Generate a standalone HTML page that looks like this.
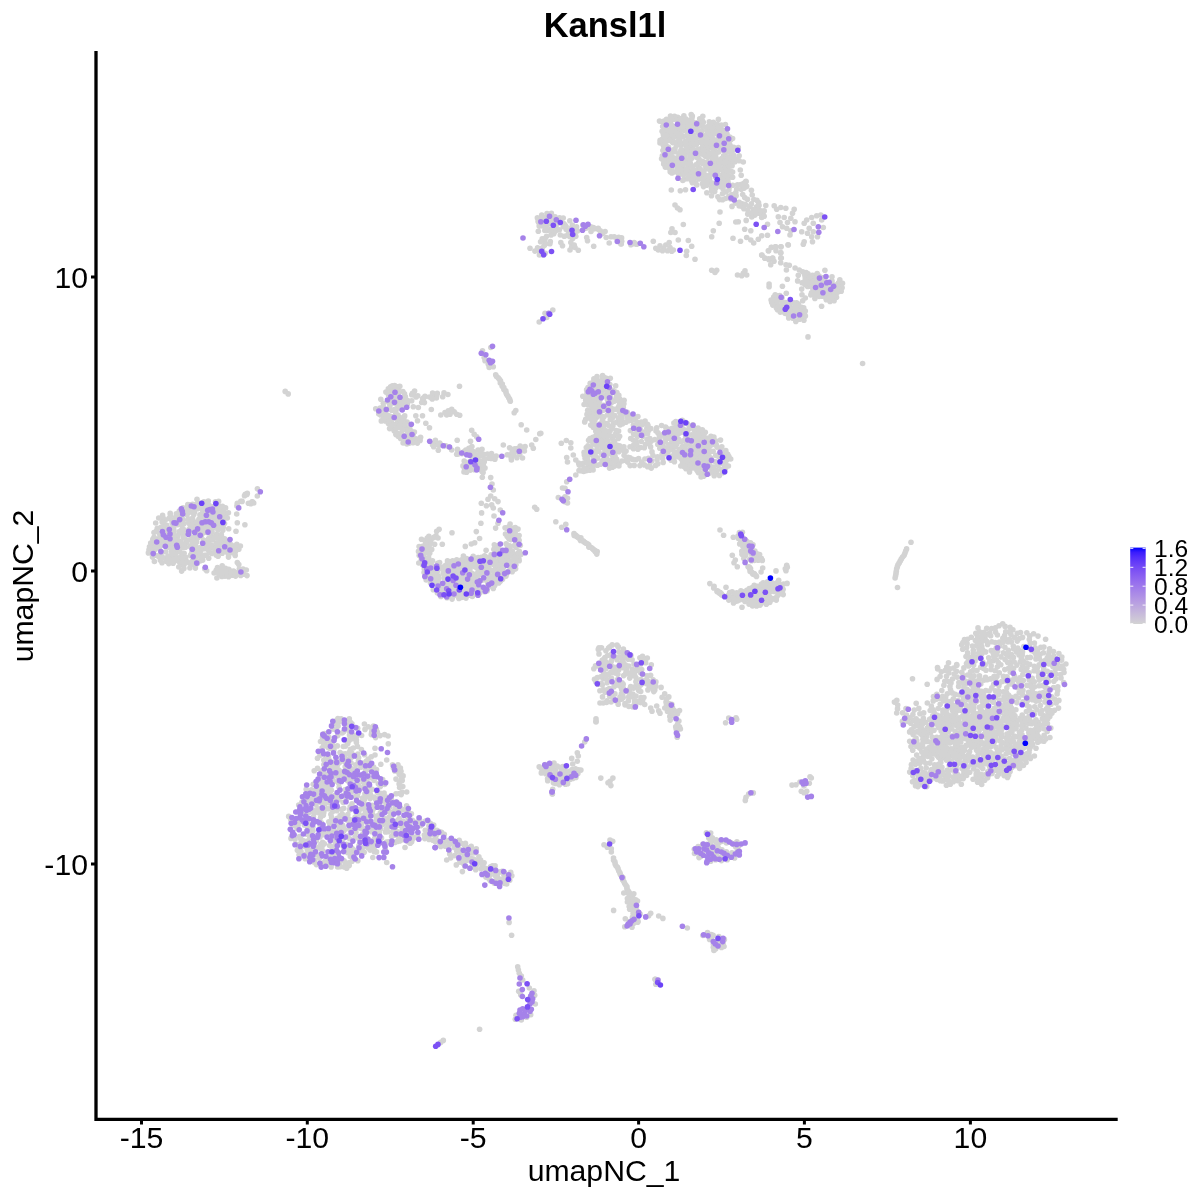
<!DOCTYPE html>
<html><head><meta charset="utf-8"><title>Kansl1l</title>
<style>
html,body{margin:0;padding:0;background:#fff;}
svg{display:block}
text{font-family:"Liberation Sans",sans-serif;fill:#000}
</style></head>
<body>
<svg width="1200" height="1200" viewBox="0 0 1200 1200">
<defs>
<linearGradient id="lg" x1="0" y1="1" x2="0" y2="0">
<stop offset="0.000" stop-color="#d3d3d3"/><stop offset="0.062" stop-color="#cec7d7"/><stop offset="0.125" stop-color="#c8bcda"/><stop offset="0.188" stop-color="#c2b0dd"/><stop offset="0.250" stop-color="#bba5e0"/><stop offset="0.312" stop-color="#b599e3"/><stop offset="0.375" stop-color="#ad8ee6"/><stop offset="0.438" stop-color="#a583e9"/><stop offset="0.500" stop-color="#9d77ec"/><stop offset="0.562" stop-color="#946cee"/><stop offset="0.625" stop-color="#8a60f1"/><stop offset="0.688" stop-color="#7f54f3"/><stop offset="0.750" stop-color="#7248f6"/><stop offset="0.812" stop-color="#633bf8"/><stop offset="0.875" stop-color="#522dfb"/><stop offset="0.938" stop-color="#3a1cfd"/><stop offset="1.000" stop-color="#0000ff"/>
</linearGradient>
</defs>
<rect width="1200" height="1200" fill="#fff"/>
<text x="605" y="37" font-size="34.5" font-weight="bold" text-anchor="middle">Kansl1l</text>
<g fill="#d3d3d3">
<circle cx="682.8" cy="122.9" r="2.8"/>
<circle cx="692.3" cy="116.1" r="2.8"/>
<circle cx="665.5" cy="128.9" r="2.8"/>
<circle cx="679.9" cy="122.3" r="2.8"/>
<circle cx="670.5" cy="158.7" r="2.8"/>
<circle cx="691.8" cy="136.5" r="2.8"/>
<circle cx="723.5" cy="168.5" r="2.8"/>
<circle cx="730.5" cy="171.0" r="2.8"/>
<circle cx="691.0" cy="173.3" r="2.8"/>
<circle cx="712.6" cy="173.9" r="2.8"/>
<circle cx="715.0" cy="159.8" r="2.8"/>
<circle cx="715.5" cy="164.2" r="2.8"/>
<circle cx="688.2" cy="165.9" r="2.8"/>
<circle cx="676.3" cy="142.8" r="2.8"/>
<circle cx="702.4" cy="183.8" r="2.8"/>
<circle cx="690.8" cy="140.2" r="2.8"/>
<circle cx="670.1" cy="129.6" r="2.8"/>
<circle cx="708.3" cy="166.6" r="2.8"/>
<circle cx="730.5" cy="176.7" r="2.8"/>
<circle cx="668.9" cy="138.6" r="2.8"/>
<circle cx="663.6" cy="140.6" r="2.8"/>
<circle cx="667.7" cy="131.3" r="2.8"/>
<circle cx="700.5" cy="122.5" r="2.8"/>
<circle cx="686.6" cy="124.2" r="2.8"/>
<circle cx="683.3" cy="128.9" r="2.8"/>
<circle cx="724.6" cy="178.4" r="2.8"/>
<circle cx="677.3" cy="167.9" r="2.8"/>
<circle cx="674.5" cy="126.7" r="2.8"/>
<circle cx="727.5" cy="150.2" r="2.8"/>
<circle cx="712.0" cy="186.0" r="2.8"/>
<circle cx="717.5" cy="124.5" r="2.8"/>
<circle cx="711.7" cy="139.5" r="2.8"/>
<circle cx="692.4" cy="182.8" r="2.8"/>
<circle cx="680.2" cy="130.3" r="2.8"/>
<circle cx="698.2" cy="154.6" r="2.8"/>
<circle cx="695.8" cy="170.6" r="2.8"/>
<circle cx="702.9" cy="175.6" r="2.8"/>
<circle cx="678.8" cy="174.6" r="2.8"/>
<circle cx="733.8" cy="147.2" r="2.8"/>
<circle cx="714.8" cy="148.0" r="2.8"/>
<circle cx="715.3" cy="183.2" r="2.8"/>
<circle cx="692.2" cy="153.2" r="2.8"/>
<circle cx="663.9" cy="132.4" r="2.8"/>
<circle cx="666.0" cy="145.5" r="2.8"/>
<circle cx="694.1" cy="138.5" r="2.8"/>
<circle cx="666.0" cy="154.2" r="2.8"/>
<circle cx="720.5" cy="134.4" r="2.8"/>
<circle cx="702.5" cy="126.1" r="2.8"/>
<circle cx="725.7" cy="146.3" r="2.8"/>
<circle cx="698.7" cy="167.5" r="2.8"/>
<circle cx="659.5" cy="121.1" r="2.8"/>
<circle cx="712.8" cy="133.8" r="2.8"/>
<circle cx="668.5" cy="147.4" r="2.8"/>
<circle cx="702.2" cy="130.7" r="2.8"/>
<circle cx="672.2" cy="152.3" r="2.8"/>
<circle cx="675.0" cy="159.0" r="2.8"/>
<circle cx="718.3" cy="177.9" r="2.8"/>
<circle cx="727.1" cy="177.3" r="2.8"/>
<circle cx="713.9" cy="168.0" r="2.8"/>
<circle cx="686.0" cy="119.1" r="2.8"/>
<circle cx="723.8" cy="172.6" r="2.8"/>
<circle cx="677.8" cy="171.0" r="2.8"/>
<circle cx="697.6" cy="142.1" r="2.8"/>
<circle cx="708.2" cy="163.8" r="2.8"/>
<circle cx="719.1" cy="135.7" r="2.8"/>
<circle cx="678.1" cy="166.2" r="2.8"/>
<circle cx="699.5" cy="149.0" r="2.8"/>
<circle cx="694.5" cy="178.5" r="2.8"/>
<circle cx="725.8" cy="152.6" r="2.8"/>
<circle cx="732.5" cy="150.8" r="2.8"/>
<circle cx="693.8" cy="135.4" r="2.8"/>
<circle cx="679.9" cy="141.3" r="2.8"/>
<circle cx="686.0" cy="145.9" r="2.8"/>
<circle cx="727.0" cy="134.1" r="2.8"/>
<circle cx="699.0" cy="126.1" r="2.8"/>
<circle cx="725.1" cy="162.8" r="2.8"/>
<circle cx="719.9" cy="163.9" r="2.8"/>
<circle cx="665.8" cy="149.6" r="2.8"/>
<circle cx="703.0" cy="143.1" r="2.8"/>
<circle cx="662.7" cy="138.8" r="2.8"/>
<circle cx="698.4" cy="162.7" r="2.8"/>
<circle cx="728.2" cy="182.9" r="2.8"/>
<circle cx="710.8" cy="173.9" r="2.8"/>
<circle cx="722.5" cy="129.7" r="2.8"/>
<circle cx="688.4" cy="128.9" r="2.8"/>
<circle cx="695.9" cy="129.9" r="2.8"/>
<circle cx="691.2" cy="131.7" r="2.8"/>
<circle cx="674.8" cy="128.7" r="2.8"/>
<circle cx="660.0" cy="143.0" r="2.8"/>
<circle cx="687.6" cy="141.4" r="2.8"/>
<circle cx="679.0" cy="139.6" r="2.8"/>
<circle cx="672.8" cy="140.0" r="2.8"/>
<circle cx="690.4" cy="177.9" r="2.8"/>
<circle cx="732.6" cy="138.5" r="2.8"/>
<circle cx="692.0" cy="151.4" r="2.8"/>
<circle cx="683.2" cy="136.9" r="2.8"/>
<circle cx="671.9" cy="172.9" r="2.8"/>
<circle cx="702.6" cy="137.4" r="2.8"/>
<circle cx="677.7" cy="117.3" r="2.8"/>
<circle cx="693.5" cy="129.8" r="2.8"/>
<circle cx="719.5" cy="180.8" r="2.8"/>
<circle cx="680.2" cy="157.5" r="2.8"/>
<circle cx="676.2" cy="130.7" r="2.8"/>
<circle cx="683.1" cy="143.3" r="2.8"/>
<circle cx="724.8" cy="164.7" r="2.8"/>
<circle cx="725.7" cy="180.2" r="2.8"/>
<circle cx="665.1" cy="126.1" r="2.8"/>
<circle cx="708.5" cy="128.4" r="2.8"/>
<circle cx="676.9" cy="160.2" r="2.8"/>
<circle cx="683.1" cy="166.7" r="2.8"/>
<circle cx="723.6" cy="155.9" r="2.8"/>
<circle cx="702.4" cy="163.5" r="2.8"/>
<circle cx="690.3" cy="133.9" r="2.8"/>
<circle cx="703.8" cy="140.0" r="2.8"/>
<circle cx="686.3" cy="126.7" r="2.8"/>
<circle cx="731.2" cy="148.7" r="2.8"/>
<circle cx="686.9" cy="152.3" r="2.8"/>
<circle cx="728.0" cy="179.3" r="2.8"/>
<circle cx="699.6" cy="142.2" r="2.8"/>
<circle cx="705.2" cy="145.7" r="2.8"/>
<circle cx="720.9" cy="175.2" r="2.8"/>
<circle cx="664.1" cy="121.0" r="2.8"/>
<circle cx="718.3" cy="175.0" r="2.8"/>
<circle cx="685.2" cy="173.2" r="2.8"/>
<circle cx="672.9" cy="132.2" r="2.8"/>
<circle cx="670.6" cy="123.7" r="2.8"/>
<circle cx="709.9" cy="140.3" r="2.8"/>
<circle cx="688.9" cy="176.7" r="2.8"/>
<circle cx="708.1" cy="146.3" r="2.8"/>
<circle cx="674.5" cy="164.7" r="2.8"/>
<circle cx="705.8" cy="127.3" r="2.8"/>
<circle cx="710.0" cy="182.8" r="2.8"/>
<circle cx="710.7" cy="147.2" r="2.8"/>
<circle cx="707.4" cy="152.5" r="2.8"/>
<circle cx="681.6" cy="135.3" r="2.8"/>
<circle cx="719.7" cy="168.1" r="2.8"/>
<circle cx="702.7" cy="146.6" r="2.8"/>
<circle cx="727.5" cy="168.4" r="2.8"/>
<circle cx="704.2" cy="135.9" r="2.8"/>
<circle cx="672.6" cy="119.6" r="2.8"/>
<circle cx="709.7" cy="179.0" r="2.8"/>
<circle cx="716.7" cy="140.9" r="2.8"/>
<circle cx="728.5" cy="161.8" r="2.8"/>
<circle cx="721.7" cy="139.2" r="2.8"/>
<circle cx="715.3" cy="151.8" r="2.8"/>
<circle cx="685.6" cy="143.7" r="2.8"/>
<circle cx="675.0" cy="148.7" r="2.8"/>
<circle cx="727.8" cy="165.4" r="2.8"/>
<circle cx="721.7" cy="158.5" r="2.8"/>
<circle cx="683.1" cy="153.8" r="2.8"/>
<circle cx="718.3" cy="146.5" r="2.8"/>
<circle cx="672.7" cy="142.6" r="2.8"/>
<circle cx="667.1" cy="160.5" r="2.8"/>
<circle cx="692.0" cy="158.1" r="2.8"/>
<circle cx="717.3" cy="183.5" r="2.8"/>
<circle cx="713.6" cy="163.7" r="2.8"/>
<circle cx="663.3" cy="145.2" r="2.8"/>
<circle cx="676.5" cy="145.6" r="2.8"/>
<circle cx="722.1" cy="142.7" r="2.8"/>
<circle cx="699.7" cy="118.7" r="2.8"/>
<circle cx="688.8" cy="173.8" r="2.8"/>
<circle cx="691.0" cy="145.3" r="2.8"/>
<circle cx="674.2" cy="172.0" r="2.8"/>
<circle cx="724.2" cy="142.9" r="2.8"/>
<circle cx="702.3" cy="120.7" r="2.8"/>
<circle cx="678.0" cy="141.6" r="2.8"/>
<circle cx="680.9" cy="150.2" r="2.8"/>
<circle cx="731.9" cy="160.9" r="2.8"/>
<circle cx="723.0" cy="180.1" r="2.8"/>
<circle cx="727.5" cy="141.5" r="2.8"/>
<circle cx="709.9" cy="163.2" r="2.8"/>
<circle cx="696.8" cy="185.0" r="2.8"/>
<circle cx="700.3" cy="174.4" r="2.8"/>
<circle cx="702.8" cy="179.1" r="2.8"/>
<circle cx="698.4" cy="132.9" r="2.8"/>
<circle cx="723.3" cy="137.9" r="2.8"/>
<circle cx="709.7" cy="175.6" r="2.8"/>
<circle cx="723.1" cy="186.0" r="2.8"/>
<circle cx="712.5" cy="148.4" r="2.8"/>
<circle cx="686.7" cy="178.7" r="2.8"/>
<circle cx="681.0" cy="145.4" r="2.8"/>
<circle cx="663.7" cy="163.9" r="2.8"/>
<circle cx="717.1" cy="130.5" r="2.8"/>
<circle cx="721.8" cy="169.7" r="2.8"/>
<circle cx="709.2" cy="169.3" r="2.8"/>
<circle cx="713.4" cy="122.4" r="2.8"/>
<circle cx="683.6" cy="160.7" r="2.8"/>
<circle cx="705.6" cy="178.2" r="2.8"/>
<circle cx="725.0" cy="182.5" r="2.8"/>
<circle cx="724.6" cy="174.6" r="2.8"/>
<circle cx="731.4" cy="153.7" r="2.8"/>
<circle cx="671.5" cy="125.4" r="2.8"/>
<circle cx="689.6" cy="153.3" r="2.8"/>
<circle cx="696.9" cy="157.5" r="2.8"/>
<circle cx="706.6" cy="143.4" r="2.8"/>
<circle cx="688.8" cy="147.6" r="2.8"/>
<circle cx="664.0" cy="137.3" r="2.8"/>
<circle cx="684.2" cy="178.8" r="2.8"/>
<circle cx="669.3" cy="151.2" r="2.8"/>
<circle cx="673.1" cy="150.0" r="2.8"/>
<circle cx="663.3" cy="134.4" r="2.8"/>
<circle cx="672.7" cy="161.3" r="2.8"/>
<circle cx="686.9" cy="159.8" r="2.8"/>
<circle cx="729.7" cy="137.0" r="2.8"/>
<circle cx="715.3" cy="126.6" r="2.8"/>
<circle cx="700.1" cy="168.8" r="2.8"/>
<circle cx="679.0" cy="120.5" r="2.8"/>
<circle cx="691.2" cy="180.2" r="2.8"/>
<circle cx="710.3" cy="132.4" r="2.8"/>
<circle cx="734.8" cy="162.0" r="2.8"/>
<circle cx="665.2" cy="159.8" r="2.8"/>
<circle cx="695.2" cy="154.7" r="2.8"/>
<circle cx="662.4" cy="155.8" r="2.8"/>
<circle cx="711.1" cy="127.1" r="2.8"/>
<circle cx="707.8" cy="149.3" r="2.8"/>
<circle cx="718.4" cy="119.4" r="2.8"/>
<circle cx="708.1" cy="181.0" r="2.8"/>
<circle cx="728.3" cy="151.9" r="2.8"/>
<circle cx="667.4" cy="158.2" r="2.8"/>
<circle cx="682.8" cy="180.5" r="2.8"/>
<circle cx="703.7" cy="151.7" r="2.8"/>
<circle cx="725.4" cy="124.5" r="2.8"/>
<circle cx="668.4" cy="134.4" r="2.8"/>
<circle cx="670.6" cy="162.7" r="2.8"/>
<circle cx="681.4" cy="167.8" r="2.8"/>
<circle cx="705.5" cy="165.9" r="2.8"/>
<circle cx="677.8" cy="164.1" r="2.8"/>
<circle cx="690.4" cy="120.4" r="2.8"/>
<circle cx="707.9" cy="177.4" r="2.8"/>
<circle cx="682.8" cy="169.8" r="2.8"/>
<circle cx="693.7" cy="142.4" r="2.8"/>
<circle cx="688.6" cy="170.1" r="2.8"/>
<circle cx="696.7" cy="176.3" r="2.8"/>
<circle cx="716.8" cy="133.8" r="2.8"/>
<circle cx="690.5" cy="165.1" r="2.8"/>
<circle cx="685.3" cy="162.6" r="2.8"/>
<circle cx="718.3" cy="169.6" r="2.8"/>
<circle cx="672.0" cy="135.5" r="2.8"/>
<circle cx="710.0" cy="125.3" r="2.8"/>
<circle cx="676.0" cy="119.6" r="2.8"/>
<circle cx="715.6" cy="177.3" r="2.8"/>
<circle cx="710.0" cy="155.6" r="2.8"/>
<circle cx="690.4" cy="127.1" r="2.8"/>
<circle cx="712.8" cy="130.1" r="2.8"/>
<circle cx="702.3" cy="173.6" r="2.8"/>
<circle cx="694.7" cy="174.1" r="2.8"/>
<circle cx="671.9" cy="168.7" r="2.8"/>
<circle cx="695.4" cy="140.5" r="2.8"/>
<circle cx="692.4" cy="126.1" r="2.8"/>
<circle cx="715.9" cy="185.6" r="2.8"/>
<circle cx="714.3" cy="123.9" r="2.8"/>
<circle cx="707.5" cy="135.0" r="2.8"/>
<circle cx="710.8" cy="135.2" r="2.8"/>
<circle cx="671.2" cy="166.8" r="2.8"/>
<circle cx="731.8" cy="155.9" r="2.8"/>
<circle cx="699.2" cy="159.3" r="2.8"/>
<circle cx="716.0" cy="145.8" r="2.8"/>
<circle cx="703.5" cy="186.6" r="2.8"/>
<circle cx="665.4" cy="141.4" r="2.8"/>
<circle cx="676.9" cy="126.4" r="2.8"/>
<circle cx="670.9" cy="156.4" r="2.8"/>
<circle cx="688.8" cy="149.9" r="2.8"/>
<circle cx="669.5" cy="140.4" r="2.8"/>
<circle cx="667.4" cy="166.1" r="2.8"/>
<circle cx="677.5" cy="157.7" r="2.8"/>
<circle cx="721.8" cy="163.0" r="2.8"/>
<circle cx="681.1" cy="173.8" r="2.8"/>
<circle cx="685.1" cy="156.1" r="2.8"/>
<circle cx="715.8" cy="128.5" r="2.8"/>
<circle cx="729.6" cy="164.2" r="2.8"/>
<circle cx="684.3" cy="121.7" r="2.8"/>
<circle cx="709.0" cy="138.2" r="2.8"/>
<circle cx="683.3" cy="118.1" r="2.8"/>
<circle cx="705.7" cy="156.5" r="2.8"/>
<circle cx="718.9" cy="131.8" r="2.8"/>
<circle cx="678.9" cy="153.9" r="2.8"/>
<circle cx="696.0" cy="164.8" r="2.8"/>
<circle cx="670.2" cy="171.7" r="2.8"/>
<circle cx="673.6" cy="157.7" r="2.8"/>
<circle cx="678.0" cy="172.8" r="2.8"/>
<circle cx="706.5" cy="148.0" r="2.8"/>
<circle cx="718.7" cy="152.0" r="2.8"/>
<circle cx="690.1" cy="156.6" r="2.8"/>
<circle cx="688.2" cy="144.4" r="2.8"/>
<circle cx="727.8" cy="175.5" r="2.8"/>
<circle cx="682.9" cy="164.1" r="2.8"/>
<circle cx="719.1" cy="141.8" r="2.8"/>
<circle cx="700.6" cy="153.9" r="2.8"/>
<circle cx="726.4" cy="184.7" r="2.8"/>
<circle cx="678.6" cy="137.3" r="2.8"/>
<circle cx="723.4" cy="161.7" r="2.8"/>
<circle cx="686.6" cy="169.6" r="2.8"/>
<circle cx="725.0" cy="139.6" r="2.8"/>
<circle cx="712.4" cy="137.7" r="2.8"/>
<circle cx="700.3" cy="151.6" r="2.8"/>
<circle cx="690.7" cy="149.7" r="2.8"/>
<circle cx="699.1" cy="178.9" r="2.8"/>
<circle cx="691.2" cy="114.6" r="2.8"/>
<circle cx="701.3" cy="141.4" r="2.8"/>
<circle cx="723.7" cy="134.6" r="2.8"/>
<circle cx="687.7" cy="163.6" r="2.8"/>
<circle cx="662.9" cy="150.6" r="2.8"/>
<circle cx="662.5" cy="122.0" r="2.8"/>
<circle cx="723.0" cy="159.9" r="2.8"/>
<circle cx="685.4" cy="141.5" r="2.8"/>
<circle cx="696.4" cy="122.7" r="2.8"/>
<circle cx="669.0" cy="154.9" r="2.8"/>
<circle cx="730.2" cy="152.1" r="2.8"/>
<circle cx="706.3" cy="175.5" r="2.8"/>
<circle cx="718.3" cy="166.8" r="2.8"/>
<circle cx="672.0" cy="128.6" r="2.8"/>
<circle cx="723.3" cy="150.2" r="2.8"/>
<circle cx="665.3" cy="167.1" r="2.8"/>
<circle cx="724.8" cy="131.2" r="2.8"/>
<circle cx="732.1" cy="165.7" r="2.8"/>
<circle cx="719.8" cy="184.4" r="2.8"/>
<circle cx="678.8" cy="123.8" r="2.8"/>
<circle cx="727.2" cy="163.3" r="2.8"/>
<circle cx="720.3" cy="149.4" r="2.8"/>
<circle cx="679.8" cy="162.7" r="2.8"/>
<circle cx="726.3" cy="157.4" r="2.8"/>
<circle cx="713.5" cy="144.7" r="2.8"/>
<circle cx="712.6" cy="158.4" r="2.8"/>
<circle cx="732.6" cy="172.1" r="2.8"/>
<circle cx="678.5" cy="128.1" r="2.8"/>
<circle cx="709.3" cy="121.9" r="2.8"/>
<circle cx="683.5" cy="157.6" r="2.8"/>
<circle cx="732.6" cy="177.2" r="2.8"/>
<circle cx="713.0" cy="169.7" r="2.8"/>
<circle cx="680.0" cy="143.3" r="2.8"/>
<circle cx="686.6" cy="135.5" r="2.8"/>
<circle cx="694.2" cy="144.2" r="2.8"/>
<circle cx="693.0" cy="169.1" r="2.8"/>
<circle cx="711.4" cy="187.9" r="2.8"/>
<circle cx="683.3" cy="174.4" r="2.8"/>
<circle cx="714.6" cy="172.4" r="2.8"/>
<circle cx="706.5" cy="168.1" r="2.8"/>
<circle cx="721.4" cy="125.1" r="2.8"/>
<circle cx="712.0" cy="125.4" r="2.8"/>
<circle cx="695.6" cy="182.7" r="2.8"/>
<circle cx="696.3" cy="124.8" r="2.8"/>
<circle cx="702.8" cy="116.3" r="2.8"/>
<circle cx="675.1" cy="151.8" r="2.8"/>
<circle cx="706.6" cy="185.3" r="2.8"/>
<circle cx="692.8" cy="122.0" r="2.8"/>
<circle cx="707.4" cy="131.8" r="2.8"/>
<circle cx="667.7" cy="121.7" r="2.8"/>
<circle cx="730.1" cy="145.3" r="2.8"/>
<circle cx="711.4" cy="153.0" r="2.8"/>
<circle cx="719.0" cy="162.3" r="2.8"/>
<circle cx="661.6" cy="158.8" r="2.8"/>
<circle cx="700.0" cy="137.0" r="2.8"/>
<circle cx="717.9" cy="138.8" r="2.8"/>
<circle cx="726.4" cy="169.9" r="2.8"/>
<circle cx="665.2" cy="152.5" r="2.8"/>
<circle cx="674.0" cy="136.8" r="2.8"/>
<circle cx="687.0" cy="147.5" r="2.8"/>
<circle cx="663.9" cy="148.2" r="2.8"/>
<circle cx="721.5" cy="146.7" r="2.8"/>
<circle cx="666.5" cy="119.2" r="2.8"/>
<circle cx="691.7" cy="138.4" r="2.8"/>
<circle cx="682.6" cy="124.7" r="2.8"/>
<circle cx="690.3" cy="163.2" r="2.8"/>
<circle cx="720.1" cy="177.9" r="2.8"/>
<circle cx="722.5" cy="182.7" r="2.8"/>
<circle cx="674.5" cy="116.2" r="2.8"/>
<circle cx="692.0" cy="118.0" r="2.8"/>
<circle cx="685.7" cy="128.8" r="2.8"/>
<circle cx="677.2" cy="133.3" r="2.8"/>
<circle cx="719.6" cy="130.0" r="2.8"/>
<circle cx="717.2" cy="172.6" r="2.8"/>
<circle cx="681.1" cy="123.8" r="2.8"/>
<circle cx="695.6" cy="126.8" r="2.8"/>
<circle cx="688.7" cy="123.0" r="2.8"/>
<circle cx="728.3" cy="170.9" r="2.8"/>
<circle cx="712.2" cy="171.5" r="2.8"/>
<circle cx="670.6" cy="119.9" r="2.8"/>
<circle cx="682.8" cy="150.2" r="2.8"/>
<circle cx="696.1" cy="138.0" r="2.8"/>
<circle cx="733.8" cy="155.2" r="2.8"/>
<circle cx="668.7" cy="167.7" r="2.8"/>
<circle cx="729.1" cy="142.4" r="2.8"/>
<circle cx="664.6" cy="123.8" r="2.8"/>
<circle cx="688.6" cy="131.4" r="2.8"/>
<circle cx="704.6" cy="147.9" r="2.8"/>
<circle cx="703.3" cy="122.2" r="2.8"/>
<circle cx="704.1" cy="170.9" r="2.8"/>
<circle cx="666.2" cy="163.3" r="2.8"/>
<circle cx="728.8" cy="147.2" r="2.8"/>
<circle cx="714.0" cy="156.4" r="2.8"/>
<circle cx="695.5" cy="151.3" r="2.8"/>
<circle cx="714.1" cy="140.5" r="2.8"/>
<circle cx="729.4" cy="166.0" r="2.8"/>
<circle cx="732.9" cy="159.4" r="2.8"/>
<circle cx="688.4" cy="138.2" r="2.8"/>
<circle cx="727.0" cy="148.0" r="2.8"/>
<circle cx="670.5" cy="116.1" r="2.8"/>
<circle cx="710.9" cy="123.4" r="2.8"/>
<circle cx="699.0" cy="124.3" r="2.8"/>
<circle cx="698.3" cy="152.2" r="2.8"/>
<circle cx="700.8" cy="133.3" r="2.8"/>
<circle cx="699.6" cy="131.0" r="2.8"/>
<circle cx="718.3" cy="127.6" r="2.8"/>
<circle cx="660.1" cy="140.3" r="2.8"/>
<circle cx="708.0" cy="157.2" r="2.8"/>
<circle cx="697.8" cy="149.6" r="2.8"/>
<circle cx="714.9" cy="131.8" r="2.8"/>
<circle cx="664.0" cy="161.2" r="2.8"/>
<circle cx="692.9" cy="179.4" r="2.8"/>
<circle cx="683.9" cy="115.8" r="2.8"/>
<circle cx="702.6" cy="161.3" r="2.8"/>
<circle cx="730.6" cy="140.0" r="2.8"/>
<circle cx="711.7" cy="144.1" r="2.8"/>
<circle cx="706.9" cy="162.4" r="2.8"/>
<circle cx="692.6" cy="166.3" r="2.8"/>
<circle cx="704.1" cy="155.1" r="2.8"/>
<circle cx="687.0" cy="150.2" r="2.8"/>
<circle cx="662.1" cy="131.3" r="2.8"/>
<circle cx="692.6" cy="174.3" r="2.8"/>
<circle cx="680.8" cy="169.6" r="2.8"/>
<circle cx="711.6" cy="165.0" r="2.8"/>
<circle cx="706.5" cy="138.3" r="2.8"/>
<circle cx="662.7" cy="126.5" r="2.8"/>
<circle cx="690.1" cy="160.0" r="2.8"/>
<circle cx="708.1" cy="126.5" r="2.8"/>
<circle cx="716.1" cy="158.0" r="2.8"/>
<circle cx="715.9" cy="187.8" r="2.8"/>
<circle cx="666.6" cy="151.3" r="2.8"/>
<circle cx="693.4" cy="176.3" r="2.8"/>
<circle cx="696.4" cy="144.6" r="2.8"/>
<circle cx="727.2" cy="159.1" r="2.8"/>
<circle cx="677.5" cy="162.0" r="2.8"/>
<circle cx="733.9" cy="157.4" r="2.8"/>
<circle cx="715.8" cy="154.3" r="2.8"/>
<circle cx="666.4" cy="135.6" r="2.8"/>
<circle cx="728.3" cy="157.5" r="2.8"/>
<circle cx="715.1" cy="166.3" r="2.8"/>
<circle cx="681.3" cy="118.5" r="2.8"/>
<circle cx="712.2" cy="183.0" r="2.8"/>
<circle cx="684.3" cy="130.5" r="2.8"/>
<circle cx="680.2" cy="133.8" r="2.8"/>
<circle cx="703.9" cy="182.1" r="2.8"/>
<circle cx="698.3" cy="174.2" r="2.8"/>
<circle cx="687.4" cy="120.6" r="2.8"/>
<circle cx="693.4" cy="149.3" r="2.8"/>
<circle cx="736.1" cy="159.5" r="2.8"/>
<circle cx="682.6" cy="126.8" r="2.8"/>
<circle cx="703.4" cy="149.9" r="2.8"/>
<circle cx="727.0" cy="139.5" r="2.8"/>
<circle cx="719.7" cy="160.3" r="2.8"/>
<circle cx="758.7" cy="213.3" r="2.8"/>
<circle cx="764.2" cy="210.9" r="2.8"/>
<circle cx="762.9" cy="213.7" r="2.8"/>
<circle cx="719.6" cy="199.6" r="2.8"/>
<circle cx="739.2" cy="202.3" r="2.8"/>
<circle cx="726.0" cy="192.0" r="2.8"/>
<circle cx="754.9" cy="215.1" r="2.8"/>
<circle cx="742.3" cy="206.6" r="2.8"/>
<circle cx="761.7" cy="217.5" r="2.8"/>
<circle cx="758.5" cy="202.5" r="2.8"/>
<circle cx="749.6" cy="206.3" r="2.8"/>
<circle cx="742.7" cy="194.5" r="2.8"/>
<circle cx="730.8" cy="199.0" r="2.8"/>
<circle cx="735.8" cy="192.5" r="2.8"/>
<circle cx="736.1" cy="195.8" r="2.8"/>
<circle cx="753.8" cy="199.5" r="2.8"/>
<circle cx="744.7" cy="197.6" r="2.8"/>
<circle cx="725.7" cy="198.5" r="2.8"/>
<circle cx="746.0" cy="181.4" r="2.8"/>
<circle cx="714.7" cy="191.6" r="2.8"/>
<circle cx="735.5" cy="203.1" r="2.8"/>
<circle cx="751.4" cy="203.9" r="2.8"/>
<circle cx="722.5" cy="193.7" r="2.8"/>
<circle cx="751.4" cy="190.3" r="2.8"/>
<circle cx="747.7" cy="209.8" r="2.8"/>
<circle cx="711.6" cy="191.0" r="2.8"/>
<circle cx="751.8" cy="217.0" r="2.8"/>
<circle cx="711.5" cy="195.7" r="2.8"/>
<circle cx="759.0" cy="205.4" r="2.8"/>
<circle cx="752.2" cy="195.0" r="2.8"/>
<circle cx="742.2" cy="203.7" r="2.8"/>
<circle cx="752.0" cy="212.8" r="2.8"/>
<circle cx="737.5" cy="184.8" r="2.8"/>
<circle cx="753.3" cy="209.6" r="2.8"/>
<circle cx="743.7" cy="183.3" r="2.8"/>
<circle cx="732.0" cy="206.4" r="2.8"/>
<circle cx="756.6" cy="206.8" r="2.8"/>
<circle cx="747.5" cy="199.2" r="2.8"/>
<circle cx="756.9" cy="200.2" r="2.8"/>
<circle cx="732.8" cy="185.3" r="2.8"/>
<circle cx="747.7" cy="214.1" r="2.8"/>
<circle cx="741.3" cy="189.3" r="2.8"/>
<circle cx="755.3" cy="212.1" r="2.8"/>
<circle cx="746.7" cy="186.4" r="2.8"/>
<circle cx="743.9" cy="208.8" r="2.8"/>
<circle cx="729.9" cy="186.3" r="2.8"/>
<circle cx="740.8" cy="184.5" r="2.8"/>
<circle cx="728.9" cy="196.4" r="2.8"/>
<circle cx="728.9" cy="190.0" r="2.8"/>
<circle cx="736.7" cy="189.1" r="2.8"/>
<circle cx="746.2" cy="220.4" r="2.8"/>
<circle cx="739.2" cy="206.0" r="2.8"/>
<circle cx="744.2" cy="188.1" r="2.8"/>
<circle cx="723.1" cy="189.0" r="2.8"/>
<circle cx="722.6" cy="199.8" r="2.8"/>
<circle cx="731.9" cy="194.5" r="2.8"/>
<circle cx="758.4" cy="209.3" r="2.8"/>
<circle cx="764.2" cy="216.3" r="2.8"/>
<circle cx="706.8" cy="192.7" r="2.8"/>
<circle cx="734.0" cy="199.6" r="2.8"/>
<circle cx="760.7" cy="210.8" r="2.8"/>
<circle cx="720.5" cy="186.6" r="2.8"/>
<circle cx="717.9" cy="196.8" r="2.8"/>
<circle cx="745.3" cy="204.4" r="2.8"/>
<circle cx="738.3" cy="147.5" r="2.8"/>
<circle cx="739.2" cy="155.8" r="2.8"/>
<circle cx="739.2" cy="160.8" r="2.8"/>
<circle cx="743.3" cy="162.0" r="2.8"/>
<circle cx="740.3" cy="170.0" r="2.8"/>
<circle cx="741.2" cy="175.3" r="2.8"/>
<circle cx="745.8" cy="181.7" r="2.8"/>
<circle cx="671.3" cy="190.0" r="2.8"/>
<circle cx="680.3" cy="190.8" r="2.8"/>
<circle cx="685.5" cy="189.7" r="2.8"/>
<circle cx="675.0" cy="205.0" r="2.8"/>
<circle cx="677.5" cy="208.0" r="2.8"/>
<circle cx="680.0" cy="209.7" r="2.8"/>
<circle cx="683.3" cy="224.5" r="2.8"/>
<circle cx="672.0" cy="228.8" r="2.8"/>
<circle cx="670.8" cy="232.5" r="2.8"/>
<circle cx="675.0" cy="232.5" r="2.8"/>
<circle cx="653.3" cy="241.2" r="2.8"/>
<circle cx="678.3" cy="240.0" r="2.8"/>
<circle cx="688.3" cy="240.5" r="2.8"/>
<circle cx="691.7" cy="246.3" r="2.8"/>
<circle cx="686.7" cy="251.3" r="2.8"/>
<circle cx="686.3" cy="255.5" r="2.8"/>
<circle cx="695.0" cy="259.2" r="2.8"/>
<circle cx="655.8" cy="248.3" r="2.8"/>
<circle cx="660.0" cy="245.8" r="2.8"/>
<circle cx="663.3" cy="248.3" r="2.8"/>
<circle cx="665.8" cy="245.0" r="2.8"/>
<circle cx="669.2" cy="242.5" r="2.8"/>
<circle cx="670.0" cy="247.5" r="2.8"/>
<circle cx="667.5" cy="250.8" r="2.8"/>
<circle cx="673.3" cy="250.0" r="2.8"/>
<circle cx="658.3" cy="250.0" r="2.8"/>
<circle cx="662.5" cy="250.8" r="2.8"/>
<circle cx="671.7" cy="251.3" r="2.8"/>
<circle cx="634.2" cy="242.5" r="2.8"/>
<circle cx="636.7" cy="244.2" r="2.8"/>
<circle cx="711.7" cy="270.3" r="2.8"/>
<circle cx="716.7" cy="270.3" r="2.8"/>
<circle cx="715.0" cy="272.5" r="2.8"/>
<circle cx="720.0" cy="212.0" r="2.8"/>
<circle cx="719.2" cy="223.3" r="2.8"/>
<circle cx="713.3" cy="230.8" r="2.8"/>
<circle cx="711.7" cy="236.7" r="2.8"/>
<circle cx="738.3" cy="221.7" r="2.8"/>
<circle cx="735.8" cy="222.0" r="2.8"/>
<circle cx="733.0" cy="238.3" r="2.8"/>
<circle cx="740.5" cy="241.3" r="2.8"/>
<circle cx="744.7" cy="229.2" r="2.8"/>
<circle cx="746.7" cy="237.5" r="2.8"/>
<circle cx="750.8" cy="240.0" r="2.8"/>
<circle cx="753.7" cy="243.0" r="2.8"/>
<circle cx="758.3" cy="239.2" r="2.8"/>
<circle cx="761.7" cy="235.8" r="2.8"/>
<circle cx="767.5" cy="235.3" r="2.8"/>
<circle cx="750.8" cy="230.8" r="2.8"/>
<circle cx="767.5" cy="224.2" r="2.8"/>
<circle cx="765.8" cy="205.5" r="2.8"/>
<circle cx="774.2" cy="205.8" r="2.8"/>
<circle cx="776.7" cy="209.2" r="2.8"/>
<circle cx="780.8" cy="207.5" r="2.8"/>
<circle cx="785.8" cy="208.3" r="2.8"/>
<circle cx="794.2" cy="209.2" r="2.8"/>
<circle cx="792.5" cy="213.3" r="2.8"/>
<circle cx="778.3" cy="216.7" r="2.8"/>
<circle cx="784.2" cy="217.5" r="2.8"/>
<circle cx="790.8" cy="218.3" r="2.8"/>
<circle cx="780.0" cy="222.5" r="2.8"/>
<circle cx="787.5" cy="222.5" r="2.8"/>
<circle cx="795.0" cy="221.7" r="2.8"/>
<circle cx="782.5" cy="226.7" r="2.8"/>
<circle cx="786.7" cy="228.3" r="2.8"/>
<circle cx="790.8" cy="230.8" r="2.8"/>
<circle cx="790.0" cy="235.0" r="2.8"/>
<circle cx="788.3" cy="245.0" r="2.8"/>
<circle cx="780.8" cy="246.7" r="2.8"/>
<circle cx="801.7" cy="231.7" r="2.8"/>
<circle cx="804.2" cy="223.3" r="2.8"/>
<circle cx="806.7" cy="220.0" r="2.8"/>
<circle cx="811.7" cy="217.5" r="2.8"/>
<circle cx="816.7" cy="215.8" r="2.8"/>
<circle cx="820.8" cy="215.0" r="2.8"/>
<circle cx="821.7" cy="220.0" r="2.8"/>
<circle cx="813.3" cy="223.3" r="2.8"/>
<circle cx="809.2" cy="228.3" r="2.8"/>
<circle cx="807.5" cy="233.3" r="2.8"/>
<circle cx="813.3" cy="231.7" r="2.8"/>
<circle cx="811.7" cy="236.7" r="2.8"/>
<circle cx="817.5" cy="236.7" r="2.8"/>
<circle cx="823.3" cy="227.5" r="2.8"/>
<circle cx="812.5" cy="241.7" r="2.8"/>
<circle cx="804.2" cy="241.7" r="2.8"/>
<circle cx="803.3" cy="244.2" r="2.8"/>
<circle cx="768.3" cy="250.8" r="2.8"/>
<circle cx="771.7" cy="247.5" r="2.8"/>
<circle cx="775.8" cy="246.7" r="2.8"/>
<circle cx="780.8" cy="252.5" r="2.8"/>
<circle cx="761.7" cy="255.0" r="2.8"/>
<circle cx="765.0" cy="258.3" r="2.8"/>
<circle cx="769.2" cy="260.0" r="2.8"/>
<circle cx="772.5" cy="258.3" r="2.8"/>
<circle cx="780.8" cy="258.3" r="2.8"/>
<circle cx="737.5" cy="275.0" r="2.8"/>
<circle cx="741.7" cy="275.8" r="2.8"/>
<circle cx="745.0" cy="270.8" r="2.8"/>
<circle cx="746.7" cy="275.0" r="2.8"/>
<circle cx="743.3" cy="273.3" r="2.8"/>
<circle cx="762.0" cy="255.3" r="2.8"/>
<circle cx="764.7" cy="258.0" r="2.8"/>
<circle cx="768.7" cy="258.7" r="2.8"/>
<circle cx="772.7" cy="258.0" r="2.8"/>
<circle cx="774.0" cy="261.3" r="2.8"/>
<circle cx="770.7" cy="264.7" r="2.8"/>
<circle cx="768.7" cy="250.7" r="2.8"/>
<circle cx="771.3" cy="247.3" r="2.8"/>
<circle cx="775.3" cy="246.7" r="2.8"/>
<circle cx="776.0" cy="250.7" r="2.8"/>
<circle cx="781.1" cy="246.7" r="2.8"/>
<circle cx="788.0" cy="244.7" r="2.8"/>
<circle cx="780.7" cy="253.3" r="2.8"/>
<circle cx="781.3" cy="258.0" r="2.8"/>
<circle cx="780.7" cy="262.7" r="2.8"/>
<circle cx="786.0" cy="264.7" r="2.8"/>
<circle cx="789.3" cy="265.3" r="2.8"/>
<circle cx="786.4" cy="270.0" r="2.8"/>
<circle cx="795.1" cy="268.0" r="2.8"/>
<circle cx="799.3" cy="270.0" r="2.8"/>
<circle cx="798.3" cy="275.3" r="2.8"/>
<circle cx="787.3" cy="279.3" r="2.8"/>
<circle cx="769.1" cy="284.0" r="2.8"/>
<circle cx="769.1" cy="286.7" r="2.8"/>
<circle cx="782.4" cy="286.3" r="2.8"/>
<circle cx="786.3" cy="293.3" r="2.8"/>
<circle cx="797.6" cy="280.9" r="2.8"/>
<circle cx="802.0" cy="282.7" r="2.8"/>
<circle cx="801.7" cy="289.1" r="2.8"/>
<circle cx="802.0" cy="294.7" r="2.8"/>
<circle cx="805.3" cy="298.0" r="2.8"/>
<circle cx="802.7" cy="300.7" r="2.8"/>
<circle cx="821.6" cy="306.3" r="2.8"/>
<circle cx="808.0" cy="336.9" r="2.8"/>
<circle cx="824.9" cy="270.3" r="2.8"/>
<circle cx="832.0" cy="276.7" r="2.8"/>
<circle cx="822.0" cy="283.7" r="2.8"/>
<circle cx="824.7" cy="296.7" r="2.8"/>
<circle cx="818.4" cy="284.0" r="2.8"/>
<circle cx="816.8" cy="294.0" r="2.8"/>
<circle cx="813.0" cy="289.2" r="2.8"/>
<circle cx="819.7" cy="278.4" r="2.8"/>
<circle cx="817.5" cy="286.3" r="2.8"/>
<circle cx="836.4" cy="287.0" r="2.8"/>
<circle cx="806.8" cy="279.9" r="2.8"/>
<circle cx="814.9" cy="298.4" r="2.8"/>
<circle cx="842.1" cy="287.7" r="2.8"/>
<circle cx="819.1" cy="296.5" r="2.8"/>
<circle cx="833.8" cy="287.7" r="2.8"/>
<circle cx="826.3" cy="294.8" r="2.8"/>
<circle cx="810.5" cy="286.3" r="2.8"/>
<circle cx="830.1" cy="282.7" r="2.8"/>
<circle cx="814.1" cy="284.1" r="2.8"/>
<circle cx="822.9" cy="277.8" r="2.8"/>
<circle cx="826.0" cy="291.0" r="2.8"/>
<circle cx="804.5" cy="281.6" r="2.8"/>
<circle cx="802.7" cy="271.7" r="2.8"/>
<circle cx="832.6" cy="294.5" r="2.8"/>
<circle cx="828.7" cy="287.0" r="2.8"/>
<circle cx="828.3" cy="290.6" r="2.8"/>
<circle cx="839.8" cy="279.9" r="2.8"/>
<circle cx="810.8" cy="295.0" r="2.8"/>
<circle cx="807.3" cy="276.6" r="2.8"/>
<circle cx="826.3" cy="299.7" r="2.8"/>
<circle cx="812.5" cy="275.4" r="2.8"/>
<circle cx="838.6" cy="282.7" r="2.8"/>
<circle cx="832.0" cy="281.0" r="2.8"/>
<circle cx="835.8" cy="294.2" r="2.8"/>
<circle cx="819.8" cy="294.3" r="2.8"/>
<circle cx="815.8" cy="275.3" r="2.8"/>
<circle cx="820.7" cy="288.4" r="2.8"/>
<circle cx="808.0" cy="273.9" r="2.8"/>
<circle cx="830.0" cy="301.4" r="2.8"/>
<circle cx="839.0" cy="286.7" r="2.8"/>
<circle cx="805.0" cy="284.6" r="2.8"/>
<circle cx="835.2" cy="290.7" r="2.8"/>
<circle cx="816.3" cy="288.3" r="2.8"/>
<circle cx="805.2" cy="277.7" r="2.8"/>
<circle cx="814.4" cy="294.3" r="2.8"/>
<circle cx="840.5" cy="284.7" r="2.8"/>
<circle cx="812.0" cy="278.5" r="2.8"/>
<circle cx="810.8" cy="280.6" r="2.8"/>
<circle cx="842.5" cy="283.2" r="2.8"/>
<circle cx="825.4" cy="281.4" r="2.8"/>
<circle cx="820.5" cy="291.7" r="2.8"/>
<circle cx="823.5" cy="285.6" r="2.8"/>
<circle cx="817.1" cy="280.8" r="2.8"/>
<circle cx="831.4" cy="285.1" r="2.8"/>
<circle cx="814.9" cy="277.5" r="2.8"/>
<circle cx="824.3" cy="289.1" r="2.8"/>
<circle cx="836.5" cy="297.2" r="2.8"/>
<circle cx="814.1" cy="281.2" r="2.8"/>
<circle cx="834.0" cy="296.8" r="2.8"/>
<circle cx="831.7" cy="299.9" r="2.8"/>
<circle cx="807.6" cy="286.4" r="2.8"/>
<circle cx="827.3" cy="297.5" r="2.8"/>
<circle cx="839.5" cy="289.2" r="2.8"/>
<circle cx="832.9" cy="291.2" r="2.8"/>
<circle cx="835.2" cy="285.0" r="2.8"/>
<circle cx="819.1" cy="276.0" r="2.8"/>
<circle cx="818.2" cy="289.8" r="2.8"/>
<circle cx="826.3" cy="283.6" r="2.8"/>
<circle cx="812.1" cy="282.4" r="2.8"/>
<circle cx="834.1" cy="300.7" r="2.8"/>
<circle cx="841.2" cy="291.2" r="2.8"/>
<circle cx="822.3" cy="296.2" r="2.8"/>
<circle cx="811.5" cy="292.8" r="2.8"/>
<circle cx="813.9" cy="291.7" r="2.8"/>
<circle cx="828.9" cy="294.6" r="2.8"/>
<circle cx="820.6" cy="280.6" r="2.8"/>
<circle cx="823.6" cy="294.1" r="2.8"/>
<circle cx="837.8" cy="292.1" r="2.8"/>
<circle cx="809.6" cy="276.8" r="2.8"/>
<circle cx="830.3" cy="297.0" r="2.8"/>
<circle cx="817.3" cy="277.3" r="2.8"/>
<circle cx="804.8" cy="275.0" r="2.8"/>
<circle cx="826.6" cy="287.9" r="2.8"/>
<circle cx="817.2" cy="273.5" r="2.8"/>
<circle cx="809.7" cy="283.9" r="2.8"/>
<circle cx="806.1" cy="272.6" r="2.8"/>
<circle cx="807.8" cy="282.6" r="2.8"/>
<circle cx="771.7" cy="302.4" r="2.8"/>
<circle cx="794.9" cy="311.4" r="2.8"/>
<circle cx="778.8" cy="299.7" r="2.8"/>
<circle cx="795.8" cy="314.1" r="2.8"/>
<circle cx="791.5" cy="315.3" r="2.8"/>
<circle cx="799.4" cy="319.3" r="2.8"/>
<circle cx="773.7" cy="297.0" r="2.8"/>
<circle cx="790.4" cy="307.0" r="2.8"/>
<circle cx="803.7" cy="317.6" r="2.8"/>
<circle cx="792.2" cy="310.7" r="2.8"/>
<circle cx="796.6" cy="302.8" r="2.8"/>
<circle cx="779.8" cy="295.6" r="2.8"/>
<circle cx="777.4" cy="295.8" r="2.8"/>
<circle cx="780.1" cy="308.4" r="2.8"/>
<circle cx="787.4" cy="312.0" r="2.8"/>
<circle cx="783.7" cy="308.5" r="2.8"/>
<circle cx="798.4" cy="304.1" r="2.8"/>
<circle cx="801.9" cy="314.1" r="2.8"/>
<circle cx="801.5" cy="307.2" r="2.8"/>
<circle cx="791.5" cy="312.9" r="2.8"/>
<circle cx="775.2" cy="294.8" r="2.8"/>
<circle cx="781.5" cy="306.1" r="2.8"/>
<circle cx="794.3" cy="308.2" r="2.8"/>
<circle cx="793.6" cy="302.7" r="2.8"/>
<circle cx="785.8" cy="302.5" r="2.8"/>
<circle cx="785.8" cy="304.8" r="2.8"/>
<circle cx="782.0" cy="297.8" r="2.8"/>
<circle cx="774.5" cy="299.9" r="2.8"/>
<circle cx="788.7" cy="317.9" r="2.8"/>
<circle cx="802.9" cy="310.2" r="2.8"/>
<circle cx="785.2" cy="310.6" r="2.8"/>
<circle cx="775.6" cy="305.0" r="2.8"/>
<circle cx="795.8" cy="321.4" r="2.8"/>
<circle cx="800.2" cy="310.1" r="2.8"/>
<circle cx="777.5" cy="309.7" r="2.8"/>
<circle cx="803.9" cy="320.2" r="2.8"/>
<circle cx="789.9" cy="309.5" r="2.8"/>
<circle cx="788.0" cy="305.9" r="2.8"/>
<circle cx="804.4" cy="313.4" r="2.8"/>
<circle cx="774.4" cy="303.1" r="2.8"/>
<circle cx="771.1" cy="300.1" r="2.8"/>
<circle cx="776.3" cy="307.7" r="2.8"/>
<circle cx="798.2" cy="316.2" r="2.8"/>
<circle cx="782.3" cy="303.9" r="2.8"/>
<circle cx="795.6" cy="306.3" r="2.8"/>
<circle cx="798.1" cy="313.3" r="2.8"/>
<circle cx="777.1" cy="302.5" r="2.8"/>
<circle cx="798.8" cy="306.3" r="2.8"/>
<circle cx="780.2" cy="312.1" r="2.8"/>
<circle cx="781.5" cy="300.1" r="2.8"/>
<circle cx="792.9" cy="318.2" r="2.8"/>
<circle cx="787.8" cy="314.2" r="2.8"/>
<circle cx="803.7" cy="307.9" r="2.8"/>
<circle cx="782.9" cy="311.6" r="2.8"/>
<circle cx="805.4" cy="316.1" r="2.8"/>
<circle cx="790.0" cy="303.5" r="2.8"/>
<circle cx="772.8" cy="305.1" r="2.8"/>
<circle cx="785.2" cy="313.5" r="2.8"/>
<circle cx="796.4" cy="309.6" r="2.8"/>
<circle cx="800.8" cy="316.1" r="2.8"/>
<circle cx="779.3" cy="306.1" r="2.8"/>
<circle cx="805.3" cy="311.1" r="2.8"/>
<circle cx="862.6" cy="363.5" r="2.8"/>
<circle cx="577.5" cy="231.0" r="2.8"/>
<circle cx="557.3" cy="229.8" r="2.8"/>
<circle cx="559.4" cy="229.8" r="2.8"/>
<circle cx="564.2" cy="236.2" r="2.8"/>
<circle cx="568.2" cy="230.8" r="2.8"/>
<circle cx="548.4" cy="218.7" r="2.8"/>
<circle cx="550.2" cy="229.6" r="2.8"/>
<circle cx="564.9" cy="224.8" r="2.8"/>
<circle cx="545.2" cy="217.5" r="2.8"/>
<circle cx="541.7" cy="215.1" r="2.8"/>
<circle cx="559.6" cy="217.8" r="2.8"/>
<circle cx="541.5" cy="222.1" r="2.8"/>
<circle cx="547.7" cy="230.2" r="2.8"/>
<circle cx="574.9" cy="234.1" r="2.8"/>
<circle cx="560.8" cy="221.6" r="2.8"/>
<circle cx="545.2" cy="225.2" r="2.8"/>
<circle cx="542.8" cy="225.9" r="2.8"/>
<circle cx="574.2" cy="228.9" r="2.8"/>
<circle cx="539.2" cy="226.1" r="2.8"/>
<circle cx="576.6" cy="226.9" r="2.8"/>
<circle cx="572.7" cy="238.4" r="2.8"/>
<circle cx="547.0" cy="213.6" r="2.8"/>
<circle cx="557.0" cy="224.3" r="2.8"/>
<circle cx="540.1" cy="220.3" r="2.8"/>
<circle cx="551.4" cy="213.4" r="2.8"/>
<circle cx="548.5" cy="216.3" r="2.8"/>
<circle cx="563.4" cy="223.4" r="2.8"/>
<circle cx="569.8" cy="236.6" r="2.8"/>
<circle cx="538.1" cy="221.4" r="2.8"/>
<circle cx="552.1" cy="231.5" r="2.8"/>
<circle cx="575.8" cy="236.3" r="2.8"/>
<circle cx="563.3" cy="226.6" r="2.8"/>
<circle cx="552.6" cy="228.5" r="2.8"/>
<circle cx="541.3" cy="224.2" r="2.8"/>
<circle cx="542.3" cy="217.2" r="2.8"/>
<circle cx="572.9" cy="233.6" r="2.8"/>
<circle cx="555.0" cy="216.7" r="2.8"/>
<circle cx="544.8" cy="230.5" r="2.8"/>
<circle cx="553.8" cy="233.7" r="2.8"/>
<circle cx="550.5" cy="222.4" r="2.8"/>
<circle cx="537.4" cy="217.9" r="2.8"/>
<circle cx="539.3" cy="223.2" r="2.8"/>
<circle cx="554.7" cy="221.3" r="2.8"/>
<circle cx="545.4" cy="221.3" r="2.8"/>
<circle cx="566.2" cy="229.5" r="2.8"/>
<circle cx="546.0" cy="228.7" r="2.8"/>
<circle cx="573.1" cy="236.0" r="2.8"/>
<circle cx="552.4" cy="217.0" r="2.8"/>
<circle cx="563.2" cy="218.0" r="2.8"/>
<circle cx="566.1" cy="226.5" r="2.8"/>
<circle cx="560.3" cy="235.0" r="2.8"/>
<circle cx="567.1" cy="235.5" r="2.8"/>
<circle cx="572.3" cy="225.1" r="2.8"/>
<circle cx="557.0" cy="218.8" r="2.8"/>
<circle cx="547.7" cy="224.4" r="2.8"/>
<circle cx="570.7" cy="231.8" r="2.8"/>
<circle cx="555.4" cy="231.1" r="2.8"/>
<circle cx="551.1" cy="234.9" r="2.8"/>
<circle cx="571.3" cy="228.3" r="2.8"/>
<circle cx="554.7" cy="228.1" r="2.8"/>
<circle cx="550.9" cy="219.6" r="2.8"/>
<circle cx="569.8" cy="220.8" r="2.8"/>
<circle cx="544.3" cy="245.5" r="2.8"/>
<circle cx="542.2" cy="238.7" r="2.8"/>
<circle cx="544.5" cy="240.4" r="2.8"/>
<circle cx="549.9" cy="243.7" r="2.8"/>
<circle cx="550.3" cy="241.6" r="2.8"/>
<circle cx="540.5" cy="253.1" r="2.8"/>
<circle cx="539.4" cy="255.0" r="2.8"/>
<circle cx="542.4" cy="247.9" r="2.8"/>
<circle cx="534.9" cy="251.1" r="2.8"/>
<circle cx="545.3" cy="253.3" r="2.8"/>
<circle cx="545.7" cy="243.7" r="2.8"/>
<circle cx="538.1" cy="250.5" r="2.8"/>
<circle cx="540.6" cy="241.8" r="2.8"/>
<circle cx="541.7" cy="251.3" r="2.8"/>
<circle cx="542.7" cy="254.7" r="2.8"/>
<circle cx="546.6" cy="236.3" r="2.8"/>
<circle cx="537.6" cy="247.8" r="2.8"/>
<circle cx="545.2" cy="238.3" r="2.8"/>
<circle cx="590.8" cy="226.9" r="2.8"/>
<circle cx="592.7" cy="227.9" r="2.8"/>
<circle cx="602.9" cy="233.2" r="2.8"/>
<circle cx="614.3" cy="236.8" r="2.8"/>
<circle cx="586.4" cy="227.7" r="2.8"/>
<circle cx="621.6" cy="237.9" r="2.8"/>
<circle cx="611.0" cy="236.8" r="2.8"/>
<circle cx="594.8" cy="228.6" r="2.8"/>
<circle cx="600.3" cy="230.9" r="2.8"/>
<circle cx="598.4" cy="229.5" r="2.8"/>
<circle cx="585.9" cy="228.1" r="2.8"/>
<circle cx="605.1" cy="231.5" r="2.8"/>
<circle cx="617.0" cy="238.8" r="2.8"/>
<circle cx="582.9" cy="225.3" r="2.8"/>
<circle cx="589.5" cy="227.0" r="2.8"/>
<circle cx="591.0" cy="231.5" r="2.8"/>
<circle cx="606.2" cy="237.5" r="2.8"/>
<circle cx="593.3" cy="227.5" r="2.8"/>
<circle cx="601.5" cy="233.8" r="2.8"/>
<circle cx="618.7" cy="237.3" r="2.8"/>
<circle cx="598.2" cy="228.2" r="2.8"/>
<circle cx="621.7" cy="241.2" r="2.8"/>
<circle cx="621.3" cy="244.0" r="2.8"/>
<circle cx="593.8" cy="228.4" r="2.8"/>
<circle cx="570.8" cy="242.5" r="2.8"/>
<circle cx="571.7" cy="246.7" r="2.8"/>
<circle cx="570.0" cy="250.0" r="2.8"/>
<circle cx="575.0" cy="247.5" r="2.8"/>
<circle cx="578.3" cy="250.3" r="2.8"/>
<circle cx="574.2" cy="245.0" r="2.8"/>
<circle cx="538.3" cy="231.3" r="2.8"/>
<circle cx="530.0" cy="248.3" r="2.8"/>
<circle cx="562.5" cy="245.8" r="2.8"/>
<circle cx="560.8" cy="242.5" r="2.8"/>
<circle cx="586.7" cy="237.5" r="2.8"/>
<circle cx="587.5" cy="240.8" r="2.8"/>
<circle cx="593.7" cy="246.3" r="2.8"/>
<circle cx="609.2" cy="243.0" r="2.8"/>
<circle cx="620.8" cy="243.7" r="2.8"/>
<circle cx="634.2" cy="243.7" r="2.8"/>
<circle cx="630.8" cy="244.7" r="2.8"/>
<circle cx="552.8" cy="310.0" r="2.8"/>
<circle cx="545.0" cy="313.3" r="2.8"/>
<circle cx="539.2" cy="322.0" r="2.8"/>
<circle cx="546.7" cy="317.5" r="2.8"/>
<circle cx="392.2" cy="398.6" r="2.8"/>
<circle cx="400.5" cy="428.0" r="2.8"/>
<circle cx="388.3" cy="388.9" r="2.8"/>
<circle cx="388.5" cy="394.9" r="2.8"/>
<circle cx="388.7" cy="402.6" r="2.8"/>
<circle cx="411.0" cy="430.9" r="2.8"/>
<circle cx="382.4" cy="409.1" r="2.8"/>
<circle cx="413.0" cy="437.8" r="2.8"/>
<circle cx="405.8" cy="427.7" r="2.8"/>
<circle cx="388.4" cy="408.9" r="2.8"/>
<circle cx="389.8" cy="416.0" r="2.8"/>
<circle cx="380.6" cy="414.9" r="2.8"/>
<circle cx="398.4" cy="392.8" r="2.8"/>
<circle cx="395.9" cy="402.2" r="2.8"/>
<circle cx="392.3" cy="427.8" r="2.8"/>
<circle cx="380.2" cy="408.0" r="2.8"/>
<circle cx="400.2" cy="400.6" r="2.8"/>
<circle cx="393.4" cy="389.5" r="2.8"/>
<circle cx="407.4" cy="404.1" r="2.8"/>
<circle cx="385.3" cy="413.3" r="2.8"/>
<circle cx="384.4" cy="416.3" r="2.8"/>
<circle cx="400.9" cy="417.7" r="2.8"/>
<circle cx="394.8" cy="418.0" r="2.8"/>
<circle cx="395.8" cy="424.2" r="2.8"/>
<circle cx="392.9" cy="395.5" r="2.8"/>
<circle cx="407.8" cy="439.3" r="2.8"/>
<circle cx="397.7" cy="420.6" r="2.8"/>
<circle cx="385.2" cy="420.9" r="2.8"/>
<circle cx="394.1" cy="430.8" r="2.8"/>
<circle cx="404.7" cy="415.9" r="2.8"/>
<circle cx="403.4" cy="399.0" r="2.8"/>
<circle cx="403.1" cy="443.0" r="2.8"/>
<circle cx="394.7" cy="385.5" r="2.8"/>
<circle cx="398.0" cy="415.1" r="2.8"/>
<circle cx="403.8" cy="437.4" r="2.8"/>
<circle cx="395.8" cy="411.6" r="2.8"/>
<circle cx="401.2" cy="433.6" r="2.8"/>
<circle cx="389.9" cy="405.8" r="2.8"/>
<circle cx="400.6" cy="438.4" r="2.8"/>
<circle cx="405.0" cy="403.2" r="2.8"/>
<circle cx="407.1" cy="422.0" r="2.8"/>
<circle cx="391.3" cy="393.0" r="2.8"/>
<circle cx="406.9" cy="444.0" r="2.8"/>
<circle cx="389.6" cy="428.6" r="2.8"/>
<circle cx="390.9" cy="418.6" r="2.8"/>
<circle cx="388.5" cy="419.1" r="2.8"/>
<circle cx="399.6" cy="422.0" r="2.8"/>
<circle cx="406.5" cy="435.2" r="2.8"/>
<circle cx="396.1" cy="397.1" r="2.8"/>
<circle cx="417.4" cy="443.1" r="2.8"/>
<circle cx="401.3" cy="405.4" r="2.8"/>
<circle cx="398.4" cy="388.7" r="2.8"/>
<circle cx="416.0" cy="438.8" r="2.8"/>
<circle cx="402.9" cy="391.5" r="2.8"/>
<circle cx="378.7" cy="413.7" r="2.8"/>
<circle cx="393.4" cy="402.9" r="2.8"/>
<circle cx="402.5" cy="402.9" r="2.8"/>
<circle cx="389.3" cy="421.3" r="2.8"/>
<circle cx="391.7" cy="410.3" r="2.8"/>
<circle cx="404.5" cy="393.8" r="2.8"/>
<circle cx="410.0" cy="433.2" r="2.8"/>
<circle cx="399.6" cy="398.1" r="2.8"/>
<circle cx="413.9" cy="440.0" r="2.8"/>
<circle cx="390.3" cy="389.5" r="2.8"/>
<circle cx="402.3" cy="435.4" r="2.8"/>
<circle cx="398.2" cy="436.2" r="2.8"/>
<circle cx="403.7" cy="426.6" r="2.8"/>
<circle cx="413.1" cy="434.2" r="2.8"/>
<circle cx="390.0" cy="398.8" r="2.8"/>
<circle cx="395.9" cy="434.4" r="2.8"/>
<circle cx="412.9" cy="442.7" r="2.8"/>
<circle cx="420.1" cy="440.4" r="2.8"/>
<circle cx="397.8" cy="433.5" r="2.8"/>
<circle cx="380.8" cy="399.3" r="2.8"/>
<circle cx="388.4" cy="423.4" r="2.8"/>
<circle cx="383.3" cy="403.2" r="2.8"/>
<circle cx="403.8" cy="405.9" r="2.8"/>
<circle cx="392.5" cy="416.9" r="2.8"/>
<circle cx="381.3" cy="420.9" r="2.8"/>
<circle cx="407.7" cy="400.5" r="2.8"/>
<circle cx="391.6" cy="422.4" r="2.8"/>
<circle cx="409.5" cy="427.4" r="2.8"/>
<circle cx="391.9" cy="424.7" r="2.8"/>
<circle cx="395.6" cy="393.7" r="2.8"/>
<circle cx="396.6" cy="404.3" r="2.8"/>
<circle cx="410.6" cy="438.4" r="2.8"/>
<circle cx="396.3" cy="428.5" r="2.8"/>
<circle cx="395.2" cy="387.6" r="2.8"/>
<circle cx="375.7" cy="408.7" r="2.8"/>
<circle cx="385.7" cy="411.3" r="2.8"/>
<circle cx="395.7" cy="414.3" r="2.8"/>
<circle cx="404.9" cy="424.4" r="2.8"/>
<circle cx="390.3" cy="396.7" r="2.8"/>
<circle cx="406.9" cy="437.4" r="2.8"/>
<circle cx="420.6" cy="437.2" r="2.8"/>
<circle cx="406.5" cy="430.3" r="2.8"/>
<circle cx="399.8" cy="386.3" r="2.8"/>
<circle cx="383.5" cy="418.7" r="2.8"/>
<circle cx="398.7" cy="407.9" r="2.8"/>
<circle cx="397.6" cy="386.9" r="2.8"/>
<circle cx="394.4" cy="409.5" r="2.8"/>
<circle cx="405.1" cy="439.7" r="2.8"/>
<circle cx="383.3" cy="406.8" r="2.8"/>
<circle cx="397.3" cy="418.5" r="2.8"/>
<circle cx="392.4" cy="385.7" r="2.8"/>
<circle cx="405.4" cy="396.9" r="2.8"/>
<circle cx="390.6" cy="386.9" r="2.8"/>
<circle cx="402.0" cy="422.0" r="2.8"/>
<circle cx="398.3" cy="396.5" r="2.8"/>
<circle cx="402.8" cy="430.0" r="2.8"/>
<circle cx="380.2" cy="411.2" r="2.8"/>
<circle cx="385.9" cy="392.1" r="2.8"/>
<circle cx="400.0" cy="425.1" r="2.8"/>
<circle cx="408.9" cy="443.3" r="2.8"/>
<circle cx="403.8" cy="418.9" r="2.8"/>
<circle cx="394.8" cy="391.8" r="2.8"/>
<circle cx="414.4" cy="432.0" r="2.8"/>
<circle cx="387.6" cy="415.3" r="2.8"/>
<circle cx="436.7" cy="395.9" r="2.8"/>
<circle cx="447.9" cy="394.5" r="2.8"/>
<circle cx="414.6" cy="391.1" r="2.8"/>
<circle cx="417.8" cy="395.7" r="2.8"/>
<circle cx="434.5" cy="396.0" r="2.8"/>
<circle cx="444.0" cy="392.9" r="2.8"/>
<circle cx="436.4" cy="398.0" r="2.8"/>
<circle cx="432.7" cy="393.8" r="2.8"/>
<circle cx="431.6" cy="398.1" r="2.8"/>
<circle cx="425.0" cy="396.4" r="2.8"/>
<circle cx="423.6" cy="397.9" r="2.8"/>
<circle cx="437.3" cy="393.4" r="2.8"/>
<circle cx="424.4" cy="402.6" r="2.8"/>
<circle cx="413.9" cy="394.7" r="2.8"/>
<circle cx="411.7" cy="394.7" r="2.8"/>
<circle cx="416.0" cy="396.9" r="2.8"/>
<circle cx="429.4" cy="397.0" r="2.8"/>
<circle cx="422.6" cy="398.9" r="2.8"/>
<circle cx="432.6" cy="393.1" r="2.8"/>
<circle cx="432.3" cy="398.9" r="2.8"/>
<circle cx="442.7" cy="396.8" r="2.8"/>
<circle cx="412.5" cy="393.2" r="2.8"/>
<circle cx="435.4" cy="440.4" r="2.8"/>
<circle cx="462.1" cy="453.6" r="2.8"/>
<circle cx="435.4" cy="444.4" r="2.8"/>
<circle cx="437.6" cy="443.6" r="2.8"/>
<circle cx="433.7" cy="446.7" r="2.8"/>
<circle cx="457.5" cy="450.0" r="2.8"/>
<circle cx="438.9" cy="445.5" r="2.8"/>
<circle cx="449.3" cy="447.0" r="2.8"/>
<circle cx="458.4" cy="454.0" r="2.8"/>
<circle cx="445.8" cy="445.7" r="2.8"/>
<circle cx="432.6" cy="443.6" r="2.8"/>
<circle cx="440.2" cy="444.2" r="2.8"/>
<circle cx="465.8" cy="450.0" r="2.8"/>
<circle cx="470.0" cy="467.7" r="2.8"/>
<circle cx="471.2" cy="463.8" r="2.8"/>
<circle cx="494.9" cy="459.2" r="2.8"/>
<circle cx="483.7" cy="454.3" r="2.8"/>
<circle cx="479.3" cy="469.1" r="2.8"/>
<circle cx="471.3" cy="454.0" r="2.8"/>
<circle cx="484.3" cy="461.8" r="2.8"/>
<circle cx="480.1" cy="452.9" r="2.8"/>
<circle cx="470.3" cy="461.3" r="2.8"/>
<circle cx="487.4" cy="454.0" r="2.8"/>
<circle cx="475.6" cy="464.2" r="2.8"/>
<circle cx="464.2" cy="461.0" r="2.8"/>
<circle cx="476.1" cy="454.8" r="2.8"/>
<circle cx="471.9" cy="446.5" r="2.8"/>
<circle cx="478.1" cy="450.0" r="2.8"/>
<circle cx="469.5" cy="451.6" r="2.8"/>
<circle cx="467.1" cy="467.2" r="2.8"/>
<circle cx="491.3" cy="458.4" r="2.8"/>
<circle cx="474.5" cy="461.4" r="2.8"/>
<circle cx="481.3" cy="466.9" r="2.8"/>
<circle cx="477.9" cy="459.5" r="2.8"/>
<circle cx="491.5" cy="453.6" r="2.8"/>
<circle cx="480.9" cy="456.0" r="2.8"/>
<circle cx="474.3" cy="469.7" r="2.8"/>
<circle cx="485.0" cy="468.1" r="2.8"/>
<circle cx="496.2" cy="456.1" r="2.8"/>
<circle cx="467.3" cy="462.8" r="2.8"/>
<circle cx="478.8" cy="464.0" r="2.8"/>
<circle cx="491.2" cy="456.2" r="2.8"/>
<circle cx="480.9" cy="461.4" r="2.8"/>
<circle cx="488.8" cy="458.3" r="2.8"/>
<circle cx="472.8" cy="456.3" r="2.8"/>
<circle cx="472.2" cy="460.1" r="2.8"/>
<circle cx="471.0" cy="449.8" r="2.8"/>
<circle cx="464.6" cy="469.6" r="2.8"/>
<circle cx="482.0" cy="449.2" r="2.8"/>
<circle cx="463.7" cy="451.9" r="2.8"/>
<circle cx="466.6" cy="472.3" r="2.8"/>
<circle cx="483.3" cy="465.1" r="2.8"/>
<circle cx="476.6" cy="457.8" r="2.8"/>
<circle cx="463.0" cy="465.9" r="2.8"/>
<circle cx="483.1" cy="472.6" r="2.8"/>
<circle cx="470.4" cy="470.1" r="2.8"/>
<circle cx="484.7" cy="458.8" r="2.8"/>
<circle cx="468.9" cy="448.2" r="2.8"/>
<circle cx="473.9" cy="451.8" r="2.8"/>
<circle cx="466.9" cy="452.6" r="2.8"/>
<circle cx="514.8" cy="448.8" r="2.8"/>
<circle cx="511.4" cy="460.0" r="2.8"/>
<circle cx="509.8" cy="455.0" r="2.8"/>
<circle cx="512.2" cy="452.0" r="2.8"/>
<circle cx="511.2" cy="458.0" r="2.8"/>
<circle cx="513.7" cy="455.1" r="2.8"/>
<circle cx="515.5" cy="451.8" r="2.8"/>
<circle cx="521.9" cy="449.6" r="2.8"/>
<circle cx="520.2" cy="446.1" r="2.8"/>
<circle cx="509.6" cy="447.8" r="2.8"/>
<circle cx="525.1" cy="446.6" r="2.8"/>
<circle cx="519.7" cy="454.3" r="2.8"/>
<circle cx="518.2" cy="451.7" r="2.8"/>
<circle cx="524.4" cy="451.0" r="2.8"/>
<circle cx="517.4" cy="448.5" r="2.8"/>
<circle cx="512.6" cy="449.5" r="2.8"/>
<circle cx="507.3" cy="454.7" r="2.8"/>
<circle cx="516.9" cy="457.7" r="2.8"/>
<circle cx="510.3" cy="401.2" r="2.8"/>
<circle cx="509.7" cy="399.4" r="2.8"/>
<circle cx="508.7" cy="397.8" r="2.8"/>
<circle cx="507.8" cy="396.1" r="2.8"/>
<circle cx="506.7" cy="394.6" r="2.8"/>
<circle cx="506.0" cy="392.8" r="2.8"/>
<circle cx="505.8" cy="390.8" r="2.8"/>
<circle cx="503.9" cy="389.6" r="2.8"/>
<circle cx="503.8" cy="387.6" r="2.8"/>
<circle cx="502.2" cy="386.3" r="2.8"/>
<circle cx="502.3" cy="384.1" r="2.8"/>
<circle cx="500.3" cy="383.0" r="2.8"/>
<circle cx="500.5" cy="380.8" r="2.8"/>
<circle cx="499.4" cy="379.2" r="2.8"/>
<circle cx="498.2" cy="377.7" r="2.8"/>
<circle cx="496.5" cy="376.5" r="2.8"/>
<circle cx="495.7" cy="374.8" r="2.8"/>
<circle cx="515.8" cy="410.5" r="2.8"/>
<circle cx="514.2" cy="412.8" r="2.8"/>
<circle cx="459.5" cy="386.3" r="2.8"/>
<circle cx="413.3" cy="406.7" r="2.8"/>
<circle cx="418.3" cy="407.5" r="2.8"/>
<circle cx="415.8" cy="415.8" r="2.8"/>
<circle cx="422.5" cy="415.8" r="2.8"/>
<circle cx="417.5" cy="420.8" r="2.8"/>
<circle cx="425.8" cy="423.3" r="2.8"/>
<circle cx="429.5" cy="427.8" r="2.8"/>
<circle cx="431.3" cy="409.5" r="2.8"/>
<circle cx="421.7" cy="402.5" r="2.8"/>
<circle cx="411.7" cy="400.8" r="2.8"/>
<circle cx="440.8" cy="415.0" r="2.8"/>
<circle cx="445.0" cy="412.5" r="2.8"/>
<circle cx="448.3" cy="410.8" r="2.8"/>
<circle cx="451.7" cy="409.2" r="2.8"/>
<circle cx="454.2" cy="411.7" r="2.8"/>
<circle cx="456.7" cy="414.2" r="2.8"/>
<circle cx="459.7" cy="415.3" r="2.8"/>
<circle cx="450.0" cy="414.2" r="2.8"/>
<circle cx="446.7" cy="415.0" r="2.8"/>
<circle cx="432.5" cy="444.7" r="2.8"/>
<circle cx="439.7" cy="443.0" r="2.8"/>
<circle cx="438.3" cy="450.3" r="2.8"/>
<circle cx="451.7" cy="450.0" r="2.8"/>
<circle cx="456.7" cy="454.2" r="2.8"/>
<circle cx="457.5" cy="449.2" r="2.8"/>
<circle cx="457.2" cy="440.3" r="2.8"/>
<circle cx="470.5" cy="441.3" r="2.8"/>
<circle cx="471.7" cy="430.3" r="2.8"/>
<circle cx="474.2" cy="434.2" r="2.8"/>
<circle cx="476.7" cy="436.7" r="2.8"/>
<circle cx="522.5" cy="458.0" r="2.8"/>
<circle cx="503.3" cy="445.0" r="2.8"/>
<circle cx="531.7" cy="445.0" r="2.8"/>
<circle cx="533.3" cy="448.3" r="2.8"/>
<circle cx="535.8" cy="439.5" r="2.8"/>
<circle cx="539.7" cy="433.8" r="2.8"/>
<circle cx="526.7" cy="430.0" r="2.8"/>
<circle cx="521.2" cy="424.7" r="2.8"/>
<circle cx="482.5" cy="350.8" r="2.8"/>
<circle cx="490.8" cy="347.5" r="2.8"/>
<circle cx="485.0" cy="360.8" r="2.8"/>
<circle cx="489.2" cy="367.5" r="2.8"/>
<circle cx="493.3" cy="366.7" r="2.8"/>
<circle cx="488.3" cy="364.2" r="2.8"/>
<circle cx="484.2" cy="357.5" r="2.8"/>
<circle cx="594.5" cy="400.5" r="2.8"/>
<circle cx="596.7" cy="403.5" r="2.8"/>
<circle cx="619.7" cy="399.0" r="2.8"/>
<circle cx="597.1" cy="409.1" r="2.8"/>
<circle cx="621.8" cy="402.6" r="2.8"/>
<circle cx="609.3" cy="407.0" r="2.8"/>
<circle cx="606.9" cy="394.1" r="2.8"/>
<circle cx="589.2" cy="412.8" r="2.8"/>
<circle cx="612.4" cy="418.1" r="2.8"/>
<circle cx="597.6" cy="391.7" r="2.8"/>
<circle cx="595.0" cy="394.2" r="2.8"/>
<circle cx="614.8" cy="391.9" r="2.8"/>
<circle cx="611.7" cy="413.5" r="2.8"/>
<circle cx="603.1" cy="382.9" r="2.8"/>
<circle cx="586.0" cy="398.0" r="2.8"/>
<circle cx="622.7" cy="413.7" r="2.8"/>
<circle cx="594.3" cy="389.4" r="2.8"/>
<circle cx="607.4" cy="415.0" r="2.8"/>
<circle cx="610.1" cy="389.4" r="2.8"/>
<circle cx="601.3" cy="392.1" r="2.8"/>
<circle cx="609.9" cy="384.6" r="2.8"/>
<circle cx="603.6" cy="405.2" r="2.8"/>
<circle cx="592.5" cy="410.8" r="2.8"/>
<circle cx="611.0" cy="399.0" r="2.8"/>
<circle cx="618.4" cy="407.4" r="2.8"/>
<circle cx="602.4" cy="396.0" r="2.8"/>
<circle cx="602.0" cy="379.2" r="2.8"/>
<circle cx="603.9" cy="389.7" r="2.8"/>
<circle cx="608.0" cy="401.9" r="2.8"/>
<circle cx="623.3" cy="407.5" r="2.8"/>
<circle cx="608.7" cy="387.4" r="2.8"/>
<circle cx="619.2" cy="401.6" r="2.8"/>
<circle cx="615.7" cy="385.7" r="2.8"/>
<circle cx="598.2" cy="394.9" r="2.8"/>
<circle cx="594.1" cy="404.2" r="2.8"/>
<circle cx="619.4" cy="412.1" r="2.8"/>
<circle cx="609.7" cy="393.6" r="2.8"/>
<circle cx="591.4" cy="395.9" r="2.8"/>
<circle cx="594.1" cy="380.7" r="2.8"/>
<circle cx="599.0" cy="385.2" r="2.8"/>
<circle cx="603.5" cy="385.4" r="2.8"/>
<circle cx="612.6" cy="392.3" r="2.8"/>
<circle cx="588.2" cy="404.9" r="2.8"/>
<circle cx="610.1" cy="396.4" r="2.8"/>
<circle cx="592.5" cy="414.2" r="2.8"/>
<circle cx="588.9" cy="389.8" r="2.8"/>
<circle cx="610.3" cy="378.2" r="2.8"/>
<circle cx="586.6" cy="389.9" r="2.8"/>
<circle cx="591.6" cy="399.8" r="2.8"/>
<circle cx="597.0" cy="376.6" r="2.8"/>
<circle cx="599.2" cy="387.4" r="2.8"/>
<circle cx="596.7" cy="383.8" r="2.8"/>
<circle cx="618.8" cy="395.4" r="2.8"/>
<circle cx="616.9" cy="392.5" r="2.8"/>
<circle cx="609.8" cy="415.1" r="2.8"/>
<circle cx="592.4" cy="383.1" r="2.8"/>
<circle cx="606.4" cy="406.2" r="2.8"/>
<circle cx="616.2" cy="409.3" r="2.8"/>
<circle cx="603.5" cy="377.4" r="2.8"/>
<circle cx="614.9" cy="415.5" r="2.8"/>
<circle cx="611.2" cy="403.0" r="2.8"/>
<circle cx="600.8" cy="389.5" r="2.8"/>
<circle cx="599.0" cy="402.6" r="2.8"/>
<circle cx="597.5" cy="389.1" r="2.8"/>
<circle cx="606.2" cy="389.1" r="2.8"/>
<circle cx="597.5" cy="397.5" r="2.8"/>
<circle cx="605.8" cy="378.1" r="2.8"/>
<circle cx="599.6" cy="400.5" r="2.8"/>
<circle cx="620.3" cy="409.5" r="2.8"/>
<circle cx="601.7" cy="381.5" r="2.8"/>
<circle cx="596.1" cy="412.3" r="2.8"/>
<circle cx="589.0" cy="400.2" r="2.8"/>
<circle cx="624.1" cy="400.3" r="2.8"/>
<circle cx="605.3" cy="395.9" r="2.8"/>
<circle cx="620.8" cy="414.5" r="2.8"/>
<circle cx="591.9" cy="407.8" r="2.8"/>
<circle cx="597.0" cy="380.3" r="2.8"/>
<circle cx="616.3" cy="396.9" r="2.8"/>
<circle cx="598.3" cy="414.7" r="2.8"/>
<circle cx="607.2" cy="399.0" r="2.8"/>
<circle cx="614.0" cy="401.3" r="2.8"/>
<circle cx="585.7" cy="400.4" r="2.8"/>
<circle cx="617.0" cy="400.2" r="2.8"/>
<circle cx="594.5" cy="408.5" r="2.8"/>
<circle cx="611.2" cy="408.4" r="2.8"/>
<circle cx="602.6" cy="375.6" r="2.8"/>
<circle cx="614.1" cy="409.2" r="2.8"/>
<circle cx="587.0" cy="393.5" r="2.8"/>
<circle cx="592.1" cy="402.1" r="2.8"/>
<circle cx="590.3" cy="402.8" r="2.8"/>
<circle cx="612.0" cy="401.0" r="2.8"/>
<circle cx="605.2" cy="409.4" r="2.8"/>
<circle cx="622.1" cy="410.6" r="2.8"/>
<circle cx="594.7" cy="398.3" r="2.8"/>
<circle cx="590.2" cy="383.2" r="2.8"/>
<circle cx="619.3" cy="405.1" r="2.8"/>
<circle cx="606.9" cy="391.1" r="2.8"/>
<circle cx="606.3" cy="380.8" r="2.8"/>
<circle cx="598.6" cy="406.2" r="2.8"/>
<circle cx="584.1" cy="404.5" r="2.8"/>
<circle cx="600.4" cy="404.8" r="2.8"/>
<circle cx="602.9" cy="410.3" r="2.8"/>
<circle cx="621.8" cy="418.1" r="2.8"/>
<circle cx="588.0" cy="387.5" r="2.8"/>
<circle cx="587.7" cy="410.3" r="2.8"/>
<circle cx="592.0" cy="404.9" r="2.8"/>
<circle cx="601.8" cy="408.4" r="2.8"/>
<circle cx="613.1" cy="390.3" r="2.8"/>
<circle cx="590.6" cy="385.2" r="2.8"/>
<circle cx="593.9" cy="378.7" r="2.8"/>
<circle cx="623.9" cy="403.8" r="2.8"/>
<circle cx="587.8" cy="396.9" r="2.8"/>
<circle cx="610.8" cy="411.1" r="2.8"/>
<circle cx="582.8" cy="396.2" r="2.8"/>
<circle cx="599.5" cy="412.5" r="2.8"/>
<circle cx="626.9" cy="415.7" r="2.8"/>
<circle cx="604.2" cy="440.3" r="2.8"/>
<circle cx="637.9" cy="416.6" r="2.8"/>
<circle cx="598.7" cy="451.4" r="2.8"/>
<circle cx="635.2" cy="419.7" r="2.8"/>
<circle cx="600.6" cy="438.4" r="2.8"/>
<circle cx="587.5" cy="458.7" r="2.8"/>
<circle cx="612.8" cy="458.7" r="2.8"/>
<circle cx="587.0" cy="414.4" r="2.8"/>
<circle cx="611.6" cy="448.3" r="2.8"/>
<circle cx="607.2" cy="423.5" r="2.8"/>
<circle cx="609.1" cy="460.3" r="2.8"/>
<circle cx="610.1" cy="431.0" r="2.8"/>
<circle cx="593.6" cy="451.0" r="2.8"/>
<circle cx="612.5" cy="438.7" r="2.8"/>
<circle cx="586.4" cy="470.6" r="2.8"/>
<circle cx="609.4" cy="426.0" r="2.8"/>
<circle cx="607.8" cy="440.5" r="2.8"/>
<circle cx="608.6" cy="464.5" r="2.8"/>
<circle cx="613.5" cy="423.0" r="2.8"/>
<circle cx="616.7" cy="459.3" r="2.8"/>
<circle cx="641.3" cy="422.0" r="2.8"/>
<circle cx="595.0" cy="444.5" r="2.8"/>
<circle cx="613.5" cy="436.2" r="2.8"/>
<circle cx="596.5" cy="417.4" r="2.8"/>
<circle cx="618.3" cy="438.4" r="2.8"/>
<circle cx="587.5" cy="467.6" r="2.8"/>
<circle cx="601.6" cy="432.0" r="2.8"/>
<circle cx="626.1" cy="451.1" r="2.8"/>
<circle cx="614.4" cy="441.2" r="2.8"/>
<circle cx="590.5" cy="462.2" r="2.8"/>
<circle cx="597.1" cy="446.5" r="2.8"/>
<circle cx="628.1" cy="457.2" r="2.8"/>
<circle cx="597.9" cy="442.5" r="2.8"/>
<circle cx="613.1" cy="451.4" r="2.8"/>
<circle cx="608.1" cy="433.5" r="2.8"/>
<circle cx="589.7" cy="470.2" r="2.8"/>
<circle cx="616.8" cy="445.0" r="2.8"/>
<circle cx="590.7" cy="447.0" r="2.8"/>
<circle cx="592.1" cy="454.9" r="2.8"/>
<circle cx="642.7" cy="424.4" r="2.8"/>
<circle cx="603.7" cy="422.8" r="2.8"/>
<circle cx="593.0" cy="443.3" r="2.8"/>
<circle cx="597.3" cy="449.7" r="2.8"/>
<circle cx="637.7" cy="422.5" r="2.8"/>
<circle cx="636.4" cy="424.5" r="2.8"/>
<circle cx="593.9" cy="424.8" r="2.8"/>
<circle cx="597.5" cy="465.2" r="2.8"/>
<circle cx="592.6" cy="422.0" r="2.8"/>
<circle cx="581.3" cy="470.7" r="2.8"/>
<circle cx="625.5" cy="460.5" r="2.8"/>
<circle cx="605.9" cy="430.7" r="2.8"/>
<circle cx="586.3" cy="447.5" r="2.8"/>
<circle cx="584.1" cy="452.3" r="2.8"/>
<circle cx="619.3" cy="463.0" r="2.8"/>
<circle cx="624.1" cy="455.3" r="2.8"/>
<circle cx="591.5" cy="440.5" r="2.8"/>
<circle cx="597.7" cy="425.4" r="2.8"/>
<circle cx="620.1" cy="425.0" r="2.8"/>
<circle cx="612.9" cy="426.1" r="2.8"/>
<circle cx="621.2" cy="415.7" r="2.8"/>
<circle cx="578.6" cy="463.1" r="2.8"/>
<circle cx="601.3" cy="428.7" r="2.8"/>
<circle cx="593.5" cy="458.2" r="2.8"/>
<circle cx="602.1" cy="447.5" r="2.8"/>
<circle cx="604.0" cy="430.1" r="2.8"/>
<circle cx="618.6" cy="431.1" r="2.8"/>
<circle cx="597.3" cy="434.1" r="2.8"/>
<circle cx="615.6" cy="434.1" r="2.8"/>
<circle cx="594.4" cy="461.6" r="2.8"/>
<circle cx="607.2" cy="445.0" r="2.8"/>
<circle cx="583.7" cy="471.5" r="2.8"/>
<circle cx="601.9" cy="454.4" r="2.8"/>
<circle cx="604.1" cy="437.5" r="2.8"/>
<circle cx="609.8" cy="435.5" r="2.8"/>
<circle cx="590.3" cy="465.6" r="2.8"/>
<circle cx="645.1" cy="421.0" r="2.8"/>
<circle cx="631.6" cy="420.2" r="2.8"/>
<circle cx="597.6" cy="458.1" r="2.8"/>
<circle cx="611.3" cy="444.1" r="2.8"/>
<circle cx="614.9" cy="460.9" r="2.8"/>
<circle cx="599.1" cy="440.5" r="2.8"/>
<circle cx="616.0" cy="464.5" r="2.8"/>
<circle cx="603.2" cy="442.7" r="2.8"/>
<circle cx="583.2" cy="463.2" r="2.8"/>
<circle cx="621.8" cy="448.1" r="2.8"/>
<circle cx="610.8" cy="462.9" r="2.8"/>
<circle cx="595.9" cy="435.7" r="2.8"/>
<circle cx="588.5" cy="454.4" r="2.8"/>
<circle cx="621.9" cy="419.0" r="2.8"/>
<circle cx="610.5" cy="451.2" r="2.8"/>
<circle cx="602.4" cy="419.8" r="2.8"/>
<circle cx="639.4" cy="426.0" r="2.8"/>
<circle cx="625.9" cy="422.2" r="2.8"/>
<circle cx="595.8" cy="431.2" r="2.8"/>
<circle cx="615.1" cy="456.5" r="2.8"/>
<circle cx="585.1" cy="458.3" r="2.8"/>
<circle cx="587.1" cy="451.8" r="2.8"/>
<circle cx="618.8" cy="423.1" r="2.8"/>
<circle cx="608.0" cy="454.0" r="2.8"/>
<circle cx="594.4" cy="414.9" r="2.8"/>
<circle cx="604.7" cy="425.3" r="2.8"/>
<circle cx="601.0" cy="415.7" r="2.8"/>
<circle cx="607.9" cy="451.4" r="2.8"/>
<circle cx="628.6" cy="420.8" r="2.8"/>
<circle cx="612.4" cy="467.2" r="2.8"/>
<circle cx="623.4" cy="450.2" r="2.8"/>
<circle cx="618.7" cy="451.7" r="2.8"/>
<circle cx="584.3" cy="455.0" r="2.8"/>
<circle cx="585.7" cy="419.2" r="2.8"/>
<circle cx="612.2" cy="454.9" r="2.8"/>
<circle cx="596.7" cy="428.7" r="2.8"/>
<circle cx="599.8" cy="435.0" r="2.8"/>
<circle cx="588.6" cy="440.2" r="2.8"/>
<circle cx="618.3" cy="418.1" r="2.8"/>
<circle cx="595.6" cy="456.3" r="2.8"/>
<circle cx="589.1" cy="415.9" r="2.8"/>
<circle cx="627.3" cy="412.4" r="2.8"/>
<circle cx="588.0" cy="445.7" r="2.8"/>
<circle cx="616.6" cy="422.4" r="2.8"/>
<circle cx="609.5" cy="449.2" r="2.8"/>
<circle cx="593.1" cy="470.0" r="2.8"/>
<circle cx="589.2" cy="450.7" r="2.8"/>
<circle cx="616.7" cy="447.7" r="2.8"/>
<circle cx="604.9" cy="451.1" r="2.8"/>
<circle cx="595.1" cy="452.5" r="2.8"/>
<circle cx="579.7" cy="464.9" r="2.8"/>
<circle cx="612.4" cy="446.3" r="2.8"/>
<circle cx="609.5" cy="468.1" r="2.8"/>
<circle cx="592.9" cy="466.9" r="2.8"/>
<circle cx="600.8" cy="423.2" r="2.8"/>
<circle cx="633.4" cy="417.0" r="2.8"/>
<circle cx="622.0" cy="461.0" r="2.8"/>
<circle cx="595.0" cy="439.7" r="2.8"/>
<circle cx="591.6" cy="451.5" r="2.8"/>
<circle cx="600.5" cy="464.2" r="2.8"/>
<circle cx="598.0" cy="432.0" r="2.8"/>
<circle cx="590.0" cy="438.6" r="2.8"/>
<circle cx="602.7" cy="425.3" r="2.8"/>
<circle cx="590.7" cy="419.1" r="2.8"/>
<circle cx="627.8" cy="418.7" r="2.8"/>
<circle cx="633.4" cy="425.0" r="2.8"/>
<circle cx="620.0" cy="450.1" r="2.8"/>
<circle cx="631.6" cy="415.6" r="2.8"/>
<circle cx="592.9" cy="437.4" r="2.8"/>
<circle cx="606.1" cy="457.0" r="2.8"/>
<circle cx="620.6" cy="421.5" r="2.8"/>
<circle cx="594.8" cy="420.6" r="2.8"/>
<circle cx="619.6" cy="445.7" r="2.8"/>
<circle cx="614.5" cy="466.1" r="2.8"/>
<circle cx="647.4" cy="424.4" r="2.8"/>
<circle cx="606.0" cy="446.8" r="2.8"/>
<circle cx="594.6" cy="464.6" r="2.8"/>
<circle cx="608.9" cy="446.3" r="2.8"/>
<circle cx="590.7" cy="425.1" r="2.8"/>
<circle cx="622.6" cy="423.7" r="2.8"/>
<circle cx="603.9" cy="459.4" r="2.8"/>
<circle cx="593.4" cy="427.5" r="2.8"/>
<circle cx="579.0" cy="470.6" r="2.8"/>
<circle cx="588.7" cy="412.5" r="2.8"/>
<circle cx="603.9" cy="434.5" r="2.8"/>
<circle cx="603.6" cy="445.8" r="2.8"/>
<circle cx="603.8" cy="416.9" r="2.8"/>
<circle cx="592.1" cy="417.2" r="2.8"/>
<circle cx="599.2" cy="444.8" r="2.8"/>
<circle cx="595.1" cy="442.2" r="2.8"/>
<circle cx="619.6" cy="436.2" r="2.8"/>
<circle cx="615.5" cy="450.4" r="2.8"/>
<circle cx="587.2" cy="462.9" r="2.8"/>
<circle cx="614.6" cy="453.5" r="2.8"/>
<circle cx="599.8" cy="426.6" r="2.8"/>
<circle cx="610.3" cy="419.5" r="2.8"/>
<circle cx="616.2" cy="430.6" r="2.8"/>
<circle cx="618.9" cy="466.0" r="2.8"/>
<circle cx="597.6" cy="437.2" r="2.8"/>
<circle cx="606.6" cy="459.3" r="2.8"/>
<circle cx="602.1" cy="460.7" r="2.8"/>
<circle cx="607.4" cy="462.7" r="2.8"/>
<circle cx="584.7" cy="421.9" r="2.8"/>
<circle cx="601.5" cy="441.3" r="2.8"/>
<circle cx="612.0" cy="428.5" r="2.8"/>
<circle cx="607.2" cy="436.2" r="2.8"/>
<circle cx="623.9" cy="446.8" r="2.8"/>
<circle cx="598.9" cy="415.6" r="2.8"/>
<circle cx="584.0" cy="468.0" r="2.8"/>
<circle cx="644.3" cy="447.8" r="2.8"/>
<circle cx="659.3" cy="439.5" r="2.8"/>
<circle cx="640.5" cy="447.5" r="2.8"/>
<circle cx="651.5" cy="440.7" r="2.8"/>
<circle cx="662.2" cy="434.7" r="2.8"/>
<circle cx="641.3" cy="441.5" r="2.8"/>
<circle cx="663.1" cy="453.8" r="2.8"/>
<circle cx="637.9" cy="449.3" r="2.8"/>
<circle cx="665.5" cy="433.7" r="2.8"/>
<circle cx="635.2" cy="429.0" r="2.8"/>
<circle cx="648.2" cy="431.1" r="2.8"/>
<circle cx="647.5" cy="434.0" r="2.8"/>
<circle cx="650.6" cy="446.9" r="2.8"/>
<circle cx="633.7" cy="434.3" r="2.8"/>
<circle cx="630.4" cy="430.6" r="2.8"/>
<circle cx="665.2" cy="441.4" r="2.8"/>
<circle cx="657.8" cy="444.5" r="2.8"/>
<circle cx="645.4" cy="444.6" r="2.8"/>
<circle cx="664.1" cy="447.6" r="2.8"/>
<circle cx="659.3" cy="442.1" r="2.8"/>
<circle cx="640.2" cy="429.2" r="2.8"/>
<circle cx="633.8" cy="444.7" r="2.8"/>
<circle cx="636.2" cy="441.1" r="2.8"/>
<circle cx="654.9" cy="439.6" r="2.8"/>
<circle cx="661.6" cy="425.5" r="2.8"/>
<circle cx="633.5" cy="448.7" r="2.8"/>
<circle cx="647.0" cy="439.5" r="2.8"/>
<circle cx="665.0" cy="437.0" r="2.8"/>
<circle cx="636.7" cy="444.2" r="2.8"/>
<circle cx="669.3" cy="437.7" r="2.8"/>
<circle cx="649.8" cy="442.7" r="2.8"/>
<circle cx="646.8" cy="428.6" r="2.8"/>
<circle cx="642.7" cy="436.2" r="2.8"/>
<circle cx="670.2" cy="434.1" r="2.8"/>
<circle cx="630.0" cy="446.7" r="2.8"/>
<circle cx="656.0" cy="431.0" r="2.8"/>
<circle cx="658.0" cy="432.9" r="2.8"/>
<circle cx="633.3" cy="440.0" r="2.8"/>
<circle cx="643.2" cy="432.1" r="2.8"/>
<circle cx="637.5" cy="436.5" r="2.8"/>
<circle cx="649.9" cy="438.6" r="2.8"/>
<circle cx="665.6" cy="427.0" r="2.8"/>
<circle cx="650.9" cy="428.6" r="2.8"/>
<circle cx="647.9" cy="425.2" r="2.8"/>
<circle cx="662.4" cy="443.9" r="2.8"/>
<circle cx="652.0" cy="451.9" r="2.8"/>
<circle cx="637.1" cy="433.0" r="2.8"/>
<circle cx="630.7" cy="438.5" r="2.8"/>
<circle cx="656.7" cy="427.7" r="2.8"/>
<circle cx="659.8" cy="448.3" r="2.8"/>
<circle cx="659.5" cy="436.2" r="2.8"/>
<circle cx="640.1" cy="434.2" r="2.8"/>
<circle cx="636.0" cy="459.8" r="2.8"/>
<circle cx="638.6" cy="458.5" r="2.8"/>
<circle cx="634.2" cy="465.4" r="2.8"/>
<circle cx="657.6" cy="456.7" r="2.8"/>
<circle cx="649.8" cy="465.2" r="2.8"/>
<circle cx="630.1" cy="465.6" r="2.8"/>
<circle cx="655.7" cy="465.4" r="2.8"/>
<circle cx="639.9" cy="465.6" r="2.8"/>
<circle cx="657.9" cy="463.8" r="2.8"/>
<circle cx="663.2" cy="462.4" r="2.8"/>
<circle cx="626.7" cy="459.3" r="2.8"/>
<circle cx="657.1" cy="459.6" r="2.8"/>
<circle cx="662.7" cy="458.5" r="2.8"/>
<circle cx="641.7" cy="462.0" r="2.8"/>
<circle cx="651.3" cy="468.1" r="2.8"/>
<circle cx="630.0" cy="457.7" r="2.8"/>
<circle cx="644.9" cy="459.0" r="2.8"/>
<circle cx="632.7" cy="459.4" r="2.8"/>
<circle cx="648.4" cy="458.4" r="2.8"/>
<circle cx="664.7" cy="454.0" r="2.8"/>
<circle cx="627.7" cy="462.1" r="2.8"/>
<circle cx="644.4" cy="464.9" r="2.8"/>
<circle cx="647.6" cy="466.8" r="2.8"/>
<circle cx="651.8" cy="460.9" r="2.8"/>
<circle cx="662.0" cy="454.4" r="2.8"/>
<circle cx="653.0" cy="455.5" r="2.8"/>
<circle cx="716.0" cy="441.0" r="2.8"/>
<circle cx="675.0" cy="442.8" r="2.8"/>
<circle cx="705.4" cy="452.3" r="2.8"/>
<circle cx="687.4" cy="423.8" r="2.8"/>
<circle cx="689.9" cy="426.5" r="2.8"/>
<circle cx="696.0" cy="452.5" r="2.8"/>
<circle cx="710.9" cy="436.2" r="2.8"/>
<circle cx="701.7" cy="444.3" r="2.8"/>
<circle cx="700.7" cy="437.1" r="2.8"/>
<circle cx="672.4" cy="456.1" r="2.8"/>
<circle cx="674.0" cy="458.2" r="2.8"/>
<circle cx="680.8" cy="430.2" r="2.8"/>
<circle cx="676.4" cy="452.5" r="2.8"/>
<circle cx="690.7" cy="440.5" r="2.8"/>
<circle cx="700.2" cy="439.4" r="2.8"/>
<circle cx="690.0" cy="455.0" r="2.8"/>
<circle cx="709.2" cy="441.9" r="2.8"/>
<circle cx="672.0" cy="449.5" r="2.8"/>
<circle cx="692.0" cy="451.4" r="2.8"/>
<circle cx="696.1" cy="444.3" r="2.8"/>
<circle cx="688.7" cy="465.1" r="2.8"/>
<circle cx="711.7" cy="469.3" r="2.8"/>
<circle cx="698.0" cy="447.3" r="2.8"/>
<circle cx="727.7" cy="454.4" r="2.8"/>
<circle cx="683.3" cy="452.5" r="2.8"/>
<circle cx="696.5" cy="464.9" r="2.8"/>
<circle cx="670.8" cy="430.7" r="2.8"/>
<circle cx="706.3" cy="446.3" r="2.8"/>
<circle cx="671.6" cy="442.7" r="2.8"/>
<circle cx="720.6" cy="448.6" r="2.8"/>
<circle cx="718.9" cy="457.0" r="2.8"/>
<circle cx="705.3" cy="432.2" r="2.8"/>
<circle cx="726.8" cy="456.3" r="2.8"/>
<circle cx="678.4" cy="433.8" r="2.8"/>
<circle cx="699.2" cy="444.2" r="2.8"/>
<circle cx="724.8" cy="466.0" r="2.8"/>
<circle cx="685.6" cy="436.9" r="2.8"/>
<circle cx="695.3" cy="457.5" r="2.8"/>
<circle cx="718.2" cy="465.2" r="2.8"/>
<circle cx="697.8" cy="460.4" r="2.8"/>
<circle cx="703.6" cy="476.2" r="2.8"/>
<circle cx="722.6" cy="463.3" r="2.8"/>
<circle cx="703.6" cy="436.4" r="2.8"/>
<circle cx="673.6" cy="430.4" r="2.8"/>
<circle cx="682.3" cy="420.3" r="2.8"/>
<circle cx="680.8" cy="466.0" r="2.8"/>
<circle cx="688.9" cy="458.7" r="2.8"/>
<circle cx="716.4" cy="445.1" r="2.8"/>
<circle cx="701.9" cy="434.1" r="2.8"/>
<circle cx="684.9" cy="432.1" r="2.8"/>
<circle cx="697.9" cy="431.2" r="2.8"/>
<circle cx="722.0" cy="459.3" r="2.8"/>
<circle cx="666.1" cy="448.3" r="2.8"/>
<circle cx="699.8" cy="468.3" r="2.8"/>
<circle cx="672.2" cy="428.3" r="2.8"/>
<circle cx="695.1" cy="447.1" r="2.8"/>
<circle cx="725.4" cy="457.8" r="2.8"/>
<circle cx="687.1" cy="441.9" r="2.8"/>
<circle cx="698.3" cy="441.0" r="2.8"/>
<circle cx="708.8" cy="456.1" r="2.8"/>
<circle cx="702.6" cy="453.7" r="2.8"/>
<circle cx="683.2" cy="440.7" r="2.8"/>
<circle cx="721.8" cy="446.8" r="2.8"/>
<circle cx="674.2" cy="439.2" r="2.8"/>
<circle cx="699.0" cy="434.7" r="2.8"/>
<circle cx="713.8" cy="467.0" r="2.8"/>
<circle cx="676.6" cy="431.6" r="2.8"/>
<circle cx="687.6" cy="460.2" r="2.8"/>
<circle cx="691.1" cy="461.6" r="2.8"/>
<circle cx="678.4" cy="441.4" r="2.8"/>
<circle cx="707.7" cy="460.5" r="2.8"/>
<circle cx="705.8" cy="457.9" r="2.8"/>
<circle cx="699.5" cy="429.9" r="2.8"/>
<circle cx="665.2" cy="438.2" r="2.8"/>
<circle cx="681.2" cy="432.5" r="2.8"/>
<circle cx="695.1" cy="431.1" r="2.8"/>
<circle cx="703.2" cy="460.4" r="2.8"/>
<circle cx="680.8" cy="455.7" r="2.8"/>
<circle cx="679.7" cy="449.2" r="2.8"/>
<circle cx="670.2" cy="436.3" r="2.8"/>
<circle cx="681.8" cy="424.7" r="2.8"/>
<circle cx="713.7" cy="469.9" r="2.8"/>
<circle cx="677.9" cy="429.5" r="2.8"/>
<circle cx="674.3" cy="451.9" r="2.8"/>
<circle cx="706.9" cy="443.7" r="2.8"/>
<circle cx="667.8" cy="453.0" r="2.8"/>
<circle cx="676.8" cy="443.9" r="2.8"/>
<circle cx="689.5" cy="443.9" r="2.8"/>
<circle cx="705.5" cy="441.7" r="2.8"/>
<circle cx="676.2" cy="435.8" r="2.8"/>
<circle cx="685.9" cy="433.9" r="2.8"/>
<circle cx="691.6" cy="447.3" r="2.8"/>
<circle cx="685.0" cy="449.3" r="2.8"/>
<circle cx="694.2" cy="462.8" r="2.8"/>
<circle cx="715.1" cy="461.5" r="2.8"/>
<circle cx="721.3" cy="469.4" r="2.8"/>
<circle cx="675.6" cy="446.7" r="2.8"/>
<circle cx="678.4" cy="439.1" r="2.8"/>
<circle cx="685.3" cy="458.0" r="2.8"/>
<circle cx="689.4" cy="469.2" r="2.8"/>
<circle cx="692.9" cy="439.4" r="2.8"/>
<circle cx="716.3" cy="472.5" r="2.8"/>
<circle cx="686.0" cy="468.8" r="2.8"/>
<circle cx="717.0" cy="447.1" r="2.8"/>
<circle cx="701.0" cy="473.6" r="2.8"/>
<circle cx="682.3" cy="446.6" r="2.8"/>
<circle cx="698.3" cy="472.6" r="2.8"/>
<circle cx="701.8" cy="431.9" r="2.8"/>
<circle cx="694.8" cy="434.4" r="2.8"/>
<circle cx="706.1" cy="449.6" r="2.8"/>
<circle cx="682.4" cy="461.0" r="2.8"/>
<circle cx="700.0" cy="461.3" r="2.8"/>
<circle cx="705.7" cy="464.1" r="2.8"/>
<circle cx="693.7" cy="459.6" r="2.8"/>
<circle cx="688.4" cy="429.5" r="2.8"/>
<circle cx="697.0" cy="455.8" r="2.8"/>
<circle cx="723.0" cy="461.1" r="2.8"/>
<circle cx="678.4" cy="456.7" r="2.8"/>
<circle cx="709.2" cy="473.5" r="2.8"/>
<circle cx="708.5" cy="467.1" r="2.8"/>
<circle cx="688.3" cy="434.6" r="2.8"/>
<circle cx="676.3" cy="427.5" r="2.8"/>
<circle cx="714.0" cy="440.6" r="2.8"/>
<circle cx="670.5" cy="448.0" r="2.8"/>
<circle cx="691.8" cy="434.7" r="2.8"/>
<circle cx="665.4" cy="441.9" r="2.8"/>
<circle cx="725.8" cy="450.5" r="2.8"/>
<circle cx="703.9" cy="456.5" r="2.8"/>
<circle cx="716.7" cy="470.3" r="2.8"/>
<circle cx="700.2" cy="452.5" r="2.8"/>
<circle cx="698.5" cy="450.6" r="2.8"/>
<circle cx="686.5" cy="451.0" r="2.8"/>
<circle cx="680.9" cy="458.5" r="2.8"/>
<circle cx="704.1" cy="448.6" r="2.8"/>
<circle cx="675.8" cy="421.5" r="2.8"/>
<circle cx="681.9" cy="450.7" r="2.8"/>
<circle cx="705.3" cy="474.6" r="2.8"/>
<circle cx="692.9" cy="424.7" r="2.8"/>
<circle cx="677.0" cy="425.4" r="2.8"/>
<circle cx="695.8" cy="467.4" r="2.8"/>
<circle cx="699.9" cy="432.7" r="2.8"/>
<circle cx="696.9" cy="470.2" r="2.8"/>
<circle cx="711.1" cy="458.1" r="2.8"/>
<circle cx="693.5" cy="441.9" r="2.8"/>
<circle cx="666.2" cy="430.4" r="2.8"/>
<circle cx="684.0" cy="466.6" r="2.8"/>
<circle cx="691.7" cy="464.5" r="2.8"/>
<circle cx="703.4" cy="468.5" r="2.8"/>
<circle cx="709.7" cy="464.4" r="2.8"/>
<circle cx="707.6" cy="453.6" r="2.8"/>
<circle cx="687.8" cy="437.4" r="2.8"/>
<circle cx="709.0" cy="446.4" r="2.8"/>
<circle cx="698.0" cy="428.0" r="2.8"/>
<circle cx="728.9" cy="456.6" r="2.8"/>
<circle cx="686.0" cy="445.3" r="2.8"/>
<circle cx="721.3" cy="457.1" r="2.8"/>
<circle cx="689.9" cy="449.0" r="2.8"/>
<circle cx="679.8" cy="453.9" r="2.8"/>
<circle cx="701.1" cy="477.0" r="2.8"/>
<circle cx="685.5" cy="462.6" r="2.8"/>
<circle cx="687.1" cy="455.0" r="2.8"/>
<circle cx="706.5" cy="438.1" r="2.8"/>
<circle cx="668.8" cy="444.7" r="2.8"/>
<circle cx="698.3" cy="453.6" r="2.8"/>
<circle cx="692.9" cy="449.0" r="2.8"/>
<circle cx="717.0" cy="463.1" r="2.8"/>
<circle cx="683.3" cy="429.1" r="2.8"/>
<circle cx="701.0" cy="457.1" r="2.8"/>
<circle cx="694.2" cy="455.0" r="2.8"/>
<circle cx="719.4" cy="475.4" r="2.8"/>
<circle cx="707.9" cy="463.1" r="2.8"/>
<circle cx="702.3" cy="429.9" r="2.8"/>
<circle cx="668.9" cy="438.2" r="2.8"/>
<circle cx="713.1" cy="451.3" r="2.8"/>
<circle cx="725.2" cy="461.9" r="2.8"/>
<circle cx="671.3" cy="445.0" r="2.8"/>
<circle cx="703.1" cy="451.4" r="2.8"/>
<circle cx="696.2" cy="438.8" r="2.8"/>
<circle cx="713.7" cy="472.5" r="2.8"/>
<circle cx="713.7" cy="444.5" r="2.8"/>
<circle cx="669.5" cy="449.8" r="2.8"/>
<circle cx="713.9" cy="437.0" r="2.8"/>
<circle cx="689.5" cy="471.9" r="2.8"/>
<circle cx="705.5" cy="461.1" r="2.8"/>
<circle cx="679.0" cy="451.7" r="2.8"/>
<circle cx="702.9" cy="462.9" r="2.8"/>
<circle cx="673.6" cy="435.5" r="2.8"/>
<circle cx="671.1" cy="460.2" r="2.8"/>
<circle cx="720.5" cy="440.1" r="2.8"/>
<circle cx="722.7" cy="472.7" r="2.8"/>
<circle cx="667.3" cy="433.0" r="2.8"/>
<circle cx="704.8" cy="465.9" r="2.8"/>
<circle cx="725.6" cy="468.0" r="2.8"/>
<circle cx="700.8" cy="449.0" r="2.8"/>
<circle cx="668.3" cy="429.0" r="2.8"/>
<circle cx="710.6" cy="451.4" r="2.8"/>
<circle cx="725.7" cy="464.1" r="2.8"/>
<circle cx="673.9" cy="423.1" r="2.8"/>
<circle cx="685.1" cy="453.8" r="2.8"/>
<circle cx="715.8" cy="455.3" r="2.8"/>
<circle cx="725.8" cy="452.7" r="2.8"/>
<circle cx="705.3" cy="471.7" r="2.8"/>
<circle cx="714.2" cy="475.7" r="2.8"/>
<circle cx="708.8" cy="449.3" r="2.8"/>
<circle cx="703.3" cy="442.6" r="2.8"/>
<circle cx="702.4" cy="465.4" r="2.8"/>
<circle cx="726.7" cy="460.1" r="2.8"/>
<circle cx="682.6" cy="463.6" r="2.8"/>
<circle cx="730.7" cy="459.0" r="2.8"/>
<circle cx="723.7" cy="455.3" r="2.8"/>
<circle cx="693.8" cy="429.4" r="2.8"/>
<circle cx="674.6" cy="454.3" r="2.8"/>
<circle cx="699.4" cy="463.5" r="2.8"/>
<circle cx="685.2" cy="422.4" r="2.8"/>
<circle cx="710.8" cy="445.3" r="2.8"/>
<circle cx="674.2" cy="432.8" r="2.8"/>
<circle cx="728.4" cy="466.0" r="2.8"/>
<circle cx="674.4" cy="461.8" r="2.8"/>
<circle cx="680.4" cy="427.6" r="2.8"/>
<circle cx="681.4" cy="441.5" r="2.8"/>
<circle cx="694.2" cy="436.6" r="2.8"/>
<circle cx="673.4" cy="445.4" r="2.8"/>
<circle cx="697.9" cy="466.9" r="2.8"/>
<circle cx="711.3" cy="439.7" r="2.8"/>
<circle cx="692.4" cy="467.9" r="2.8"/>
<circle cx="574.0" cy="533.6" r="2.8"/>
<circle cx="574.2" cy="535.4" r="2.8"/>
<circle cx="575.9" cy="535.4" r="2.8"/>
<circle cx="576.7" cy="536.6" r="2.8"/>
<circle cx="578.0" cy="537.1" r="2.8"/>
<circle cx="578.9" cy="538.1" r="2.8"/>
<circle cx="580.9" cy="537.7" r="2.8"/>
<circle cx="580.5" cy="540.4" r="2.8"/>
<circle cx="582.1" cy="540.5" r="2.8"/>
<circle cx="583.3" cy="541.1" r="2.8"/>
<circle cx="584.3" cy="542.1" r="2.8"/>
<circle cx="585.4" cy="542.8" r="2.8"/>
<circle cx="586.6" cy="543.5" r="2.8"/>
<circle cx="587.8" cy="544.1" r="2.8"/>
<circle cx="588.8" cy="545.0" r="2.8"/>
<circle cx="588.8" cy="547.1" r="2.8"/>
<circle cx="590.3" cy="547.3" r="2.8"/>
<circle cx="591.6" cy="547.8" r="2.8"/>
<circle cx="592.7" cy="548.7" r="2.8"/>
<circle cx="593.6" cy="549.7" r="2.8"/>
<circle cx="594.8" cy="550.3" r="2.8"/>
<circle cx="595.3" cy="551.8" r="2.8"/>
<circle cx="597.2" cy="551.5" r="2.8"/>
<circle cx="596.8" cy="554.1" r="2.8"/>
<circle cx="575.8" cy="475.0" r="2.8"/>
<circle cx="566.7" cy="481.7" r="2.8"/>
<circle cx="562.5" cy="488.0" r="2.8"/>
<circle cx="565.0" cy="488.3" r="2.8"/>
<circle cx="558.3" cy="497.5" r="2.8"/>
<circle cx="565.0" cy="496.7" r="2.8"/>
<circle cx="567.5" cy="503.0" r="2.8"/>
<circle cx="565.0" cy="501.7" r="2.8"/>
<circle cx="567.5" cy="498.3" r="2.8"/>
<circle cx="561.3" cy="443.3" r="2.8"/>
<circle cx="566.3" cy="440.5" r="2.8"/>
<circle cx="570.8" cy="442.8" r="2.8"/>
<circle cx="570.8" cy="448.0" r="2.8"/>
<circle cx="566.7" cy="457.5" r="2.8"/>
<circle cx="567.5" cy="462.0" r="2.8"/>
<circle cx="573.3" cy="455.0" r="2.8"/>
<circle cx="575.8" cy="460.0" r="2.8"/>
<circle cx="579.2" cy="465.0" r="2.8"/>
<circle cx="540.8" cy="433.3" r="2.8"/>
<circle cx="555.8" cy="521.7" r="2.8"/>
<circle cx="561.7" cy="527.2" r="2.8"/>
<circle cx="565.8" cy="524.2" r="2.8"/>
<circle cx="163.7" cy="527.0" r="2.8"/>
<circle cx="191.6" cy="553.0" r="2.8"/>
<circle cx="202.7" cy="510.5" r="2.8"/>
<circle cx="217.9" cy="510.6" r="2.8"/>
<circle cx="164.1" cy="524.5" r="2.8"/>
<circle cx="194.4" cy="525.0" r="2.8"/>
<circle cx="177.3" cy="524.7" r="2.8"/>
<circle cx="194.1" cy="507.9" r="2.8"/>
<circle cx="223.8" cy="541.5" r="2.8"/>
<circle cx="168.1" cy="547.1" r="2.8"/>
<circle cx="161.3" cy="552.2" r="2.8"/>
<circle cx="204.0" cy="505.4" r="2.8"/>
<circle cx="165.3" cy="520.1" r="2.8"/>
<circle cx="171.4" cy="551.5" r="2.8"/>
<circle cx="160.8" cy="538.9" r="2.8"/>
<circle cx="191.8" cy="564.3" r="2.8"/>
<circle cx="175.5" cy="541.9" r="2.8"/>
<circle cx="178.8" cy="545.0" r="2.8"/>
<circle cx="197.2" cy="563.6" r="2.8"/>
<circle cx="188.2" cy="518.9" r="2.8"/>
<circle cx="210.6" cy="547.9" r="2.8"/>
<circle cx="209.4" cy="530.0" r="2.8"/>
<circle cx="218.9" cy="520.1" r="2.8"/>
<circle cx="216.1" cy="554.9" r="2.8"/>
<circle cx="163.2" cy="518.2" r="2.8"/>
<circle cx="226.0" cy="513.8" r="2.8"/>
<circle cx="194.2" cy="557.0" r="2.8"/>
<circle cx="159.1" cy="544.7" r="2.8"/>
<circle cx="159.8" cy="541.5" r="2.8"/>
<circle cx="182.0" cy="555.4" r="2.8"/>
<circle cx="156.3" cy="555.5" r="2.8"/>
<circle cx="175.9" cy="538.1" r="2.8"/>
<circle cx="188.6" cy="522.7" r="2.8"/>
<circle cx="168.9" cy="518.5" r="2.8"/>
<circle cx="185.7" cy="557.4" r="2.8"/>
<circle cx="222.5" cy="549.9" r="2.8"/>
<circle cx="192.0" cy="521.6" r="2.8"/>
<circle cx="216.5" cy="534.6" r="2.8"/>
<circle cx="179.7" cy="551.7" r="2.8"/>
<circle cx="210.7" cy="525.5" r="2.8"/>
<circle cx="196.5" cy="504.1" r="2.8"/>
<circle cx="200.1" cy="561.0" r="2.8"/>
<circle cx="173.1" cy="563.2" r="2.8"/>
<circle cx="227.9" cy="553.3" r="2.8"/>
<circle cx="170.5" cy="537.5" r="2.8"/>
<circle cx="209.1" cy="505.4" r="2.8"/>
<circle cx="211.7" cy="536.2" r="2.8"/>
<circle cx="174.4" cy="557.0" r="2.8"/>
<circle cx="204.6" cy="532.3" r="2.8"/>
<circle cx="181.9" cy="517.3" r="2.8"/>
<circle cx="195.6" cy="543.6" r="2.8"/>
<circle cx="225.6" cy="507.9" r="2.8"/>
<circle cx="188.9" cy="529.5" r="2.8"/>
<circle cx="208.7" cy="538.6" r="2.8"/>
<circle cx="189.3" cy="563.1" r="2.8"/>
<circle cx="180.7" cy="564.3" r="2.8"/>
<circle cx="171.8" cy="520.3" r="2.8"/>
<circle cx="183.4" cy="529.2" r="2.8"/>
<circle cx="184.2" cy="564.3" r="2.8"/>
<circle cx="222.2" cy="553.2" r="2.8"/>
<circle cx="195.6" cy="539.0" r="2.8"/>
<circle cx="199.7" cy="523.6" r="2.8"/>
<circle cx="157.3" cy="528.3" r="2.8"/>
<circle cx="235.5" cy="551.6" r="2.8"/>
<circle cx="228.1" cy="546.7" r="2.8"/>
<circle cx="203.4" cy="518.6" r="2.8"/>
<circle cx="180.2" cy="557.2" r="2.8"/>
<circle cx="215.8" cy="504.2" r="2.8"/>
<circle cx="170.2" cy="557.7" r="2.8"/>
<circle cx="204.5" cy="548.8" r="2.8"/>
<circle cx="220.8" cy="511.8" r="2.8"/>
<circle cx="218.3" cy="546.7" r="2.8"/>
<circle cx="190.2" cy="525.2" r="2.8"/>
<circle cx="159.3" cy="548.1" r="2.8"/>
<circle cx="215.7" cy="517.0" r="2.8"/>
<circle cx="221.6" cy="523.9" r="2.8"/>
<circle cx="192.5" cy="518.2" r="2.8"/>
<circle cx="220.9" cy="544.1" r="2.8"/>
<circle cx="170.2" cy="513.4" r="2.8"/>
<circle cx="185.4" cy="559.6" r="2.8"/>
<circle cx="211.5" cy="510.1" r="2.8"/>
<circle cx="183.9" cy="523.7" r="2.8"/>
<circle cx="173.9" cy="539.2" r="2.8"/>
<circle cx="189.0" cy="534.5" r="2.8"/>
<circle cx="222.1" cy="537.6" r="2.8"/>
<circle cx="202.2" cy="531.2" r="2.8"/>
<circle cx="213.9" cy="552.5" r="2.8"/>
<circle cx="179.3" cy="511.0" r="2.8"/>
<circle cx="154.4" cy="561.5" r="2.8"/>
<circle cx="214.3" cy="521.9" r="2.8"/>
<circle cx="188.4" cy="512.8" r="2.8"/>
<circle cx="222.1" cy="515.7" r="2.8"/>
<circle cx="213.3" cy="527.8" r="2.8"/>
<circle cx="212.4" cy="506.8" r="2.8"/>
<circle cx="238.8" cy="549.3" r="2.8"/>
<circle cx="162.0" cy="545.2" r="2.8"/>
<circle cx="212.1" cy="532.1" r="2.8"/>
<circle cx="205.0" cy="508.9" r="2.8"/>
<circle cx="214.2" cy="547.2" r="2.8"/>
<circle cx="192.4" cy="537.5" r="2.8"/>
<circle cx="187.9" cy="532.3" r="2.8"/>
<circle cx="154.0" cy="537.3" r="2.8"/>
<circle cx="187.6" cy="506.8" r="2.8"/>
<circle cx="194.6" cy="565.1" r="2.8"/>
<circle cx="190.2" cy="546.4" r="2.8"/>
<circle cx="231.2" cy="544.7" r="2.8"/>
<circle cx="211.6" cy="553.4" r="2.8"/>
<circle cx="200.0" cy="529.9" r="2.8"/>
<circle cx="192.6" cy="504.3" r="2.8"/>
<circle cx="217.9" cy="530.1" r="2.8"/>
<circle cx="155.1" cy="549.5" r="2.8"/>
<circle cx="176.3" cy="558.3" r="2.8"/>
<circle cx="176.3" cy="513.9" r="2.8"/>
<circle cx="217.3" cy="515.4" r="2.8"/>
<circle cx="195.4" cy="568.1" r="2.8"/>
<circle cx="194.6" cy="512.1" r="2.8"/>
<circle cx="198.8" cy="555.4" r="2.8"/>
<circle cx="223.0" cy="513.5" r="2.8"/>
<circle cx="214.7" cy="514.6" r="2.8"/>
<circle cx="213.8" cy="524.2" r="2.8"/>
<circle cx="162.6" cy="515.4" r="2.8"/>
<circle cx="208.7" cy="550.4" r="2.8"/>
<circle cx="195.5" cy="552.6" r="2.8"/>
<circle cx="193.6" cy="547.4" r="2.8"/>
<circle cx="173.8" cy="530.9" r="2.8"/>
<circle cx="152.8" cy="539.4" r="2.8"/>
<circle cx="161.0" cy="527.3" r="2.8"/>
<circle cx="192.1" cy="543.4" r="2.8"/>
<circle cx="190.8" cy="531.2" r="2.8"/>
<circle cx="164.7" cy="530.6" r="2.8"/>
<circle cx="182.7" cy="534.0" r="2.8"/>
<circle cx="200.2" cy="503.3" r="2.8"/>
<circle cx="219.6" cy="506.6" r="2.8"/>
<circle cx="198.3" cy="537.5" r="2.8"/>
<circle cx="175.0" cy="517.8" r="2.8"/>
<circle cx="195.9" cy="522.1" r="2.8"/>
<circle cx="183.0" cy="511.3" r="2.8"/>
<circle cx="164.7" cy="542.1" r="2.8"/>
<circle cx="195.0" cy="559.8" r="2.8"/>
<circle cx="160.4" cy="560.2" r="2.8"/>
<circle cx="168.7" cy="528.2" r="2.8"/>
<circle cx="157.2" cy="539.1" r="2.8"/>
<circle cx="221.5" cy="509.1" r="2.8"/>
<circle cx="213.6" cy="519.3" r="2.8"/>
<circle cx="192.2" cy="549.9" r="2.8"/>
<circle cx="201.5" cy="521.2" r="2.8"/>
<circle cx="195.3" cy="527.8" r="2.8"/>
<circle cx="152.5" cy="557.1" r="2.8"/>
<circle cx="186.1" cy="539.9" r="2.8"/>
<circle cx="181.6" cy="571.1" r="2.8"/>
<circle cx="206.0" cy="519.8" r="2.8"/>
<circle cx="178.0" cy="536.0" r="2.8"/>
<circle cx="182.1" cy="547.8" r="2.8"/>
<circle cx="223.4" cy="520.3" r="2.8"/>
<circle cx="154.0" cy="532.5" r="2.8"/>
<circle cx="208.7" cy="510.6" r="2.8"/>
<circle cx="162.6" cy="529.1" r="2.8"/>
<circle cx="159.3" cy="533.3" r="2.8"/>
<circle cx="169.0" cy="543.4" r="2.8"/>
<circle cx="223.2" cy="527.4" r="2.8"/>
<circle cx="227.3" cy="518.0" r="2.8"/>
<circle cx="208.7" cy="558.2" r="2.8"/>
<circle cx="173.0" cy="546.9" r="2.8"/>
<circle cx="162.8" cy="536.6" r="2.8"/>
<circle cx="195.0" cy="531.8" r="2.8"/>
<circle cx="177.6" cy="519.6" r="2.8"/>
<circle cx="153.4" cy="553.6" r="2.8"/>
<circle cx="229.3" cy="550.4" r="2.8"/>
<circle cx="232.2" cy="550.4" r="2.8"/>
<circle cx="165.4" cy="558.2" r="2.8"/>
<circle cx="170.4" cy="515.8" r="2.8"/>
<circle cx="222.4" cy="506.4" r="2.8"/>
<circle cx="189.9" cy="539.7" r="2.8"/>
<circle cx="206.7" cy="555.1" r="2.8"/>
<circle cx="168.0" cy="558.5" r="2.8"/>
<circle cx="181.0" cy="530.6" r="2.8"/>
<circle cx="201.1" cy="525.6" r="2.8"/>
<circle cx="208.3" cy="507.8" r="2.8"/>
<circle cx="156.3" cy="544.7" r="2.8"/>
<circle cx="240.4" cy="546.0" r="2.8"/>
<circle cx="191.2" cy="507.9" r="2.8"/>
<circle cx="185.4" cy="547.2" r="2.8"/>
<circle cx="231.7" cy="552.7" r="2.8"/>
<circle cx="160.8" cy="554.4" r="2.8"/>
<circle cx="179.4" cy="561.9" r="2.8"/>
<circle cx="173.6" cy="528.5" r="2.8"/>
<circle cx="208.9" cy="516.9" r="2.8"/>
<circle cx="226.6" cy="550.9" r="2.8"/>
<circle cx="171.0" cy="547.9" r="2.8"/>
<circle cx="184.1" cy="553.2" r="2.8"/>
<circle cx="175.4" cy="560.4" r="2.8"/>
<circle cx="166.3" cy="561.2" r="2.8"/>
<circle cx="196.8" cy="549.6" r="2.8"/>
<circle cx="217.8" cy="505.1" r="2.8"/>
<circle cx="219.9" cy="540.4" r="2.8"/>
<circle cx="192.5" cy="528.5" r="2.8"/>
<circle cx="211.6" cy="545.0" r="2.8"/>
<circle cx="217.4" cy="526.2" r="2.8"/>
<circle cx="156.1" cy="541.1" r="2.8"/>
<circle cx="154.1" cy="546.4" r="2.8"/>
<circle cx="186.3" cy="543.0" r="2.8"/>
<circle cx="198.9" cy="519.2" r="2.8"/>
<circle cx="174.2" cy="551.3" r="2.8"/>
<circle cx="217.1" cy="549.8" r="2.8"/>
<circle cx="158.7" cy="556.4" r="2.8"/>
<circle cx="168.8" cy="563.6" r="2.8"/>
<circle cx="166.0" cy="534.4" r="2.8"/>
<circle cx="196.4" cy="557.1" r="2.8"/>
<circle cx="203.9" cy="501.8" r="2.8"/>
<circle cx="221.3" cy="534.5" r="2.8"/>
<circle cx="183.4" cy="537.5" r="2.8"/>
<circle cx="197.0" cy="499.3" r="2.8"/>
<circle cx="208.7" cy="542.4" r="2.8"/>
<circle cx="178.1" cy="515.5" r="2.8"/>
<circle cx="236.8" cy="544.3" r="2.8"/>
<circle cx="162.0" cy="562.7" r="2.8"/>
<circle cx="187.8" cy="504.6" r="2.8"/>
<circle cx="166.5" cy="539.7" r="2.8"/>
<circle cx="202.4" cy="533.5" r="2.8"/>
<circle cx="206.3" cy="541.1" r="2.8"/>
<circle cx="187.1" cy="561.7" r="2.8"/>
<circle cx="226.5" cy="544.1" r="2.8"/>
<circle cx="222.8" cy="530.2" r="2.8"/>
<circle cx="173.2" cy="541.5" r="2.8"/>
<circle cx="208.7" cy="521.7" r="2.8"/>
<circle cx="149.0" cy="549.7" r="2.8"/>
<circle cx="216.3" cy="542.9" r="2.8"/>
<circle cx="183.3" cy="562.1" r="2.8"/>
<circle cx="179.0" cy="531.9" r="2.8"/>
<circle cx="191.6" cy="512.0" r="2.8"/>
<circle cx="182.1" cy="513.9" r="2.8"/>
<circle cx="149.5" cy="546.7" r="2.8"/>
<circle cx="206.5" cy="546.6" r="2.8"/>
<circle cx="196.7" cy="541.7" r="2.8"/>
<circle cx="203.4" cy="525.8" r="2.8"/>
<circle cx="199.9" cy="514.9" r="2.8"/>
<circle cx="152.6" cy="549.7" r="2.8"/>
<circle cx="223.6" cy="511.2" r="2.8"/>
<circle cx="172.2" cy="523.2" r="2.8"/>
<circle cx="225.7" cy="516.1" r="2.8"/>
<circle cx="196.2" cy="547.0" r="2.8"/>
<circle cx="237.1" cy="547.1" r="2.8"/>
<circle cx="148.4" cy="552.9" r="2.8"/>
<circle cx="185.6" cy="533.4" r="2.8"/>
<circle cx="153.0" cy="542.9" r="2.8"/>
<circle cx="150.7" cy="543.1" r="2.8"/>
<circle cx="228.5" cy="557.1" r="2.8"/>
<circle cx="203.5" cy="540.0" r="2.8"/>
<circle cx="183.0" cy="507.7" r="2.8"/>
<circle cx="224.5" cy="523.5" r="2.8"/>
<circle cx="186.4" cy="509.1" r="2.8"/>
<circle cx="203.0" cy="507.8" r="2.8"/>
<circle cx="223.1" cy="518.0" r="2.8"/>
<circle cx="178.8" cy="567.0" r="2.8"/>
<circle cx="211.4" cy="512.5" r="2.8"/>
<circle cx="175.7" cy="554.1" r="2.8"/>
<circle cx="162.2" cy="557.1" r="2.8"/>
<circle cx="218.6" cy="501.4" r="2.8"/>
<circle cx="202.1" cy="514.0" r="2.8"/>
<circle cx="171.8" cy="560.2" r="2.8"/>
<circle cx="196.2" cy="535.2" r="2.8"/>
<circle cx="217.0" cy="507.2" r="2.8"/>
<circle cx="205.9" cy="503.5" r="2.8"/>
<circle cx="231.4" cy="547.7" r="2.8"/>
<circle cx="204.2" cy="555.4" r="2.8"/>
<circle cx="160.0" cy="535.9" r="2.8"/>
<circle cx="214.8" cy="509.1" r="2.8"/>
<circle cx="212.7" cy="539.8" r="2.8"/>
<circle cx="168.0" cy="556.1" r="2.8"/>
<circle cx="218.5" cy="522.4" r="2.8"/>
<circle cx="163.5" cy="540.0" r="2.8"/>
<circle cx="176.6" cy="548.7" r="2.8"/>
<circle cx="197.3" cy="532.6" r="2.8"/>
<circle cx="206.6" cy="514.3" r="2.8"/>
<circle cx="186.9" cy="514.6" r="2.8"/>
<circle cx="181.9" cy="525.7" r="2.8"/>
<circle cx="202.7" cy="560.1" r="2.8"/>
<circle cx="235.2" cy="555.4" r="2.8"/>
<circle cx="200.7" cy="550.6" r="2.8"/>
<circle cx="208.3" cy="501.0" r="2.8"/>
<circle cx="178.8" cy="540.9" r="2.8"/>
<circle cx="219.9" cy="527.7" r="2.8"/>
<circle cx="173.4" cy="543.8" r="2.8"/>
<circle cx="215.5" cy="501.9" r="2.8"/>
<circle cx="223.5" cy="545.0" r="2.8"/>
<circle cx="173.3" cy="525.9" r="2.8"/>
<circle cx="235.3" cy="548.3" r="2.8"/>
<circle cx="201.1" cy="516.8" r="2.8"/>
<circle cx="171.9" cy="554.0" r="2.8"/>
<circle cx="193.8" cy="514.6" r="2.8"/>
<circle cx="179.2" cy="523.4" r="2.8"/>
<circle cx="218.4" cy="513.2" r="2.8"/>
<circle cx="162.1" cy="521.9" r="2.8"/>
<circle cx="165.7" cy="551.8" r="2.8"/>
<circle cx="193.3" cy="554.5" r="2.8"/>
<circle cx="166.7" cy="525.2" r="2.8"/>
<circle cx="155.7" cy="523.0" r="2.8"/>
<circle cx="183.3" cy="520.1" r="2.8"/>
<circle cx="198.0" cy="508.6" r="2.8"/>
<circle cx="234.7" cy="546.0" r="2.8"/>
<circle cx="182.9" cy="558.4" r="2.8"/>
<circle cx="192.4" cy="561.1" r="2.8"/>
<circle cx="208.0" cy="527.4" r="2.8"/>
<circle cx="169.6" cy="532.6" r="2.8"/>
<circle cx="218.2" cy="538.0" r="2.8"/>
<circle cx="224.6" cy="538.8" r="2.8"/>
<circle cx="158.7" cy="518.0" r="2.8"/>
<circle cx="189.9" cy="568.0" r="2.8"/>
<circle cx="200.2" cy="505.9" r="2.8"/>
<circle cx="228.4" cy="512.8" r="2.8"/>
<circle cx="173.3" cy="533.6" r="2.8"/>
<circle cx="203.0" cy="542.4" r="2.8"/>
<circle cx="156.2" cy="531.2" r="2.8"/>
<circle cx="179.9" cy="521.0" r="2.8"/>
<circle cx="190.5" cy="555.4" r="2.8"/>
<circle cx="193.4" cy="541.4" r="2.8"/>
<circle cx="181.0" cy="541.9" r="2.8"/>
<circle cx="197.4" cy="526.3" r="2.8"/>
<circle cx="219.0" cy="551.8" r="2.8"/>
<circle cx="181.4" cy="545.1" r="2.8"/>
<circle cx="190.0" cy="504.7" r="2.8"/>
<circle cx="170.1" cy="539.8" r="2.8"/>
<circle cx="218.1" cy="556.2" r="2.8"/>
<circle cx="215.3" cy="537.2" r="2.8"/>
<circle cx="183.9" cy="568.4" r="2.8"/>
<circle cx="211.3" cy="518.4" r="2.8"/>
<circle cx="227.8" cy="541.6" r="2.8"/>
<circle cx="174.8" cy="535.5" r="2.8"/>
<circle cx="156.2" cy="547.4" r="2.8"/>
<circle cx="201.1" cy="536.3" r="2.8"/>
<circle cx="204.9" cy="523.0" r="2.8"/>
<circle cx="200.1" cy="553.1" r="2.8"/>
<circle cx="200.4" cy="547.6" r="2.8"/>
<circle cx="210.8" cy="514.7" r="2.8"/>
<circle cx="176.1" cy="544.8" r="2.8"/>
<circle cx="208.2" cy="533.0" r="2.8"/>
<circle cx="204.7" cy="529.0" r="2.8"/>
<circle cx="201.7" cy="557.7" r="2.8"/>
<circle cx="210.2" cy="527.7" r="2.8"/>
<circle cx="183.7" cy="544.4" r="2.8"/>
<circle cx="241.9" cy="571.6" r="2.8"/>
<circle cx="240.7" cy="575.4" r="2.8"/>
<circle cx="235.6" cy="576.1" r="2.8"/>
<circle cx="217.5" cy="567.5" r="2.8"/>
<circle cx="216.9" cy="578.0" r="2.8"/>
<circle cx="236.9" cy="574.5" r="2.8"/>
<circle cx="229.9" cy="573.6" r="2.8"/>
<circle cx="237.3" cy="562.6" r="2.8"/>
<circle cx="233.5" cy="571.0" r="2.8"/>
<circle cx="225.0" cy="576.1" r="2.8"/>
<circle cx="228.8" cy="569.4" r="2.8"/>
<circle cx="232.5" cy="575.3" r="2.8"/>
<circle cx="238.4" cy="572.9" r="2.8"/>
<circle cx="220.2" cy="572.9" r="2.8"/>
<circle cx="223.8" cy="569.5" r="2.8"/>
<circle cx="221.2" cy="568.3" r="2.8"/>
<circle cx="221.9" cy="576.4" r="2.8"/>
<circle cx="223.6" cy="572.7" r="2.8"/>
<circle cx="243.7" cy="574.3" r="2.8"/>
<circle cx="216.2" cy="570.4" r="2.8"/>
<circle cx="227.1" cy="574.7" r="2.8"/>
<circle cx="219.3" cy="574.8" r="2.8"/>
<circle cx="228.6" cy="576.7" r="2.8"/>
<circle cx="238.8" cy="564.6" r="2.8"/>
<circle cx="218.0" cy="572.4" r="2.8"/>
<circle cx="247.0" cy="575.6" r="2.8"/>
<circle cx="243.0" cy="569.1" r="2.8"/>
<circle cx="214.1" cy="573.0" r="2.8"/>
<circle cx="239.3" cy="569.1" r="2.8"/>
<circle cx="246.3" cy="570.0" r="2.8"/>
<circle cx="230.3" cy="571.1" r="2.8"/>
<circle cx="225.4" cy="568.3" r="2.8"/>
<circle cx="222.2" cy="565.7" r="2.8"/>
<circle cx="235.2" cy="572.5" r="2.8"/>
<circle cx="225.7" cy="571.2" r="2.8"/>
<circle cx="218.3" cy="570.3" r="2.8"/>
<circle cx="245.3" cy="494.4" r="2.8"/>
<circle cx="257.4" cy="488.7" r="2.8"/>
<circle cx="244.5" cy="495.8" r="2.8"/>
<circle cx="246.9" cy="494.4" r="2.8"/>
<circle cx="242.1" cy="501.4" r="2.8"/>
<circle cx="236.9" cy="506.0" r="2.8"/>
<circle cx="247.3" cy="493.2" r="2.8"/>
<circle cx="240.8" cy="501.3" r="2.8"/>
<circle cx="248.4" cy="503.2" r="2.8"/>
<circle cx="250.8" cy="503.7" r="2.8"/>
<circle cx="251.9" cy="502.1" r="2.8"/>
<circle cx="253.7" cy="503.0" r="2.8"/>
<circle cx="252.4" cy="501.9" r="2.8"/>
<circle cx="206.7" cy="570.7" r="2.8"/>
<circle cx="204.7" cy="568.7" r="2.8"/>
<circle cx="257.3" cy="496.0" r="2.8"/>
<circle cx="237.3" cy="503.3" r="2.8"/>
<circle cx="236.7" cy="514.0" r="2.8"/>
<circle cx="237.3" cy="522.7" r="2.8"/>
<circle cx="244.9" cy="524.7" r="2.8"/>
<circle cx="236.0" cy="531.3" r="2.8"/>
<circle cx="228.7" cy="528.7" r="2.8"/>
<circle cx="424.1" cy="572.5" r="2.8"/>
<circle cx="429.4" cy="573.5" r="2.8"/>
<circle cx="506.6" cy="574.0" r="2.8"/>
<circle cx="425.2" cy="577.1" r="2.8"/>
<circle cx="511.2" cy="561.1" r="2.8"/>
<circle cx="450.0" cy="592.4" r="2.8"/>
<circle cx="507.7" cy="558.1" r="2.8"/>
<circle cx="463.0" cy="585.4" r="2.8"/>
<circle cx="482.8" cy="573.1" r="2.8"/>
<circle cx="463.4" cy="556.1" r="2.8"/>
<circle cx="462.4" cy="591.9" r="2.8"/>
<circle cx="475.3" cy="587.4" r="2.8"/>
<circle cx="505.5" cy="534.0" r="2.8"/>
<circle cx="494.3" cy="544.7" r="2.8"/>
<circle cx="435.1" cy="582.8" r="2.8"/>
<circle cx="465.6" cy="580.0" r="2.8"/>
<circle cx="438.7" cy="586.2" r="2.8"/>
<circle cx="499.6" cy="566.1" r="2.8"/>
<circle cx="457.5" cy="566.0" r="2.8"/>
<circle cx="512.3" cy="551.4" r="2.8"/>
<circle cx="506.0" cy="576.1" r="2.8"/>
<circle cx="497.2" cy="576.9" r="2.8"/>
<circle cx="467.7" cy="560.3" r="2.8"/>
<circle cx="494.7" cy="585.4" r="2.8"/>
<circle cx="470.3" cy="581.1" r="2.8"/>
<circle cx="482.4" cy="565.9" r="2.8"/>
<circle cx="441.8" cy="567.2" r="2.8"/>
<circle cx="495.6" cy="580.7" r="2.8"/>
<circle cx="424.3" cy="569.1" r="2.8"/>
<circle cx="489.8" cy="564.5" r="2.8"/>
<circle cx="458.0" cy="577.7" r="2.8"/>
<circle cx="505.1" cy="527.8" r="2.8"/>
<circle cx="447.8" cy="584.8" r="2.8"/>
<circle cx="500.4" cy="561.6" r="2.8"/>
<circle cx="489.2" cy="570.9" r="2.8"/>
<circle cx="482.8" cy="569.3" r="2.8"/>
<circle cx="498.7" cy="582.9" r="2.8"/>
<circle cx="460.2" cy="571.2" r="2.8"/>
<circle cx="515.3" cy="560.2" r="2.8"/>
<circle cx="497.9" cy="571.1" r="2.8"/>
<circle cx="508.7" cy="571.0" r="2.8"/>
<circle cx="482.7" cy="562.4" r="2.8"/>
<circle cx="516.2" cy="544.7" r="2.8"/>
<circle cx="489.1" cy="581.0" r="2.8"/>
<circle cx="504.3" cy="563.5" r="2.8"/>
<circle cx="510.7" cy="539.6" r="2.8"/>
<circle cx="487.8" cy="583.1" r="2.8"/>
<circle cx="473.8" cy="589.4" r="2.8"/>
<circle cx="460.4" cy="592.8" r="2.8"/>
<circle cx="483.0" cy="588.5" r="2.8"/>
<circle cx="517.5" cy="553.6" r="2.8"/>
<circle cx="485.1" cy="559.2" r="2.8"/>
<circle cx="471.5" cy="592.6" r="2.8"/>
<circle cx="457.6" cy="588.2" r="2.8"/>
<circle cx="488.9" cy="574.2" r="2.8"/>
<circle cx="427.6" cy="544.2" r="2.8"/>
<circle cx="502.3" cy="575.8" r="2.8"/>
<circle cx="430.9" cy="575.5" r="2.8"/>
<circle cx="422.6" cy="546.4" r="2.8"/>
<circle cx="445.0" cy="565.8" r="2.8"/>
<circle cx="506.5" cy="556.4" r="2.8"/>
<circle cx="475.5" cy="592.2" r="2.8"/>
<circle cx="521.1" cy="554.2" r="2.8"/>
<circle cx="491.1" cy="554.9" r="2.8"/>
<circle cx="436.0" cy="535.8" r="2.8"/>
<circle cx="463.7" cy="578.5" r="2.8"/>
<circle cx="514.4" cy="545.6" r="2.8"/>
<circle cx="475.3" cy="564.0" r="2.8"/>
<circle cx="510.3" cy="563.6" r="2.8"/>
<circle cx="502.5" cy="579.3" r="2.8"/>
<circle cx="497.5" cy="567.0" r="2.8"/>
<circle cx="447.2" cy="569.8" r="2.8"/>
<circle cx="418.5" cy="551.4" r="2.8"/>
<circle cx="497.9" cy="579.2" r="2.8"/>
<circle cx="481.9" cy="580.3" r="2.8"/>
<circle cx="428.9" cy="536.2" r="2.8"/>
<circle cx="438.0" cy="582.6" r="2.8"/>
<circle cx="462.7" cy="563.1" r="2.8"/>
<circle cx="475.8" cy="560.4" r="2.8"/>
<circle cx="477.1" cy="593.8" r="2.8"/>
<circle cx="438.8" cy="578.7" r="2.8"/>
<circle cx="432.4" cy="567.8" r="2.8"/>
<circle cx="470.0" cy="589.5" r="2.8"/>
<circle cx="465.9" cy="567.3" r="2.8"/>
<circle cx="512.6" cy="553.8" r="2.8"/>
<circle cx="459.6" cy="566.2" r="2.8"/>
<circle cx="459.5" cy="575.1" r="2.8"/>
<circle cx="480.9" cy="573.8" r="2.8"/>
<circle cx="419.1" cy="546.5" r="2.8"/>
<circle cx="476.7" cy="567.8" r="2.8"/>
<circle cx="421.5" cy="539.2" r="2.8"/>
<circle cx="511.4" cy="556.1" r="2.8"/>
<circle cx="444.8" cy="569.3" r="2.8"/>
<circle cx="455.6" cy="578.5" r="2.8"/>
<circle cx="503.3" cy="567.8" r="2.8"/>
<circle cx="456.1" cy="595.0" r="2.8"/>
<circle cx="429.8" cy="544.1" r="2.8"/>
<circle cx="509.4" cy="533.9" r="2.8"/>
<circle cx="452.2" cy="578.9" r="2.8"/>
<circle cx="451.5" cy="571.4" r="2.8"/>
<circle cx="514.5" cy="557.4" r="2.8"/>
<circle cx="447.0" cy="597.8" r="2.8"/>
<circle cx="510.1" cy="524.0" r="2.8"/>
<circle cx="459.7" cy="585.4" r="2.8"/>
<circle cx="471.5" cy="575.7" r="2.8"/>
<circle cx="424.0" cy="554.1" r="2.8"/>
<circle cx="429.7" cy="553.2" r="2.8"/>
<circle cx="514.6" cy="536.4" r="2.8"/>
<circle cx="466.1" cy="569.7" r="2.8"/>
<circle cx="464.9" cy="561.7" r="2.8"/>
<circle cx="464.2" cy="574.2" r="2.8"/>
<circle cx="513.3" cy="570.0" r="2.8"/>
<circle cx="462.3" cy="565.1" r="2.8"/>
<circle cx="438.5" cy="576.3" r="2.8"/>
<circle cx="487.1" cy="559.8" r="2.8"/>
<circle cx="422.4" cy="551.6" r="2.8"/>
<circle cx="484.9" cy="591.7" r="2.8"/>
<circle cx="451.8" cy="587.8" r="2.8"/>
<circle cx="484.9" cy="572.3" r="2.8"/>
<circle cx="491.9" cy="570.8" r="2.8"/>
<circle cx="518.0" cy="529.1" r="2.8"/>
<circle cx="437.4" cy="593.0" r="2.8"/>
<circle cx="456.7" cy="559.8" r="2.8"/>
<circle cx="425.8" cy="574.1" r="2.8"/>
<circle cx="431.2" cy="539.2" r="2.8"/>
<circle cx="451.2" cy="568.3" r="2.8"/>
<circle cx="448.0" cy="590.6" r="2.8"/>
<circle cx="449.5" cy="573.8" r="2.8"/>
<circle cx="452.2" cy="583.3" r="2.8"/>
<circle cx="457.0" cy="572.3" r="2.8"/>
<circle cx="489.2" cy="568.8" r="2.8"/>
<circle cx="446.1" cy="593.8" r="2.8"/>
<circle cx="489.2" cy="562.0" r="2.8"/>
<circle cx="421.4" cy="561.2" r="2.8"/>
<circle cx="478.1" cy="557.5" r="2.8"/>
<circle cx="434.6" cy="544.3" r="2.8"/>
<circle cx="465.4" cy="586.7" r="2.8"/>
<circle cx="454.4" cy="569.5" r="2.8"/>
<circle cx="500.6" cy="574.4" r="2.8"/>
<circle cx="469.8" cy="567.5" r="2.8"/>
<circle cx="499.6" cy="549.8" r="2.8"/>
<circle cx="447.2" cy="564.0" r="2.8"/>
<circle cx="510.0" cy="547.8" r="2.8"/>
<circle cx="489.2" cy="577.3" r="2.8"/>
<circle cx="508.8" cy="538.6" r="2.8"/>
<circle cx="473.2" cy="556.2" r="2.8"/>
<circle cx="501.2" cy="572.2" r="2.8"/>
<circle cx="498.2" cy="560.7" r="2.8"/>
<circle cx="437.6" cy="563.2" r="2.8"/>
<circle cx="457.0" cy="592.2" r="2.8"/>
<circle cx="496.0" cy="553.2" r="2.8"/>
<circle cx="492.5" cy="578.8" r="2.8"/>
<circle cx="485.8" cy="579.9" r="2.8"/>
<circle cx="418.8" cy="563.0" r="2.8"/>
<circle cx="466.6" cy="558.5" r="2.8"/>
<circle cx="476.5" cy="577.8" r="2.8"/>
<circle cx="454.3" cy="588.3" r="2.8"/>
<circle cx="495.9" cy="574.2" r="2.8"/>
<circle cx="510.2" cy="567.0" r="2.8"/>
<circle cx="452.1" cy="599.1" r="2.8"/>
<circle cx="425.1" cy="552.4" r="2.8"/>
<circle cx="456.6" cy="568.6" r="2.8"/>
<circle cx="513.6" cy="530.5" r="2.8"/>
<circle cx="434.2" cy="577.4" r="2.8"/>
<circle cx="480.4" cy="562.8" r="2.8"/>
<circle cx="431.4" cy="564.8" r="2.8"/>
<circle cx="501.8" cy="555.0" r="2.8"/>
<circle cx="432.5" cy="579.4" r="2.8"/>
<circle cx="481.3" cy="557.2" r="2.8"/>
<circle cx="495.2" cy="566.3" r="2.8"/>
<circle cx="499.6" cy="557.4" r="2.8"/>
<circle cx="492.0" cy="556.9" r="2.8"/>
<circle cx="421.3" cy="559.1" r="2.8"/>
<circle cx="443.1" cy="573.4" r="2.8"/>
<circle cx="480.0" cy="565.5" r="2.8"/>
<circle cx="472.2" cy="583.6" r="2.8"/>
<circle cx="512.9" cy="565.4" r="2.8"/>
<circle cx="440.8" cy="596.4" r="2.8"/>
<circle cx="507.2" cy="536.5" r="2.8"/>
<circle cx="507.1" cy="528.4" r="2.8"/>
<circle cx="444.5" cy="588.2" r="2.8"/>
<circle cx="471.3" cy="563.0" r="2.8"/>
<circle cx="469.6" cy="595.3" r="2.8"/>
<circle cx="479.0" cy="590.8" r="2.8"/>
<circle cx="456.3" cy="581.7" r="2.8"/>
<circle cx="422.7" cy="565.0" r="2.8"/>
<circle cx="493.7" cy="575.2" r="2.8"/>
<circle cx="509.6" cy="545.8" r="2.8"/>
<circle cx="506.2" cy="543.8" r="2.8"/>
<circle cx="503.6" cy="572.7" r="2.8"/>
<circle cx="423.9" cy="557.0" r="2.8"/>
<circle cx="478.6" cy="559.9" r="2.8"/>
<circle cx="446.4" cy="581.5" r="2.8"/>
<circle cx="500.5" cy="551.9" r="2.8"/>
<circle cx="454.9" cy="574.4" r="2.8"/>
<circle cx="426.6" cy="561.9" r="2.8"/>
<circle cx="438.3" cy="569.5" r="2.8"/>
<circle cx="465.5" cy="589.7" r="2.8"/>
<circle cx="426.6" cy="570.3" r="2.8"/>
<circle cx="509.5" cy="530.1" r="2.8"/>
<circle cx="516.1" cy="547.5" r="2.8"/>
<circle cx="455.3" cy="585.1" r="2.8"/>
<circle cx="436.6" cy="580.3" r="2.8"/>
<circle cx="515.9" cy="564.7" r="2.8"/>
<circle cx="458.9" cy="598.4" r="2.8"/>
<circle cx="460.4" cy="561.9" r="2.8"/>
<circle cx="427.4" cy="552.5" r="2.8"/>
<circle cx="464.3" cy="596.8" r="2.8"/>
<circle cx="518.8" cy="558.2" r="2.8"/>
<circle cx="437.1" cy="572.4" r="2.8"/>
<circle cx="463.1" cy="594.5" r="2.8"/>
<circle cx="477.3" cy="585.9" r="2.8"/>
<circle cx="425.5" cy="540.4" r="2.8"/>
<circle cx="472.6" cy="565.8" r="2.8"/>
<circle cx="463.7" cy="582.9" r="2.8"/>
<circle cx="431.7" cy="549.4" r="2.8"/>
<circle cx="493.4" cy="564.2" r="2.8"/>
<circle cx="501.9" cy="564.0" r="2.8"/>
<circle cx="430.5" cy="583.1" r="2.8"/>
<circle cx="507.9" cy="552.6" r="2.8"/>
<circle cx="485.1" cy="567.7" r="2.8"/>
<circle cx="515.6" cy="568.7" r="2.8"/>
<circle cx="441.1" cy="591.2" r="2.8"/>
<circle cx="484.6" cy="555.9" r="2.8"/>
<circle cx="460.3" cy="590.2" r="2.8"/>
<circle cx="468.8" cy="587.1" r="2.8"/>
<circle cx="479.8" cy="592.9" r="2.8"/>
<circle cx="505.2" cy="553.1" r="2.8"/>
<circle cx="456.8" cy="562.4" r="2.8"/>
<circle cx="471.8" cy="573.4" r="2.8"/>
<circle cx="478.5" cy="570.9" r="2.8"/>
<circle cx="444.0" cy="577.7" r="2.8"/>
<circle cx="520.3" cy="545.3" r="2.8"/>
<circle cx="498.3" cy="564.6" r="2.8"/>
<circle cx="456.1" cy="589.7" r="2.8"/>
<circle cx="424.3" cy="561.2" r="2.8"/>
<circle cx="519.3" cy="551.3" r="2.8"/>
<circle cx="429.1" cy="560.2" r="2.8"/>
<circle cx="512.6" cy="537.1" r="2.8"/>
<circle cx="502.7" cy="558.1" r="2.8"/>
<circle cx="487.2" cy="590.8" r="2.8"/>
<circle cx="507.9" cy="549.6" r="2.8"/>
<circle cx="494.0" cy="557.6" r="2.8"/>
<circle cx="515.3" cy="527.6" r="2.8"/>
<circle cx="461.6" cy="597.5" r="2.8"/>
<circle cx="469.4" cy="574.9" r="2.8"/>
<circle cx="422.0" cy="553.6" r="2.8"/>
<circle cx="440.1" cy="588.1" r="2.8"/>
<circle cx="487.3" cy="586.8" r="2.8"/>
<circle cx="512.8" cy="533.0" r="2.8"/>
<circle cx="493.9" cy="549.4" r="2.8"/>
<circle cx="500.2" cy="569.9" r="2.8"/>
<circle cx="463.2" cy="571.0" r="2.8"/>
<circle cx="448.6" cy="596.5" r="2.8"/>
<circle cx="507.3" cy="560.7" r="2.8"/>
<circle cx="428.6" cy="557.6" r="2.8"/>
<circle cx="477.5" cy="583.6" r="2.8"/>
<circle cx="498.2" cy="545.6" r="2.8"/>
<circle cx="453.0" cy="596.5" r="2.8"/>
<circle cx="490.0" cy="557.8" r="2.8"/>
<circle cx="444.2" cy="590.9" r="2.8"/>
<circle cx="472.4" cy="586.0" r="2.8"/>
<circle cx="427.4" cy="575.4" r="2.8"/>
<circle cx="462.8" cy="568.9" r="2.8"/>
<circle cx="424.9" cy="545.5" r="2.8"/>
<circle cx="429.6" cy="548.3" r="2.8"/>
<circle cx="502.4" cy="569.8" r="2.8"/>
<circle cx="433.4" cy="570.8" r="2.8"/>
<circle cx="515.9" cy="541.8" r="2.8"/>
<circle cx="430.6" cy="541.6" r="2.8"/>
<circle cx="462.1" cy="574.8" r="2.8"/>
<circle cx="490.8" cy="582.7" r="2.8"/>
<circle cx="452.9" cy="564.8" r="2.8"/>
<circle cx="452.7" cy="576.7" r="2.8"/>
<circle cx="503.7" cy="561.3" r="2.8"/>
<circle cx="468.1" cy="570.7" r="2.8"/>
<circle cx="486.8" cy="557.3" r="2.8"/>
<circle cx="496.5" cy="548.5" r="2.8"/>
<circle cx="492.7" cy="562.0" r="2.8"/>
<circle cx="453.0" cy="581.0" r="2.8"/>
<circle cx="449.2" cy="581.5" r="2.8"/>
<circle cx="435.0" cy="574.3" r="2.8"/>
<circle cx="457.7" cy="583.8" r="2.8"/>
<circle cx="460.1" cy="595.8" r="2.8"/>
<circle cx="516.1" cy="535.0" r="2.8"/>
<circle cx="461.6" cy="559.7" r="2.8"/>
<circle cx="469.9" cy="569.6" r="2.8"/>
<circle cx="467.2" cy="578.2" r="2.8"/>
<circle cx="433.3" cy="589.7" r="2.8"/>
<circle cx="471.1" cy="560.4" r="2.8"/>
<circle cx="442.7" cy="569.1" r="2.8"/>
<circle cx="519.1" cy="535.6" r="2.8"/>
<circle cx="452.6" cy="560.9" r="2.8"/>
<circle cx="439.6" cy="562.6" r="2.8"/>
<circle cx="462.5" cy="580.3" r="2.8"/>
<circle cx="436.6" cy="578.0" r="2.8"/>
<circle cx="476.5" cy="573.9" r="2.8"/>
<circle cx="493.3" cy="588.4" r="2.8"/>
<circle cx="514.7" cy="539.5" r="2.8"/>
<circle cx="513.2" cy="528.2" r="2.8"/>
<circle cx="436.7" cy="566.8" r="2.8"/>
<circle cx="450.0" cy="561.9" r="2.8"/>
<circle cx="422.8" cy="562.8" r="2.8"/>
<circle cx="465.3" cy="576.9" r="2.8"/>
<circle cx="507.4" cy="547.6" r="2.8"/>
<circle cx="423.5" cy="548.9" r="2.8"/>
<circle cx="499.1" cy="555.0" r="2.8"/>
<circle cx="446.1" cy="574.7" r="2.8"/>
<circle cx="447.5" cy="560.9" r="2.8"/>
<circle cx="496.9" cy="555.5" r="2.8"/>
<circle cx="459.2" cy="579.5" r="2.8"/>
<circle cx="464.4" cy="564.7" r="2.8"/>
<circle cx="471.4" cy="579.2" r="2.8"/>
<circle cx="466.0" cy="598.1" r="2.8"/>
<circle cx="425.6" cy="542.5" r="2.8"/>
<circle cx="466.9" cy="564.3" r="2.8"/>
<circle cx="478.7" cy="575.2" r="2.8"/>
<circle cx="498.5" cy="552.8" r="2.8"/>
<circle cx="474.8" cy="583.8" r="2.8"/>
<circle cx="450.1" cy="564.6" r="2.8"/>
<circle cx="516.4" cy="537.3" r="2.8"/>
<circle cx="508.1" cy="563.1" r="2.8"/>
<circle cx="472.5" cy="558.5" r="2.8"/>
<circle cx="426.2" cy="580.0" r="2.8"/>
<circle cx="432.5" cy="560.7" r="2.8"/>
<circle cx="439.6" cy="584.3" r="2.8"/>
<circle cx="474.1" cy="576.9" r="2.8"/>
<circle cx="486.5" cy="571.0" r="2.8"/>
<circle cx="443.2" cy="586.5" r="2.8"/>
<circle cx="429.3" cy="571.1" r="2.8"/>
<circle cx="495.4" cy="561.6" r="2.8"/>
<circle cx="443.7" cy="571.4" r="2.8"/>
<circle cx="446.7" cy="567.3" r="2.8"/>
<circle cx="500.3" cy="581.2" r="2.8"/>
<circle cx="492.2" cy="586.6" r="2.8"/>
<circle cx="512.2" cy="571.8" r="2.8"/>
<circle cx="479.4" cy="580.9" r="2.8"/>
<circle cx="494.5" cy="570.3" r="2.8"/>
<circle cx="519.1" cy="540.2" r="2.8"/>
<circle cx="419.2" cy="555.5" r="2.8"/>
<circle cx="429.4" cy="563.0" r="2.8"/>
<circle cx="486.6" cy="564.8" r="2.8"/>
<circle cx="450.1" cy="585.7" r="2.8"/>
<circle cx="458.4" cy="561.1" r="2.8"/>
<circle cx="452.3" cy="592.3" r="2.8"/>
<circle cx="474.6" cy="566.4" r="2.8"/>
<circle cx="425.9" cy="549.9" r="2.8"/>
<circle cx="461.4" cy="582.8" r="2.8"/>
<circle cx="472.3" cy="596.5" r="2.8"/>
<circle cx="427.8" cy="546.9" r="2.8"/>
<circle cx="448.4" cy="577.4" r="2.8"/>
<circle cx="428.3" cy="567.1" r="2.8"/>
<circle cx="470.5" cy="585.0" r="2.8"/>
<circle cx="474.1" cy="580.0" r="2.8"/>
<circle cx="474.0" cy="594.1" r="2.8"/>
<circle cx="430.2" cy="569.1" r="2.8"/>
<circle cx="499.0" cy="573.1" r="2.8"/>
<circle cx="425.1" cy="564.5" r="2.8"/>
<circle cx="504.6" cy="566.0" r="2.8"/>
<circle cx="508.8" cy="526.7" r="2.8"/>
<circle cx="486.1" cy="550.3" r="2.8"/>
<circle cx="421.3" cy="556.2" r="2.8"/>
<circle cx="468.5" cy="583.6" r="2.8"/>
<circle cx="433.9" cy="537.4" r="2.8"/>
<circle cx="467.6" cy="592.7" r="2.8"/>
<circle cx="515.1" cy="532.5" r="2.8"/>
<circle cx="447.7" cy="587.8" r="2.8"/>
<circle cx="502.3" cy="550.9" r="2.8"/>
<circle cx="519.2" cy="560.8" r="2.8"/>
<circle cx="427.3" cy="538.1" r="2.8"/>
<circle cx="464.0" cy="472.0" r="2.8"/>
<circle cx="466.7" cy="471.3" r="2.8"/>
<circle cx="482.0" cy="471.6" r="2.8"/>
<circle cx="482.3" cy="477.3" r="2.8"/>
<circle cx="490.7" cy="477.6" r="2.8"/>
<circle cx="492.0" cy="484.0" r="2.8"/>
<circle cx="493.3" cy="490.0" r="2.8"/>
<circle cx="490.7" cy="496.0" r="2.8"/>
<circle cx="488.0" cy="499.3" r="2.8"/>
<circle cx="494.7" cy="498.7" r="2.8"/>
<circle cx="498.0" cy="501.6" r="2.8"/>
<circle cx="481.3" cy="503.3" r="2.8"/>
<circle cx="486.4" cy="505.7" r="2.8"/>
<circle cx="491.7" cy="504.9" r="2.8"/>
<circle cx="493.3" cy="508.0" r="2.8"/>
<circle cx="500.3" cy="510.0" r="2.8"/>
<circle cx="481.6" cy="512.9" r="2.8"/>
<circle cx="494.0" cy="516.0" r="2.8"/>
<circle cx="480.9" cy="523.3" r="2.8"/>
<circle cx="498.0" cy="523.3" r="2.8"/>
<circle cx="495.6" cy="528.1" r="2.8"/>
<circle cx="476.3" cy="531.6" r="2.8"/>
<circle cx="479.6" cy="538.5" r="2.8"/>
<circle cx="474.7" cy="542.7" r="2.8"/>
<circle cx="471.3" cy="544.0" r="2.8"/>
<circle cx="465.3" cy="546.4" r="2.8"/>
<circle cx="452.0" cy="532.7" r="2.8"/>
<circle cx="439.1" cy="529.3" r="2.8"/>
<circle cx="436.7" cy="531.3" r="2.8"/>
<circle cx="438.0" cy="538.0" r="2.8"/>
<circle cx="442.3" cy="544.3" r="2.8"/>
<circle cx="534.7" cy="507.3" r="2.8"/>
<circle cx="536.7" cy="509.3" r="2.8"/>
<circle cx="749.9" cy="596.8" r="2.8"/>
<circle cx="743.9" cy="595.4" r="2.8"/>
<circle cx="776.2" cy="589.2" r="2.8"/>
<circle cx="761.4" cy="601.0" r="2.8"/>
<circle cx="734.4" cy="593.8" r="2.8"/>
<circle cx="776.3" cy="600.1" r="2.8"/>
<circle cx="758.7" cy="601.5" r="2.8"/>
<circle cx="731.0" cy="597.1" r="2.8"/>
<circle cx="754.1" cy="590.3" r="2.8"/>
<circle cx="777.0" cy="596.5" r="2.8"/>
<circle cx="732.2" cy="591.8" r="2.8"/>
<circle cx="783.2" cy="594.6" r="2.8"/>
<circle cx="760.8" cy="593.3" r="2.8"/>
<circle cx="752.6" cy="606.0" r="2.8"/>
<circle cx="770.3" cy="587.5" r="2.8"/>
<circle cx="767.2" cy="587.6" r="2.8"/>
<circle cx="768.7" cy="583.8" r="2.8"/>
<circle cx="767.6" cy="585.6" r="2.8"/>
<circle cx="766.3" cy="604.2" r="2.8"/>
<circle cx="736.2" cy="597.3" r="2.8"/>
<circle cx="729.6" cy="592.5" r="2.8"/>
<circle cx="748.2" cy="594.3" r="2.8"/>
<circle cx="740.9" cy="596.7" r="2.8"/>
<circle cx="765.2" cy="602.1" r="2.8"/>
<circle cx="756.2" cy="603.8" r="2.8"/>
<circle cx="743.4" cy="599.5" r="2.8"/>
<circle cx="740.9" cy="590.8" r="2.8"/>
<circle cx="728.5" cy="595.3" r="2.8"/>
<circle cx="780.0" cy="584.5" r="2.8"/>
<circle cx="766.6" cy="592.8" r="2.8"/>
<circle cx="783.1" cy="589.2" r="2.8"/>
<circle cx="752.3" cy="587.6" r="2.8"/>
<circle cx="754.2" cy="585.4" r="2.8"/>
<circle cx="782.4" cy="591.5" r="2.8"/>
<circle cx="736.8" cy="592.9" r="2.8"/>
<circle cx="745.5" cy="596.7" r="2.8"/>
<circle cx="760.1" cy="599.0" r="2.8"/>
<circle cx="776.3" cy="583.0" r="2.8"/>
<circle cx="739.8" cy="599.7" r="2.8"/>
<circle cx="770.3" cy="591.7" r="2.8"/>
<circle cx="761.6" cy="588.2" r="2.8"/>
<circle cx="769.7" cy="602.5" r="2.8"/>
<circle cx="780.7" cy="587.5" r="2.8"/>
<circle cx="770.5" cy="597.9" r="2.8"/>
<circle cx="749.0" cy="604.1" r="2.8"/>
<circle cx="749.5" cy="600.0" r="2.8"/>
<circle cx="738.8" cy="593.9" r="2.8"/>
<circle cx="762.6" cy="597.1" r="2.8"/>
<circle cx="756.5" cy="601.1" r="2.8"/>
<circle cx="745.0" cy="601.4" r="2.8"/>
<circle cx="744.4" cy="593.4" r="2.8"/>
<circle cx="769.0" cy="596.2" r="2.8"/>
<circle cx="763.2" cy="582.9" r="2.8"/>
<circle cx="746.9" cy="592.3" r="2.8"/>
<circle cx="765.2" cy="589.6" r="2.8"/>
<circle cx="765.8" cy="597.2" r="2.8"/>
<circle cx="751.8" cy="602.2" r="2.8"/>
<circle cx="759.0" cy="588.2" r="2.8"/>
<circle cx="767.5" cy="581.8" r="2.8"/>
<circle cx="755.8" cy="598.2" r="2.8"/>
<circle cx="751.5" cy="595.6" r="2.8"/>
<circle cx="753.1" cy="599.8" r="2.8"/>
<circle cx="758.4" cy="594.5" r="2.8"/>
<circle cx="753.4" cy="594.1" r="2.8"/>
<circle cx="737.4" cy="601.0" r="2.8"/>
<circle cx="750.7" cy="590.9" r="2.8"/>
<circle cx="777.8" cy="592.1" r="2.8"/>
<circle cx="772.8" cy="589.7" r="2.8"/>
<circle cx="761.5" cy="603.1" r="2.8"/>
<circle cx="763.4" cy="600.5" r="2.8"/>
<circle cx="756.2" cy="591.0" r="2.8"/>
<circle cx="756.0" cy="588.2" r="2.8"/>
<circle cx="777.9" cy="584.5" r="2.8"/>
<circle cx="778.7" cy="580.4" r="2.8"/>
<circle cx="783.6" cy="584.1" r="2.8"/>
<circle cx="771.3" cy="600.0" r="2.8"/>
<circle cx="778.8" cy="594.2" r="2.8"/>
<circle cx="757.3" cy="586.2" r="2.8"/>
<circle cx="758.8" cy="591.4" r="2.8"/>
<circle cx="765.0" cy="587.1" r="2.8"/>
<circle cx="774.1" cy="598.6" r="2.8"/>
<circle cx="742.8" cy="591.9" r="2.8"/>
<circle cx="735.4" cy="601.3" r="2.8"/>
<circle cx="745.6" cy="599.1" r="2.8"/>
<circle cx="765.1" cy="584.8" r="2.8"/>
<circle cx="768.2" cy="598.1" r="2.8"/>
<circle cx="757.5" cy="596.9" r="2.8"/>
<circle cx="763.8" cy="592.2" r="2.8"/>
<circle cx="739.1" cy="597.8" r="2.8"/>
<circle cx="787.1" cy="583.4" r="2.8"/>
<circle cx="749.3" cy="588.6" r="2.8"/>
<circle cx="763.2" cy="594.7" r="2.8"/>
<circle cx="746.8" cy="590.3" r="2.8"/>
<circle cx="771.2" cy="582.1" r="2.8"/>
<circle cx="760.7" cy="596.1" r="2.8"/>
<circle cx="776.5" cy="586.3" r="2.8"/>
<circle cx="761.3" cy="584.4" r="2.8"/>
<circle cx="760.1" cy="605.1" r="2.8"/>
<circle cx="756.6" cy="605.9" r="2.8"/>
<circle cx="733.3" cy="600.3" r="2.8"/>
<circle cx="733.1" cy="598.2" r="2.8"/>
<circle cx="728.8" cy="600.1" r="2.8"/>
<circle cx="773.6" cy="585.4" r="2.8"/>
<circle cx="774.0" cy="591.4" r="2.8"/>
<circle cx="733.5" cy="602.9" r="2.8"/>
<circle cx="709.8" cy="583.6" r="2.8"/>
<circle cx="721.4" cy="594.7" r="2.8"/>
<circle cx="718.7" cy="592.0" r="2.8"/>
<circle cx="722.8" cy="595.4" r="2.8"/>
<circle cx="717.5" cy="590.9" r="2.8"/>
<circle cx="719.5" cy="592.6" r="2.8"/>
<circle cx="717.0" cy="591.6" r="2.8"/>
<circle cx="720.2" cy="592.6" r="2.8"/>
<circle cx="721.4" cy="593.9" r="2.8"/>
<circle cx="714.1" cy="586.4" r="2.8"/>
<circle cx="719.3" cy="593.1" r="2.8"/>
<circle cx="713.7" cy="587.9" r="2.8"/>
<circle cx="750.6" cy="547.9" r="2.8"/>
<circle cx="750.5" cy="542.9" r="2.8"/>
<circle cx="751.5" cy="551.0" r="2.8"/>
<circle cx="747.0" cy="541.6" r="2.8"/>
<circle cx="741.6" cy="536.1" r="2.8"/>
<circle cx="762.3" cy="560.4" r="2.8"/>
<circle cx="743.5" cy="541.3" r="2.8"/>
<circle cx="753.0" cy="544.8" r="2.8"/>
<circle cx="742.0" cy="554.2" r="2.8"/>
<circle cx="745.6" cy="555.2" r="2.8"/>
<circle cx="745.6" cy="544.4" r="2.8"/>
<circle cx="745.2" cy="547.4" r="2.8"/>
<circle cx="753.5" cy="554.0" r="2.8"/>
<circle cx="739.7" cy="543.9" r="2.8"/>
<circle cx="758.6" cy="556.7" r="2.8"/>
<circle cx="743.8" cy="558.5" r="2.8"/>
<circle cx="754.9" cy="551.0" r="2.8"/>
<circle cx="742.9" cy="538.0" r="2.8"/>
<circle cx="742.9" cy="546.5" r="2.8"/>
<circle cx="744.9" cy="549.8" r="2.8"/>
<circle cx="739.4" cy="532.5" r="2.8"/>
<circle cx="759.6" cy="554.6" r="2.8"/>
<circle cx="745.5" cy="540.0" r="2.8"/>
<circle cx="758.2" cy="560.3" r="2.8"/>
<circle cx="750.4" cy="545.3" r="2.8"/>
<circle cx="753.5" cy="558.6" r="2.8"/>
<circle cx="754.4" cy="560.5" r="2.8"/>
<circle cx="738.2" cy="538.3" r="2.8"/>
<circle cx="747.6" cy="543.6" r="2.8"/>
<circle cx="740.9" cy="541.7" r="2.8"/>
<circle cx="738.0" cy="536.1" r="2.8"/>
<circle cx="741.8" cy="551.2" r="2.8"/>
<circle cx="751.5" cy="560.8" r="2.8"/>
<circle cx="742.4" cy="532.3" r="2.8"/>
<circle cx="751.2" cy="553.6" r="2.8"/>
<circle cx="746.4" cy="552.3" r="2.8"/>
<circle cx="748.4" cy="548.4" r="2.8"/>
<circle cx="761.5" cy="558.5" r="2.8"/>
<circle cx="743.5" cy="543.4" r="2.8"/>
<circle cx="756.3" cy="557.8" r="2.8"/>
<circle cx="757.1" cy="553.9" r="2.8"/>
<circle cx="749.8" cy="559.1" r="2.8"/>
<circle cx="751.9" cy="572.4" r="2.8"/>
<circle cx="749.3" cy="567.1" r="2.8"/>
<circle cx="752.8" cy="573.9" r="2.8"/>
<circle cx="754.1" cy="574.1" r="2.8"/>
<circle cx="748.1" cy="566.8" r="2.8"/>
<circle cx="753.4" cy="573.6" r="2.8"/>
<circle cx="750.5" cy="568.6" r="2.8"/>
<circle cx="750.1" cy="571.5" r="2.8"/>
<circle cx="756.5" cy="576.4" r="2.8"/>
<circle cx="754.4" cy="573.9" r="2.8"/>
<circle cx="749.8" cy="569.1" r="2.8"/>
<circle cx="755.2" cy="575.1" r="2.8"/>
<circle cx="726.0" cy="587.3" r="2.8"/>
<circle cx="720.0" cy="530.0" r="2.8"/>
<circle cx="723.6" cy="535.3" r="2.8"/>
<circle cx="733.3" cy="537.3" r="2.8"/>
<circle cx="732.3" cy="555.3" r="2.8"/>
<circle cx="735.3" cy="560.0" r="2.8"/>
<circle cx="734.0" cy="562.7" r="2.8"/>
<circle cx="737.3" cy="566.7" r="2.8"/>
<circle cx="762.7" cy="568.0" r="2.8"/>
<circle cx="761.1" cy="572.0" r="2.8"/>
<circle cx="776.0" cy="570.9" r="2.8"/>
<circle cx="786.7" cy="565.3" r="2.8"/>
<circle cx="787.3" cy="567.3" r="2.8"/>
<circle cx="786.0" cy="570.7" r="2.8"/>
<circle cx="785.3" cy="568.7" r="2.8"/>
<circle cx="742.0" cy="607.3" r="2.8"/>
<circle cx="911.0" cy="542.2" r="2.8"/>
<circle cx="897.5" cy="587.5" r="2.8"/>
<circle cx="906.6" cy="548.9" r="2.8"/>
<circle cx="905.7" cy="551.0" r="2.8"/>
<circle cx="904.9" cy="553.2" r="2.8"/>
<circle cx="904.1" cy="555.3" r="2.8"/>
<circle cx="902.6" cy="557.0" r="2.8"/>
<circle cx="901.4" cy="558.9" r="2.8"/>
<circle cx="900.3" cy="560.9" r="2.8"/>
<circle cx="899.2" cy="562.9" r="2.8"/>
<circle cx="898.0" cy="564.8" r="2.8"/>
<circle cx="897.3" cy="566.9" r="2.8"/>
<circle cx="896.6" cy="569.1" r="2.8"/>
<circle cx="896.3" cy="571.3" r="2.8"/>
<circle cx="896.0" cy="573.6" r="2.8"/>
<circle cx="895.6" cy="575.8" r="2.8"/>
<circle cx="895.1" cy="578.0" r="2.8"/>
<circle cx="979.7" cy="781.1" r="2.8"/>
<circle cx="991.3" cy="725.7" r="2.8"/>
<circle cx="934.0" cy="748.7" r="2.8"/>
<circle cx="1017.6" cy="736.7" r="2.8"/>
<circle cx="926.8" cy="736.4" r="2.8"/>
<circle cx="948.9" cy="721.2" r="2.8"/>
<circle cx="1014.0" cy="721.2" r="2.8"/>
<circle cx="926.5" cy="749.2" r="2.8"/>
<circle cx="923.3" cy="756.2" r="2.8"/>
<circle cx="938.7" cy="717.5" r="2.8"/>
<circle cx="1023.4" cy="765.5" r="2.8"/>
<circle cx="922.3" cy="784.7" r="2.8"/>
<circle cx="995.1" cy="740.9" r="2.8"/>
<circle cx="1001.0" cy="724.6" r="2.8"/>
<circle cx="1006.1" cy="754.0" r="2.8"/>
<circle cx="1017.7" cy="760.8" r="2.8"/>
<circle cx="1020.1" cy="718.4" r="2.8"/>
<circle cx="990.9" cy="718.9" r="2.8"/>
<circle cx="929.1" cy="747.6" r="2.8"/>
<circle cx="927.9" cy="756.5" r="2.8"/>
<circle cx="1005.7" cy="743.4" r="2.8"/>
<circle cx="1003.4" cy="726.4" r="2.8"/>
<circle cx="975.0" cy="718.1" r="2.8"/>
<circle cx="978.8" cy="735.6" r="2.8"/>
<circle cx="999.8" cy="722.5" r="2.8"/>
<circle cx="1005.3" cy="721.0" r="2.8"/>
<circle cx="916.7" cy="755.1" r="2.8"/>
<circle cx="1024.0" cy="743.0" r="2.8"/>
<circle cx="1018.1" cy="744.5" r="2.8"/>
<circle cx="986.7" cy="761.8" r="2.8"/>
<circle cx="923.4" cy="722.0" r="2.8"/>
<circle cx="953.1" cy="721.1" r="2.8"/>
<circle cx="959.4" cy="737.7" r="2.8"/>
<circle cx="973.7" cy="769.0" r="2.8"/>
<circle cx="968.0" cy="760.1" r="2.8"/>
<circle cx="955.2" cy="773.1" r="2.8"/>
<circle cx="932.5" cy="720.5" r="2.8"/>
<circle cx="1036.0" cy="738.8" r="2.8"/>
<circle cx="963.9" cy="772.0" r="2.8"/>
<circle cx="959.4" cy="749.0" r="2.8"/>
<circle cx="1028.8" cy="732.4" r="2.8"/>
<circle cx="985.4" cy="722.3" r="2.8"/>
<circle cx="978.0" cy="727.7" r="2.8"/>
<circle cx="981.2" cy="737.3" r="2.8"/>
<circle cx="955.2" cy="738.0" r="2.8"/>
<circle cx="964.3" cy="769.9" r="2.8"/>
<circle cx="1010.9" cy="722.3" r="2.8"/>
<circle cx="952.7" cy="741.7" r="2.8"/>
<circle cx="989.8" cy="731.1" r="2.8"/>
<circle cx="917.7" cy="760.8" r="2.8"/>
<circle cx="935.3" cy="717.4" r="2.8"/>
<circle cx="964.3" cy="750.5" r="2.8"/>
<circle cx="998.9" cy="703.6" r="2.8"/>
<circle cx="929.7" cy="750.2" r="2.8"/>
<circle cx="980.5" cy="711.9" r="2.8"/>
<circle cx="967.0" cy="713.7" r="2.8"/>
<circle cx="1007.7" cy="769.5" r="2.8"/>
<circle cx="975.8" cy="729.5" r="2.8"/>
<circle cx="1001.5" cy="727.1" r="2.8"/>
<circle cx="940.1" cy="773.2" r="2.8"/>
<circle cx="1019.5" cy="732.5" r="2.8"/>
<circle cx="1025.8" cy="722.8" r="2.8"/>
<circle cx="916.7" cy="731.9" r="2.8"/>
<circle cx="923.2" cy="776.8" r="2.8"/>
<circle cx="964.7" cy="747.8" r="2.8"/>
<circle cx="927.5" cy="782.5" r="2.8"/>
<circle cx="945.2" cy="745.5" r="2.8"/>
<circle cx="947.1" cy="770.3" r="2.8"/>
<circle cx="919.4" cy="758.6" r="2.8"/>
<circle cx="912.5" cy="772.2" r="2.8"/>
<circle cx="983.3" cy="752.6" r="2.8"/>
<circle cx="1002.3" cy="749.6" r="2.8"/>
<circle cx="909.6" cy="731.9" r="2.8"/>
<circle cx="965.2" cy="759.4" r="2.8"/>
<circle cx="940.6" cy="726.6" r="2.8"/>
<circle cx="977.7" cy="764.9" r="2.8"/>
<circle cx="1022.0" cy="734.7" r="2.8"/>
<circle cx="992.1" cy="766.6" r="2.8"/>
<circle cx="958.3" cy="707.9" r="2.8"/>
<circle cx="989.9" cy="722.6" r="2.8"/>
<circle cx="926.2" cy="768.0" r="2.8"/>
<circle cx="1031.7" cy="723.7" r="2.8"/>
<circle cx="961.3" cy="784.2" r="2.8"/>
<circle cx="1016.9" cy="754.6" r="2.8"/>
<circle cx="985.4" cy="749.8" r="2.8"/>
<circle cx="938.5" cy="764.3" r="2.8"/>
<circle cx="956.3" cy="705.9" r="2.8"/>
<circle cx="980.7" cy="766.5" r="2.8"/>
<circle cx="941.2" cy="737.0" r="2.8"/>
<circle cx="1000.0" cy="740.8" r="2.8"/>
<circle cx="1002.7" cy="720.2" r="2.8"/>
<circle cx="951.6" cy="729.0" r="2.8"/>
<circle cx="974.6" cy="760.8" r="2.8"/>
<circle cx="990.3" cy="743.3" r="2.8"/>
<circle cx="997.1" cy="705.6" r="2.8"/>
<circle cx="955.4" cy="711.8" r="2.8"/>
<circle cx="1026.5" cy="753.8" r="2.8"/>
<circle cx="1023.7" cy="725.0" r="2.8"/>
<circle cx="972.3" cy="723.4" r="2.8"/>
<circle cx="988.0" cy="744.9" r="2.8"/>
<circle cx="976.6" cy="750.3" r="2.8"/>
<circle cx="1009.0" cy="734.8" r="2.8"/>
<circle cx="978.2" cy="748.4" r="2.8"/>
<circle cx="1009.8" cy="740.3" r="2.8"/>
<circle cx="1009.6" cy="732.7" r="2.8"/>
<circle cx="1013.6" cy="741.6" r="2.8"/>
<circle cx="1004.8" cy="716.4" r="2.8"/>
<circle cx="985.8" cy="736.9" r="2.8"/>
<circle cx="931.5" cy="722.8" r="2.8"/>
<circle cx="980.0" cy="725.7" r="2.8"/>
<circle cx="1037.0" cy="732.8" r="2.8"/>
<circle cx="992.1" cy="741.2" r="2.8"/>
<circle cx="948.9" cy="775.3" r="2.8"/>
<circle cx="977.6" cy="782.3" r="2.8"/>
<circle cx="944.1" cy="726.1" r="2.8"/>
<circle cx="922.5" cy="729.5" r="2.8"/>
<circle cx="1000.5" cy="761.5" r="2.8"/>
<circle cx="983.7" cy="755.7" r="2.8"/>
<circle cx="926.9" cy="741.4" r="2.8"/>
<circle cx="940.6" cy="744.4" r="2.8"/>
<circle cx="980.3" cy="741.8" r="2.8"/>
<circle cx="963.6" cy="723.0" r="2.8"/>
<circle cx="987.4" cy="756.5" r="2.8"/>
<circle cx="972.5" cy="697.4" r="2.8"/>
<circle cx="989.6" cy="713.3" r="2.8"/>
<circle cx="935.3" cy="777.8" r="2.8"/>
<circle cx="973.7" cy="708.4" r="2.8"/>
<circle cx="922.6" cy="746.5" r="2.8"/>
<circle cx="1022.4" cy="754.2" r="2.8"/>
<circle cx="915.5" cy="764.3" r="2.8"/>
<circle cx="980.9" cy="744.0" r="2.8"/>
<circle cx="1001.9" cy="742.2" r="2.8"/>
<circle cx="1010.1" cy="771.4" r="2.8"/>
<circle cx="927.5" cy="727.9" r="2.8"/>
<circle cx="998.7" cy="711.5" r="2.8"/>
<circle cx="952.5" cy="708.3" r="2.8"/>
<circle cx="981.4" cy="721.5" r="2.8"/>
<circle cx="916.1" cy="783.2" r="2.8"/>
<circle cx="937.4" cy="755.8" r="2.8"/>
<circle cx="950.3" cy="784.3" r="2.8"/>
<circle cx="980.8" cy="752.8" r="2.8"/>
<circle cx="1004.1" cy="764.4" r="2.8"/>
<circle cx="987.9" cy="738.9" r="2.8"/>
<circle cx="930.0" cy="742.0" r="2.8"/>
<circle cx="981.3" cy="717.6" r="2.8"/>
<circle cx="1010.4" cy="762.1" r="2.8"/>
<circle cx="923.3" cy="759.7" r="2.8"/>
<circle cx="926.4" cy="775.5" r="2.8"/>
<circle cx="1020.2" cy="739.9" r="2.8"/>
<circle cx="1009.8" cy="716.9" r="2.8"/>
<circle cx="1026.0" cy="728.1" r="2.8"/>
<circle cx="1008.6" cy="775.1" r="2.8"/>
<circle cx="917.9" cy="786.6" r="2.8"/>
<circle cx="958.5" cy="752.1" r="2.8"/>
<circle cx="1028.1" cy="741.4" r="2.8"/>
<circle cx="964.4" cy="756.7" r="2.8"/>
<circle cx="936.2" cy="749.6" r="2.8"/>
<circle cx="940.5" cy="759.2" r="2.8"/>
<circle cx="956.2" cy="768.7" r="2.8"/>
<circle cx="922.1" cy="735.3" r="2.8"/>
<circle cx="993.5" cy="758.4" r="2.8"/>
<circle cx="1017.6" cy="720.6" r="2.8"/>
<circle cx="962.9" cy="738.2" r="2.8"/>
<circle cx="1031.4" cy="734.1" r="2.8"/>
<circle cx="947.6" cy="757.2" r="2.8"/>
<circle cx="971.4" cy="732.7" r="2.8"/>
<circle cx="995.3" cy="696.1" r="2.8"/>
<circle cx="921.8" cy="751.9" r="2.8"/>
<circle cx="957.8" cy="745.6" r="2.8"/>
<circle cx="983.2" cy="749.2" r="2.8"/>
<circle cx="1029.5" cy="749.2" r="2.8"/>
<circle cx="1022.5" cy="722.3" r="2.8"/>
<circle cx="915.0" cy="744.7" r="2.8"/>
<circle cx="997.9" cy="724.4" r="2.8"/>
<circle cx="943.0" cy="710.0" r="2.8"/>
<circle cx="935.0" cy="767.4" r="2.8"/>
<circle cx="969.6" cy="751.6" r="2.8"/>
<circle cx="933.2" cy="771.0" r="2.8"/>
<circle cx="997.2" cy="752.0" r="2.8"/>
<circle cx="913.1" cy="734.6" r="2.8"/>
<circle cx="945.8" cy="777.5" r="2.8"/>
<circle cx="1002.7" cy="709.2" r="2.8"/>
<circle cx="1040.5" cy="741.0" r="2.8"/>
<circle cx="996.9" cy="714.0" r="2.8"/>
<circle cx="986.5" cy="726.4" r="2.8"/>
<circle cx="946.4" cy="741.8" r="2.8"/>
<circle cx="964.3" cy="719.2" r="2.8"/>
<circle cx="944.0" cy="774.8" r="2.8"/>
<circle cx="942.8" cy="757.7" r="2.8"/>
<circle cx="982.4" cy="742.7" r="2.8"/>
<circle cx="949.8" cy="706.9" r="2.8"/>
<circle cx="966.5" cy="736.6" r="2.8"/>
<circle cx="1012.6" cy="753.7" r="2.8"/>
<circle cx="1001.9" cy="768.4" r="2.8"/>
<circle cx="929.5" cy="774.0" r="2.8"/>
<circle cx="996.2" cy="755.0" r="2.8"/>
<circle cx="989.7" cy="767.1" r="2.8"/>
<circle cx="923.0" cy="772.6" r="2.8"/>
<circle cx="916.9" cy="743.5" r="2.8"/>
<circle cx="971.4" cy="703.4" r="2.8"/>
<circle cx="1004.3" cy="705.9" r="2.8"/>
<circle cx="1019.2" cy="742.4" r="2.8"/>
<circle cx="1013.5" cy="726.3" r="2.8"/>
<circle cx="997.1" cy="731.9" r="2.8"/>
<circle cx="945.4" cy="779.7" r="2.8"/>
<circle cx="977.5" cy="778.2" r="2.8"/>
<circle cx="951.7" cy="724.4" r="2.8"/>
<circle cx="953.1" cy="777.3" r="2.8"/>
<circle cx="935.8" cy="773.9" r="2.8"/>
<circle cx="1021.6" cy="730.3" r="2.8"/>
<circle cx="1003.3" cy="718.2" r="2.8"/>
<circle cx="1001.1" cy="705.9" r="2.8"/>
<circle cx="932.7" cy="715.7" r="2.8"/>
<circle cx="1009.6" cy="758.6" r="2.8"/>
<circle cx="999.7" cy="756.9" r="2.8"/>
<circle cx="994.8" cy="735.8" r="2.8"/>
<circle cx="982.1" cy="779.4" r="2.8"/>
<circle cx="987.2" cy="707.5" r="2.8"/>
<circle cx="1017.1" cy="724.9" r="2.8"/>
<circle cx="940.7" cy="720.4" r="2.8"/>
<circle cx="1009.7" cy="720.6" r="2.8"/>
<circle cx="1022.0" cy="758.8" r="2.8"/>
<circle cx="984.3" cy="734.2" r="2.8"/>
<circle cx="990.9" cy="715.0" r="2.8"/>
<circle cx="1040.5" cy="738.2" r="2.8"/>
<circle cx="983.5" cy="723.2" r="2.8"/>
<circle cx="918.8" cy="782.5" r="2.8"/>
<circle cx="957.6" cy="710.2" r="2.8"/>
<circle cx="911.0" cy="746.5" r="2.8"/>
<circle cx="982.7" cy="768.6" r="2.8"/>
<circle cx="968.6" cy="724.9" r="2.8"/>
<circle cx="986.2" cy="763.7" r="2.8"/>
<circle cx="973.1" cy="779.2" r="2.8"/>
<circle cx="955.4" cy="725.1" r="2.8"/>
<circle cx="995.4" cy="770.3" r="2.8"/>
<circle cx="992.6" cy="721.4" r="2.8"/>
<circle cx="997.9" cy="716.0" r="2.8"/>
<circle cx="938.3" cy="775.8" r="2.8"/>
<circle cx="967.8" cy="722.6" r="2.8"/>
<circle cx="931.9" cy="725.2" r="2.8"/>
<circle cx="948.9" cy="729.4" r="2.8"/>
<circle cx="1005.9" cy="710.2" r="2.8"/>
<circle cx="1014.8" cy="762.4" r="2.8"/>
<circle cx="1007.0" cy="740.5" r="2.8"/>
<circle cx="958.0" cy="780.7" r="2.8"/>
<circle cx="988.7" cy="775.0" r="2.8"/>
<circle cx="987.1" cy="700.8" r="2.8"/>
<circle cx="919.7" cy="763.5" r="2.8"/>
<circle cx="992.4" cy="753.7" r="2.8"/>
<circle cx="974.2" cy="739.6" r="2.8"/>
<circle cx="942.9" cy="780.9" r="2.8"/>
<circle cx="961.3" cy="751.9" r="2.8"/>
<circle cx="945.2" cy="757.2" r="2.8"/>
<circle cx="959.7" cy="762.9" r="2.8"/>
<circle cx="922.8" cy="774.6" r="2.8"/>
<circle cx="937.4" cy="715.4" r="2.8"/>
<circle cx="1007.6" cy="720.4" r="2.8"/>
<circle cx="995.5" cy="716.9" r="2.8"/>
<circle cx="940.4" cy="780.7" r="2.8"/>
<circle cx="972.1" cy="715.7" r="2.8"/>
<circle cx="954.7" cy="766.5" r="2.8"/>
<circle cx="940.8" cy="716.4" r="2.8"/>
<circle cx="934.2" cy="739.7" r="2.8"/>
<circle cx="962.3" cy="729.4" r="2.8"/>
<circle cx="1017.6" cy="751.8" r="2.8"/>
<circle cx="948.7" cy="781.1" r="2.8"/>
<circle cx="930.8" cy="718.9" r="2.8"/>
<circle cx="990.9" cy="746.6" r="2.8"/>
<circle cx="1024.1" cy="747.6" r="2.8"/>
<circle cx="979.8" cy="776.6" r="2.8"/>
<circle cx="912.7" cy="750.2" r="2.8"/>
<circle cx="968.2" cy="711.8" r="2.8"/>
<circle cx="1024.6" cy="721.1" r="2.8"/>
<circle cx="940.0" cy="778.3" r="2.8"/>
<circle cx="939.8" cy="751.5" r="2.8"/>
<circle cx="944.0" cy="750.4" r="2.8"/>
<circle cx="951.4" cy="736.0" r="2.8"/>
<circle cx="945.2" cy="728.5" r="2.8"/>
<circle cx="969.7" cy="772.3" r="2.8"/>
<circle cx="975.4" cy="735.2" r="2.8"/>
<circle cx="1028.6" cy="739.1" r="2.8"/>
<circle cx="994.6" cy="724.1" r="2.8"/>
<circle cx="983.6" cy="720.7" r="2.8"/>
<circle cx="1002.7" cy="771.1" r="2.8"/>
<circle cx="983.2" cy="712.0" r="2.8"/>
<circle cx="1014.9" cy="736.4" r="2.8"/>
<circle cx="1009.6" cy="752.3" r="2.8"/>
<circle cx="986.3" cy="714.7" r="2.8"/>
<circle cx="924.5" cy="754.1" r="2.8"/>
<circle cx="930.5" cy="733.0" r="2.8"/>
<circle cx="1031.5" cy="740.2" r="2.8"/>
<circle cx="911.4" cy="764.6" r="2.8"/>
<circle cx="955.6" cy="744.3" r="2.8"/>
<circle cx="913.1" cy="760.1" r="2.8"/>
<circle cx="945.9" cy="724.0" r="2.8"/>
<circle cx="1007.2" cy="716.1" r="2.8"/>
<circle cx="991.9" cy="700.8" r="2.8"/>
<circle cx="968.3" cy="758.0" r="2.8"/>
<circle cx="1026.1" cy="744.3" r="2.8"/>
<circle cx="1015.6" cy="765.7" r="2.8"/>
<circle cx="961.9" cy="747.1" r="2.8"/>
<circle cx="1029.0" cy="752.5" r="2.8"/>
<circle cx="1038.2" cy="736.4" r="2.8"/>
<circle cx="992.1" cy="710.7" r="2.8"/>
<circle cx="937.8" cy="743.2" r="2.8"/>
<circle cx="1024.8" cy="718.4" r="2.8"/>
<circle cx="952.9" cy="718.9" r="2.8"/>
<circle cx="993.3" cy="702.2" r="2.8"/>
<circle cx="934.2" cy="754.0" r="2.8"/>
<circle cx="1018.3" cy="765.8" r="2.8"/>
<circle cx="979.1" cy="718.6" r="2.8"/>
<circle cx="919.6" cy="748.1" r="2.8"/>
<circle cx="979.0" cy="715.5" r="2.8"/>
<circle cx="968.0" cy="767.1" r="2.8"/>
<circle cx="1011.6" cy="708.3" r="2.8"/>
<circle cx="946.2" cy="710.5" r="2.8"/>
<circle cx="909.7" cy="741.3" r="2.8"/>
<circle cx="914.7" cy="761.7" r="2.8"/>
<circle cx="973.7" cy="746.8" r="2.8"/>
<circle cx="1028.9" cy="723.4" r="2.8"/>
<circle cx="962.0" cy="768.5" r="2.8"/>
<circle cx="941.9" cy="724.2" r="2.8"/>
<circle cx="925.0" cy="782.9" r="2.8"/>
<circle cx="926.7" cy="786.6" r="2.8"/>
<circle cx="972.0" cy="740.9" r="2.8"/>
<circle cx="1001.2" cy="712.8" r="2.8"/>
<circle cx="1021.8" cy="726.0" r="2.8"/>
<circle cx="936.7" cy="737.2" r="2.8"/>
<circle cx="981.0" cy="709.8" r="2.8"/>
<circle cx="1008.2" cy="738.9" r="2.8"/>
<circle cx="992.7" cy="735.7" r="2.8"/>
<circle cx="946.3" cy="716.8" r="2.8"/>
<circle cx="942.9" cy="734.4" r="2.8"/>
<circle cx="1020.6" cy="763.3" r="2.8"/>
<circle cx="1011.8" cy="765.2" r="2.8"/>
<circle cx="950.0" cy="715.9" r="2.8"/>
<circle cx="978.0" cy="755.1" r="2.8"/>
<circle cx="930.8" cy="771.8" r="2.8"/>
<circle cx="988.0" cy="698.3" r="2.8"/>
<circle cx="1036.0" cy="748.2" r="2.8"/>
<circle cx="1008.6" cy="708.2" r="2.8"/>
<circle cx="1001.5" cy="730.0" r="2.8"/>
<circle cx="978.6" cy="745.2" r="2.8"/>
<circle cx="958.5" cy="721.4" r="2.8"/>
<circle cx="966.6" cy="756.3" r="2.8"/>
<circle cx="1034.6" cy="729.7" r="2.8"/>
<circle cx="968.7" cy="728.9" r="2.8"/>
<circle cx="959.8" cy="779.1" r="2.8"/>
<circle cx="1007.5" cy="777.4" r="2.8"/>
<circle cx="974.8" cy="743.5" r="2.8"/>
<circle cx="978.9" cy="740.2" r="2.8"/>
<circle cx="971.7" cy="706.9" r="2.8"/>
<circle cx="946.4" cy="760.1" r="2.8"/>
<circle cx="936.4" cy="747.3" r="2.8"/>
<circle cx="987.6" cy="777.7" r="2.8"/>
<circle cx="975.6" cy="698.3" r="2.8"/>
<circle cx="950.2" cy="755.8" r="2.8"/>
<circle cx="981.7" cy="784.5" r="2.8"/>
<circle cx="1033.1" cy="738.5" r="2.8"/>
<circle cx="984.9" cy="747.6" r="2.8"/>
<circle cx="987.7" cy="771.8" r="2.8"/>
<circle cx="984.7" cy="780.2" r="2.8"/>
<circle cx="944.0" cy="754.8" r="2.8"/>
<circle cx="996.0" cy="747.2" r="2.8"/>
<circle cx="992.3" cy="728.5" r="2.8"/>
<circle cx="997.4" cy="720.9" r="2.8"/>
<circle cx="945.7" cy="733.3" r="2.8"/>
<circle cx="969.7" cy="720.1" r="2.8"/>
<circle cx="965.5" cy="762.3" r="2.8"/>
<circle cx="999.9" cy="750.2" r="2.8"/>
<circle cx="941.3" cy="748.0" r="2.8"/>
<circle cx="942.2" cy="741.7" r="2.8"/>
<circle cx="925.4" cy="722.2" r="2.8"/>
<circle cx="963.1" cy="726.0" r="2.8"/>
<circle cx="990.2" cy="752.1" r="2.8"/>
<circle cx="961.1" cy="756.0" r="2.8"/>
<circle cx="979.1" cy="730.7" r="2.8"/>
<circle cx="1027.5" cy="746.2" r="2.8"/>
<circle cx="954.2" cy="735.6" r="2.8"/>
<circle cx="940.9" cy="769.6" r="2.8"/>
<circle cx="928.3" cy="752.5" r="2.8"/>
<circle cx="1043.9" cy="741.3" r="2.8"/>
<circle cx="1029.1" cy="755.7" r="2.8"/>
<circle cx="954.1" cy="757.6" r="2.8"/>
<circle cx="986.0" cy="744.1" r="2.8"/>
<circle cx="947.8" cy="751.8" r="2.8"/>
<circle cx="971.3" cy="747.2" r="2.8"/>
<circle cx="948.4" cy="724.6" r="2.8"/>
<circle cx="957.8" cy="777.7" r="2.8"/>
<circle cx="985.1" cy="713.1" r="2.8"/>
<circle cx="968.0" cy="708.3" r="2.8"/>
<circle cx="966.1" cy="745.4" r="2.8"/>
<circle cx="1001.0" cy="746.0" r="2.8"/>
<circle cx="1025.5" cy="737.7" r="2.8"/>
<circle cx="941.9" cy="767.3" r="2.8"/>
<circle cx="911.2" cy="768.2" r="2.8"/>
<circle cx="967.5" cy="719.1" r="2.8"/>
<circle cx="980.6" cy="774.3" r="2.8"/>
<circle cx="1006.0" cy="747.5" r="2.8"/>
<circle cx="1012.1" cy="767.3" r="2.8"/>
<circle cx="963.2" cy="778.6" r="2.8"/>
<circle cx="1030.9" cy="746.5" r="2.8"/>
<circle cx="925.1" cy="773.1" r="2.8"/>
<circle cx="983.3" cy="775.1" r="2.8"/>
<circle cx="985.5" cy="730.8" r="2.8"/>
<circle cx="975.5" cy="758.7" r="2.8"/>
<circle cx="942.4" cy="721.7" r="2.8"/>
<circle cx="993.0" cy="713.7" r="2.8"/>
<circle cx="936.8" cy="724.1" r="2.8"/>
<circle cx="986.3" cy="774.3" r="2.8"/>
<circle cx="987.0" cy="748.0" r="2.8"/>
<circle cx="966.9" cy="705.9" r="2.8"/>
<circle cx="1015.1" cy="715.9" r="2.8"/>
<circle cx="950.0" cy="740.7" r="2.8"/>
<circle cx="1001.8" cy="759.6" r="2.8"/>
<circle cx="1025.6" cy="755.6" r="2.8"/>
<circle cx="951.7" cy="770.0" r="2.8"/>
<circle cx="977.1" cy="742.6" r="2.8"/>
<circle cx="1017.0" cy="757.9" r="2.8"/>
<circle cx="992.1" cy="760.5" r="2.8"/>
<circle cx="1010.0" cy="725.8" r="2.8"/>
<circle cx="1025.4" cy="759.8" r="2.8"/>
<circle cx="1035.1" cy="735.7" r="2.8"/>
<circle cx="974.7" cy="703.1" r="2.8"/>
<circle cx="973.2" cy="730.4" r="2.8"/>
<circle cx="958.6" cy="727.6" r="2.8"/>
<circle cx="958.2" cy="733.6" r="2.8"/>
<circle cx="956.7" cy="758.6" r="2.8"/>
<circle cx="949.8" cy="742.9" r="2.8"/>
<circle cx="1012.4" cy="715.9" r="2.8"/>
<circle cx="987.2" cy="732.2" r="2.8"/>
<circle cx="971.3" cy="764.1" r="2.8"/>
<circle cx="982.8" cy="761.1" r="2.8"/>
<circle cx="962.9" cy="715.5" r="2.8"/>
<circle cx="991.3" cy="770.3" r="2.8"/>
<circle cx="920.4" cy="727.3" r="2.8"/>
<circle cx="962.4" cy="775.8" r="2.8"/>
<circle cx="986.2" cy="752.9" r="2.8"/>
<circle cx="937.4" cy="721.7" r="2.8"/>
<circle cx="995.8" cy="710.9" r="2.8"/>
<circle cx="962.2" cy="701.7" r="2.8"/>
<circle cx="997.8" cy="734.0" r="2.8"/>
<circle cx="920.3" cy="733.5" r="2.8"/>
<circle cx="956.8" cy="723.4" r="2.8"/>
<circle cx="919.5" cy="745.4" r="2.8"/>
<circle cx="979.3" cy="707.3" r="2.8"/>
<circle cx="966.2" cy="729.3" r="2.8"/>
<circle cx="931.8" cy="746.7" r="2.8"/>
<circle cx="968.7" cy="735.2" r="2.8"/>
<circle cx="973.5" cy="712.0" r="2.8"/>
<circle cx="989.7" cy="737.8" r="2.8"/>
<circle cx="983.6" cy="694.3" r="2.8"/>
<circle cx="921.1" cy="761.6" r="2.8"/>
<circle cx="993.4" cy="731.2" r="2.8"/>
<circle cx="938.4" cy="769.6" r="2.8"/>
<circle cx="923.9" cy="736.6" r="2.8"/>
<circle cx="1037.5" cy="730.2" r="2.8"/>
<circle cx="1028.6" cy="736.6" r="2.8"/>
<circle cx="932.4" cy="737.3" r="2.8"/>
<circle cx="969.0" cy="739.5" r="2.8"/>
<circle cx="1033.0" cy="735.9" r="2.8"/>
<circle cx="949.3" cy="765.3" r="2.8"/>
<circle cx="952.5" cy="751.5" r="2.8"/>
<circle cx="930.8" cy="779.7" r="2.8"/>
<circle cx="934.0" cy="730.2" r="2.8"/>
<circle cx="982.0" cy="715.0" r="2.8"/>
<circle cx="913.4" cy="731.7" r="2.8"/>
<circle cx="1011.2" cy="747.5" r="2.8"/>
<circle cx="955.5" cy="714.1" r="2.8"/>
<circle cx="951.0" cy="748.9" r="2.8"/>
<circle cx="970.3" cy="700.0" r="2.8"/>
<circle cx="1001.7" cy="736.9" r="2.8"/>
<circle cx="1013.5" cy="718.0" r="2.8"/>
<circle cx="985.4" cy="760.0" r="2.8"/>
<circle cx="977.2" cy="771.0" r="2.8"/>
<circle cx="968.7" cy="741.5" r="2.8"/>
<circle cx="929.1" cy="776.0" r="2.8"/>
<circle cx="935.6" cy="752.3" r="2.8"/>
<circle cx="946.9" cy="722.3" r="2.8"/>
<circle cx="997.2" cy="776.3" r="2.8"/>
<circle cx="994.4" cy="768.6" r="2.8"/>
<circle cx="947.9" cy="777.5" r="2.8"/>
<circle cx="976.2" cy="720.2" r="2.8"/>
<circle cx="946.4" cy="785.2" r="2.8"/>
<circle cx="936.2" cy="719.5" r="2.8"/>
<circle cx="1016.1" cy="728.7" r="2.8"/>
<circle cx="948.0" cy="773.1" r="2.8"/>
<circle cx="968.3" cy="744.6" r="2.8"/>
<circle cx="1001.4" cy="734.0" r="2.8"/>
<circle cx="957.1" cy="756.1" r="2.8"/>
<circle cx="914.7" cy="780.2" r="2.8"/>
<circle cx="938.7" cy="757.5" r="2.8"/>
<circle cx="947.0" cy="714.0" r="2.8"/>
<circle cx="957.6" cy="774.5" r="2.8"/>
<circle cx="1006.3" cy="737.6" r="2.8"/>
<circle cx="953.2" cy="755.0" r="2.8"/>
<circle cx="916.8" cy="740.8" r="2.8"/>
<circle cx="1001.7" cy="756.4" r="2.8"/>
<circle cx="1030.8" cy="737.4" r="2.8"/>
<circle cx="965.4" cy="766.3" r="2.8"/>
<circle cx="982.2" cy="764.2" r="2.8"/>
<circle cx="961.1" cy="704.1" r="2.8"/>
<circle cx="976.9" cy="713.9" r="2.8"/>
<circle cx="962.3" cy="754.1" r="2.8"/>
<circle cx="967.3" cy="772.3" r="2.8"/>
<circle cx="1017.2" cy="748.5" r="2.8"/>
<circle cx="1009.3" cy="744.7" r="2.8"/>
<circle cx="1007.3" cy="766.0" r="2.8"/>
<circle cx="934.7" cy="742.1" r="2.8"/>
<circle cx="1022.0" cy="748.9" r="2.8"/>
<circle cx="914.4" cy="770.3" r="2.8"/>
<circle cx="984.9" cy="705.3" r="2.8"/>
<circle cx="1020.1" cy="737.8" r="2.8"/>
<circle cx="973.6" cy="706.1" r="2.8"/>
<circle cx="999.9" cy="764.2" r="2.8"/>
<circle cx="972.7" cy="757.1" r="2.8"/>
<circle cx="997.8" cy="757.9" r="2.8"/>
<circle cx="1037.6" cy="740.1" r="2.8"/>
<circle cx="1034.4" cy="756.0" r="2.8"/>
<circle cx="1019.6" cy="768.5" r="2.8"/>
<circle cx="982.3" cy="701.4" r="2.8"/>
<circle cx="965.2" cy="716.5" r="2.8"/>
<circle cx="948.3" cy="731.4" r="2.8"/>
<circle cx="965.6" cy="712.0" r="2.8"/>
<circle cx="940.8" cy="762.6" r="2.8"/>
<circle cx="927.4" cy="778.6" r="2.8"/>
<circle cx="989.6" cy="761.7" r="2.8"/>
<circle cx="1004.5" cy="773.2" r="2.8"/>
<circle cx="955.0" cy="747.5" r="2.8"/>
<circle cx="967.6" cy="716.7" r="2.8"/>
<circle cx="941.1" cy="730.9" r="2.8"/>
<circle cx="998.4" cy="760.4" r="2.8"/>
<circle cx="999.4" cy="730.9" r="2.8"/>
<circle cx="978.4" cy="723.7" r="2.8"/>
<circle cx="929.9" cy="763.1" r="2.8"/>
<circle cx="1012.7" cy="760.5" r="2.8"/>
<circle cx="987.8" cy="710.0" r="2.8"/>
<circle cx="961.3" cy="734.7" r="2.8"/>
<circle cx="971.9" cy="726.1" r="2.8"/>
<circle cx="1007.5" cy="725.6" r="2.8"/>
<circle cx="940.5" cy="775.2" r="2.8"/>
<circle cx="966.2" cy="734.3" r="2.8"/>
<circle cx="922.9" cy="742.9" r="2.8"/>
<circle cx="974.0" cy="765.8" r="2.8"/>
<circle cx="1020.3" cy="755.2" r="2.8"/>
<circle cx="931.6" cy="769.6" r="2.8"/>
<circle cx="999.1" cy="774.0" r="2.8"/>
<circle cx="993.4" cy="716.7" r="2.8"/>
<circle cx="993.5" cy="743.8" r="2.8"/>
<circle cx="941.3" cy="754.7" r="2.8"/>
<circle cx="1013.4" cy="723.8" r="2.8"/>
<circle cx="951.2" cy="761.4" r="2.8"/>
<circle cx="1026.1" cy="757.7" r="2.8"/>
<circle cx="959.2" cy="717.9" r="2.8"/>
<circle cx="956.1" cy="750.7" r="2.8"/>
<circle cx="917.8" cy="779.6" r="2.8"/>
<circle cx="1015.9" cy="746.5" r="2.8"/>
<circle cx="966.0" cy="709.6" r="2.8"/>
<circle cx="986.6" cy="742.2" r="2.8"/>
<circle cx="927.3" cy="733.2" r="2.8"/>
<circle cx="1030.4" cy="730.2" r="2.8"/>
<circle cx="953.3" cy="781.8" r="2.8"/>
<circle cx="1026.1" cy="762.5" r="2.8"/>
<circle cx="996.1" cy="738.0" r="2.8"/>
<circle cx="991.5" cy="757.0" r="2.8"/>
<circle cx="949.8" cy="718.1" r="2.8"/>
<circle cx="1003.9" cy="762.1" r="2.8"/>
<circle cx="960.1" cy="732.6" r="2.8"/>
<circle cx="957.1" cy="739.3" r="2.8"/>
<circle cx="956.9" cy="765.1" r="2.8"/>
<circle cx="994.4" cy="708.3" r="2.8"/>
<circle cx="1011.9" cy="732.4" r="2.8"/>
<circle cx="1006.9" cy="734.0" r="2.8"/>
<circle cx="947.2" cy="736.7" r="2.8"/>
<circle cx="984.8" cy="700.8" r="2.8"/>
<circle cx="983.8" cy="728.2" r="2.8"/>
<circle cx="958.7" cy="724.6" r="2.8"/>
<circle cx="1011.3" cy="741.7" r="2.8"/>
<circle cx="1010.8" cy="712.9" r="2.8"/>
<circle cx="985.4" cy="716.6" r="2.8"/>
<circle cx="943.0" cy="712.9" r="2.8"/>
<circle cx="938.4" cy="727.4" r="2.8"/>
<circle cx="937.0" cy="779.5" r="2.8"/>
<circle cx="966.0" cy="738.7" r="2.8"/>
<circle cx="1030.3" cy="744.4" r="2.8"/>
<circle cx="1021.1" cy="746.5" r="2.8"/>
<circle cx="994.0" cy="698.8" r="2.8"/>
<circle cx="987.6" cy="720.2" r="2.8"/>
<circle cx="916.0" cy="738.1" r="2.8"/>
<circle cx="984.6" cy="758.1" r="2.8"/>
<circle cx="920.8" cy="768.4" r="2.8"/>
<circle cx="951.2" cy="763.8" r="2.8"/>
<circle cx="970.0" cy="743.4" r="2.8"/>
<circle cx="939.8" cy="738.5" r="2.8"/>
<circle cx="922.4" cy="724.2" r="2.8"/>
<circle cx="1012.6" cy="750.2" r="2.8"/>
<circle cx="1013.2" cy="737.8" r="2.8"/>
<circle cx="919.0" cy="731.0" r="2.8"/>
<circle cx="912.9" cy="775.7" r="2.8"/>
<circle cx="971.9" cy="721.0" r="2.8"/>
<circle cx="988.3" cy="734.1" r="2.8"/>
<circle cx="974.2" cy="724.4" r="2.8"/>
<circle cx="925.4" cy="751.5" r="2.8"/>
<circle cx="976.7" cy="740.6" r="2.8"/>
<circle cx="1037.8" cy="742.2" r="2.8"/>
<circle cx="931.9" cy="758.8" r="2.8"/>
<circle cx="917.9" cy="774.0" r="2.8"/>
<circle cx="996.3" cy="726.5" r="2.8"/>
<circle cx="931.9" cy="743.0" r="2.8"/>
<circle cx="1004.1" cy="775.6" r="2.8"/>
<circle cx="952.4" cy="704.9" r="2.8"/>
<circle cx="932.6" cy="752.5" r="2.8"/>
<circle cx="956.9" cy="741.5" r="2.8"/>
<circle cx="1019.9" cy="752.1" r="2.8"/>
<circle cx="931.2" cy="730.6" r="2.8"/>
<circle cx="987.8" cy="716.7" r="2.8"/>
<circle cx="971.6" cy="710.0" r="2.8"/>
<circle cx="1030.4" cy="758.4" r="2.8"/>
<circle cx="997.7" cy="771.1" r="2.8"/>
<circle cx="909.7" cy="772.1" r="2.8"/>
<circle cx="993.8" cy="733.4" r="2.8"/>
<circle cx="974.7" cy="722.5" r="2.8"/>
<circle cx="1013.7" cy="729.0" r="2.8"/>
<circle cx="998.8" cy="727.8" r="2.8"/>
<circle cx="971.1" cy="718.6" r="2.8"/>
<circle cx="989.6" cy="729.0" r="2.8"/>
<circle cx="998.2" cy="769.2" r="2.8"/>
<circle cx="946.6" cy="718.9" r="2.8"/>
<circle cx="999.0" cy="753.3" r="2.8"/>
<circle cx="925.8" cy="763.3" r="2.8"/>
<circle cx="964.7" cy="704.2" r="2.8"/>
<circle cx="911.3" cy="729.8" r="2.8"/>
<circle cx="954.7" cy="779.3" r="2.8"/>
<circle cx="1032.7" cy="744.4" r="2.8"/>
<circle cx="938.8" cy="740.9" r="2.8"/>
<circle cx="988.8" cy="758.3" r="2.8"/>
<circle cx="1007.2" cy="763.9" r="2.8"/>
<circle cx="918.6" cy="775.9" r="2.8"/>
<circle cx="947.6" cy="754.8" r="2.8"/>
<circle cx="1021.9" cy="719.8" r="2.8"/>
<circle cx="966.6" cy="775.5" r="2.8"/>
<circle cx="968.7" cy="754.4" r="2.8"/>
<circle cx="948.7" cy="759.1" r="2.8"/>
<circle cx="955.2" cy="731.2" r="2.8"/>
<circle cx="1005.3" cy="703.9" r="2.8"/>
<circle cx="939.8" cy="766.9" r="2.8"/>
<circle cx="1007.1" cy="749.4" r="2.8"/>
<circle cx="1015.1" cy="744.5" r="2.8"/>
<circle cx="915.5" cy="785.7" r="2.8"/>
<circle cx="992.0" cy="773.4" r="2.8"/>
<circle cx="917.2" cy="770.2" r="2.8"/>
<circle cx="946.8" cy="748.1" r="2.8"/>
<circle cx="926.3" cy="780.5" r="2.8"/>
<circle cx="976.6" cy="701.3" r="2.8"/>
<circle cx="955.5" cy="718.8" r="2.8"/>
<circle cx="986.5" cy="728.9" r="2.8"/>
<circle cx="928.8" cy="725.7" r="2.8"/>
<circle cx="958.6" cy="760.9" r="2.8"/>
<circle cx="955.8" cy="753.8" r="2.8"/>
<circle cx="978.3" cy="774.1" r="2.8"/>
<circle cx="1032.9" cy="731.9" r="2.8"/>
<circle cx="943.2" cy="730.3" r="2.8"/>
<circle cx="930.0" cy="754.8" r="2.8"/>
<circle cx="942.4" cy="772.1" r="2.8"/>
<circle cx="1008.2" cy="713.9" r="2.8"/>
<circle cx="961.3" cy="723.3" r="2.8"/>
<circle cx="989.3" cy="756.2" r="2.8"/>
<circle cx="980.1" cy="764.6" r="2.8"/>
<circle cx="943.3" cy="737.7" r="2.8"/>
<circle cx="914.1" cy="740.9" r="2.8"/>
<circle cx="1023.5" cy="739.2" r="2.8"/>
<circle cx="924.3" cy="734.3" r="2.8"/>
<circle cx="960.8" cy="742.0" r="2.8"/>
<circle cx="922.9" cy="739.2" r="2.8"/>
<circle cx="934.7" cy="764.7" r="2.8"/>
<circle cx="926.6" cy="730.7" r="2.8"/>
<circle cx="981.8" cy="706.0" r="2.8"/>
<circle cx="944.2" cy="718.6" r="2.8"/>
<circle cx="976.3" cy="776.6" r="2.8"/>
<circle cx="962.0" cy="763.0" r="2.8"/>
<circle cx="960.8" cy="710.3" r="2.8"/>
<circle cx="935.0" cy="769.5" r="2.8"/>
<circle cx="915.6" cy="725.7" r="2.8"/>
<circle cx="924.1" cy="731.9" r="2.8"/>
<circle cx="916.6" cy="746.3" r="2.8"/>
<circle cx="1014.8" cy="750.7" r="2.8"/>
<circle cx="952.4" cy="710.4" r="2.8"/>
<circle cx="939.3" cy="746.8" r="2.8"/>
<circle cx="976.2" cy="773.9" r="2.8"/>
<circle cx="1004.5" cy="759.3" r="2.8"/>
<circle cx="960.4" cy="708.2" r="2.8"/>
<circle cx="967.4" cy="699.7" r="2.8"/>
<circle cx="945.9" cy="739.7" r="2.8"/>
<circle cx="960.0" cy="757.8" r="2.8"/>
<circle cx="978.9" cy="759.9" r="2.8"/>
<circle cx="1011.3" cy="729.8" r="2.8"/>
<circle cx="952.4" cy="715.7" r="2.8"/>
<circle cx="1006.5" cy="712.4" r="2.8"/>
<circle cx="912.5" cy="781.7" r="2.8"/>
<circle cx="1013.1" cy="713.9" r="2.8"/>
<circle cx="1013.6" cy="668.5" r="2.8"/>
<circle cx="973.6" cy="687.3" r="2.8"/>
<circle cx="991.8" cy="641.7" r="2.8"/>
<circle cx="1016.9" cy="702.6" r="2.8"/>
<circle cx="1056.0" cy="678.8" r="2.8"/>
<circle cx="999.3" cy="672.8" r="2.8"/>
<circle cx="1034.7" cy="706.8" r="2.8"/>
<circle cx="993.0" cy="660.7" r="2.8"/>
<circle cx="1019.2" cy="638.6" r="2.8"/>
<circle cx="1049.6" cy="648.9" r="2.8"/>
<circle cx="1005.9" cy="639.6" r="2.8"/>
<circle cx="1044.9" cy="701.9" r="2.8"/>
<circle cx="1010.5" cy="661.7" r="2.8"/>
<circle cx="1012.9" cy="629.8" r="2.8"/>
<circle cx="1004.0" cy="696.8" r="2.8"/>
<circle cx="967.8" cy="692.3" r="2.8"/>
<circle cx="981.0" cy="643.6" r="2.8"/>
<circle cx="1022.2" cy="715.0" r="2.8"/>
<circle cx="989.7" cy="632.8" r="2.8"/>
<circle cx="1053.9" cy="681.3" r="2.8"/>
<circle cx="1023.8" cy="646.5" r="2.8"/>
<circle cx="1003.4" cy="691.8" r="2.8"/>
<circle cx="1038.5" cy="676.8" r="2.8"/>
<circle cx="1007.9" cy="699.0" r="2.8"/>
<circle cx="971.3" cy="691.0" r="2.8"/>
<circle cx="1034.3" cy="714.2" r="2.8"/>
<circle cx="1058.9" cy="653.5" r="2.8"/>
<circle cx="1049.8" cy="716.4" r="2.8"/>
<circle cx="1012.7" cy="684.2" r="2.8"/>
<circle cx="1003.4" cy="676.4" r="2.8"/>
<circle cx="1040.3" cy="705.5" r="2.8"/>
<circle cx="1007.0" cy="676.7" r="2.8"/>
<circle cx="1043.7" cy="668.1" r="2.8"/>
<circle cx="1047.1" cy="658.3" r="2.8"/>
<circle cx="981.6" cy="654.1" r="2.8"/>
<circle cx="1026.6" cy="663.0" r="2.8"/>
<circle cx="1034.6" cy="686.8" r="2.8"/>
<circle cx="1062.2" cy="666.0" r="2.8"/>
<circle cx="1029.2" cy="680.0" r="2.8"/>
<circle cx="1045.3" cy="687.2" r="2.8"/>
<circle cx="1028.2" cy="700.1" r="2.8"/>
<circle cx="1001.1" cy="656.9" r="2.8"/>
<circle cx="966.6" cy="647.8" r="2.8"/>
<circle cx="1047.9" cy="712.0" r="2.8"/>
<circle cx="965.9" cy="683.7" r="2.8"/>
<circle cx="994.0" cy="676.6" r="2.8"/>
<circle cx="1017.7" cy="648.1" r="2.8"/>
<circle cx="972.5" cy="646.1" r="2.8"/>
<circle cx="1029.0" cy="716.3" r="2.8"/>
<circle cx="1040.8" cy="647.3" r="2.8"/>
<circle cx="1009.3" cy="656.5" r="2.8"/>
<circle cx="1022.9" cy="690.4" r="2.8"/>
<circle cx="1019.4" cy="650.6" r="2.8"/>
<circle cx="990.5" cy="678.9" r="2.8"/>
<circle cx="1018.5" cy="698.0" r="2.8"/>
<circle cx="1047.7" cy="719.1" r="2.8"/>
<circle cx="1057.7" cy="690.4" r="2.8"/>
<circle cx="1055.3" cy="658.6" r="2.8"/>
<circle cx="1029.2" cy="672.8" r="2.8"/>
<circle cx="1044.0" cy="696.6" r="2.8"/>
<circle cx="1049.1" cy="652.0" r="2.8"/>
<circle cx="1013.4" cy="657.4" r="2.8"/>
<circle cx="991.1" cy="669.4" r="2.8"/>
<circle cx="976.7" cy="681.3" r="2.8"/>
<circle cx="975.1" cy="661.0" r="2.8"/>
<circle cx="1015.8" cy="696.4" r="2.8"/>
<circle cx="1031.3" cy="682.9" r="2.8"/>
<circle cx="996.4" cy="647.9" r="2.8"/>
<circle cx="999.0" cy="625.8" r="2.8"/>
<circle cx="1049.3" cy="701.5" r="2.8"/>
<circle cx="1032.9" cy="692.6" r="2.8"/>
<circle cx="1036.0" cy="701.1" r="2.8"/>
<circle cx="969.7" cy="695.9" r="2.8"/>
<circle cx="980.8" cy="684.0" r="2.8"/>
<circle cx="971.0" cy="662.6" r="2.8"/>
<circle cx="1045.9" cy="683.8" r="2.8"/>
<circle cx="997.4" cy="635.0" r="2.8"/>
<circle cx="985.0" cy="638.4" r="2.8"/>
<circle cx="1026.6" cy="704.9" r="2.8"/>
<circle cx="1047.0" cy="698.4" r="2.8"/>
<circle cx="1022.8" cy="674.6" r="2.8"/>
<circle cx="1048.4" cy="688.7" r="2.8"/>
<circle cx="1028.4" cy="676.4" r="2.8"/>
<circle cx="1026.3" cy="696.9" r="2.8"/>
<circle cx="991.2" cy="665.8" r="2.8"/>
<circle cx="1038.2" cy="722.4" r="2.8"/>
<circle cx="1061.0" cy="678.0" r="2.8"/>
<circle cx="1052.9" cy="666.4" r="2.8"/>
<circle cx="1055.4" cy="669.3" r="2.8"/>
<circle cx="975.4" cy="640.6" r="2.8"/>
<circle cx="999.9" cy="645.8" r="2.8"/>
<circle cx="982.4" cy="640.8" r="2.8"/>
<circle cx="1045.0" cy="720.9" r="2.8"/>
<circle cx="971.4" cy="684.7" r="2.8"/>
<circle cx="973.3" cy="650.3" r="2.8"/>
<circle cx="963.3" cy="675.9" r="2.8"/>
<circle cx="1029.7" cy="664.3" r="2.8"/>
<circle cx="1057.1" cy="694.0" r="2.8"/>
<circle cx="1029.9" cy="720.3" r="2.8"/>
<circle cx="1008.5" cy="695.1" r="2.8"/>
<circle cx="988.7" cy="657.7" r="2.8"/>
<circle cx="1005.1" cy="626.4" r="2.8"/>
<circle cx="998.9" cy="685.7" r="2.8"/>
<circle cx="978.7" cy="653.0" r="2.8"/>
<circle cx="1007.9" cy="642.0" r="2.8"/>
<circle cx="1019.2" cy="692.7" r="2.8"/>
<circle cx="1010.0" cy="627.2" r="2.8"/>
<circle cx="986.3" cy="634.5" r="2.8"/>
<circle cx="993.7" cy="684.3" r="2.8"/>
<circle cx="1004.8" cy="669.6" r="2.8"/>
<circle cx="1063.7" cy="682.6" r="2.8"/>
<circle cx="1039.9" cy="654.6" r="2.8"/>
<circle cx="1049.9" cy="737.5" r="2.8"/>
<circle cx="1022.7" cy="666.0" r="2.8"/>
<circle cx="999.4" cy="642.0" r="2.8"/>
<circle cx="1047.8" cy="691.9" r="2.8"/>
<circle cx="1043.4" cy="652.7" r="2.8"/>
<circle cx="1046.5" cy="716.2" r="2.8"/>
<circle cx="1011.3" cy="641.9" r="2.8"/>
<circle cx="991.7" cy="628.5" r="2.8"/>
<circle cx="1022.5" cy="637.4" r="2.8"/>
<circle cx="1006.8" cy="687.7" r="2.8"/>
<circle cx="977.0" cy="670.6" r="2.8"/>
<circle cx="995.7" cy="697.4" r="2.8"/>
<circle cx="1054.5" cy="699.1" r="2.8"/>
<circle cx="1043.3" cy="715.6" r="2.8"/>
<circle cx="1057.7" cy="662.7" r="2.8"/>
<circle cx="975.8" cy="633.3" r="2.8"/>
<circle cx="1059.8" cy="668.3" r="2.8"/>
<circle cx="1009.0" cy="632.0" r="2.8"/>
<circle cx="967.1" cy="643.9" r="2.8"/>
<circle cx="1011.2" cy="709.9" r="2.8"/>
<circle cx="1054.5" cy="710.3" r="2.8"/>
<circle cx="1034.4" cy="643.0" r="2.8"/>
<circle cx="1020.7" cy="688.0" r="2.8"/>
<circle cx="1017.2" cy="687.6" r="2.8"/>
<circle cx="995.2" cy="670.8" r="2.8"/>
<circle cx="1013.7" cy="649.0" r="2.8"/>
<circle cx="1044.1" cy="728.8" r="2.8"/>
<circle cx="1014.2" cy="662.0" r="2.8"/>
<circle cx="1034.4" cy="697.2" r="2.8"/>
<circle cx="998.8" cy="694.5" r="2.8"/>
<circle cx="1046.0" cy="738.7" r="2.8"/>
<circle cx="1031.6" cy="650.6" r="2.8"/>
<circle cx="989.2" cy="691.0" r="2.8"/>
<circle cx="1003.4" cy="652.7" r="2.8"/>
<circle cx="1020.2" cy="662.0" r="2.8"/>
<circle cx="1021.1" cy="684.2" r="2.8"/>
<circle cx="1009.6" cy="639.4" r="2.8"/>
<circle cx="980.7" cy="667.2" r="2.8"/>
<circle cx="1026.9" cy="685.4" r="2.8"/>
<circle cx="996.7" cy="654.3" r="2.8"/>
<circle cx="985.9" cy="698.0" r="2.8"/>
<circle cx="1048.1" cy="706.0" r="2.8"/>
<circle cx="968.1" cy="661.4" r="2.8"/>
<circle cx="1029.7" cy="635.9" r="2.8"/>
<circle cx="985.8" cy="690.5" r="2.8"/>
<circle cx="967.5" cy="639.3" r="2.8"/>
<circle cx="1021.2" cy="669.4" r="2.8"/>
<circle cx="1056.7" cy="666.4" r="2.8"/>
<circle cx="1027.4" cy="657.6" r="2.8"/>
<circle cx="1008.6" cy="668.2" r="2.8"/>
<circle cx="1036.0" cy="719.8" r="2.8"/>
<circle cx="1006.1" cy="680.9" r="2.8"/>
<circle cx="1050.8" cy="728.1" r="2.8"/>
<circle cx="967.6" cy="675.0" r="2.8"/>
<circle cx="1039.1" cy="664.9" r="2.8"/>
<circle cx="1039.4" cy="700.3" r="2.8"/>
<circle cx="1036.9" cy="709.7" r="2.8"/>
<circle cx="972.5" cy="679.5" r="2.8"/>
<circle cx="1047.4" cy="723.6" r="2.8"/>
<circle cx="1029.3" cy="639.6" r="2.8"/>
<circle cx="1053.5" cy="651.5" r="2.8"/>
<circle cx="990.7" cy="635.7" r="2.8"/>
<circle cx="979.5" cy="675.9" r="2.8"/>
<circle cx="1011.3" cy="697.4" r="2.8"/>
<circle cx="1039.9" cy="693.3" r="2.8"/>
<circle cx="1056.2" cy="702.9" r="2.8"/>
<circle cx="1042.4" cy="718.9" r="2.8"/>
<circle cx="1036.6" cy="725.9" r="2.8"/>
<circle cx="997.6" cy="651.2" r="2.8"/>
<circle cx="1040.4" cy="713.6" r="2.8"/>
<circle cx="998.6" cy="690.8" r="2.8"/>
<circle cx="996.3" cy="659.8" r="2.8"/>
<circle cx="1030.5" cy="686.2" r="2.8"/>
<circle cx="993.8" cy="656.4" r="2.8"/>
<circle cx="1034.1" cy="670.7" r="2.8"/>
<circle cx="1051.7" cy="696.8" r="2.8"/>
<circle cx="967.6" cy="652.9" r="2.8"/>
<circle cx="987.6" cy="644.4" r="2.8"/>
<circle cx="1033.6" cy="633.8" r="2.8"/>
<circle cx="1039.0" cy="685.8" r="2.8"/>
<circle cx="1018.9" cy="655.0" r="2.8"/>
<circle cx="1043.4" cy="674.5" r="2.8"/>
<circle cx="985.5" cy="677.3" r="2.8"/>
<circle cx="1035.8" cy="693.7" r="2.8"/>
<circle cx="1043.4" cy="671.1" r="2.8"/>
<circle cx="980.5" cy="658.2" r="2.8"/>
<circle cx="995.3" cy="690.8" r="2.8"/>
<circle cx="991.2" cy="650.6" r="2.8"/>
<circle cx="1014.5" cy="637.4" r="2.8"/>
<circle cx="1052.3" cy="662.0" r="2.8"/>
<circle cx="1025.0" cy="670.4" r="2.8"/>
<circle cx="1003.0" cy="642.2" r="2.8"/>
<circle cx="1014.5" cy="675.8" r="2.8"/>
<circle cx="1039.4" cy="658.8" r="2.8"/>
<circle cx="1051.8" cy="658.3" r="2.8"/>
<circle cx="983.9" cy="680.1" r="2.8"/>
<circle cx="1032.2" cy="678.4" r="2.8"/>
<circle cx="974.3" cy="683.3" r="2.8"/>
<circle cx="1008.4" cy="650.2" r="2.8"/>
<circle cx="1010.2" cy="702.6" r="2.8"/>
<circle cx="995.5" cy="632.1" r="2.8"/>
<circle cx="998.3" cy="662.6" r="2.8"/>
<circle cx="1040.3" cy="725.3" r="2.8"/>
<circle cx="1034.1" cy="722.1" r="2.8"/>
<circle cx="1027.0" cy="667.7" r="2.8"/>
<circle cx="1053.6" cy="687.5" r="2.8"/>
<circle cx="1038.0" cy="636.1" r="2.8"/>
<circle cx="1058.5" cy="708.1" r="2.8"/>
<circle cx="1021.3" cy="658.6" r="2.8"/>
<circle cx="1009.0" cy="680.0" r="2.8"/>
<circle cx="1065.9" cy="664.0" r="2.8"/>
<circle cx="962.9" cy="642.5" r="2.8"/>
<circle cx="1042.7" cy="685.4" r="2.8"/>
<circle cx="1010.9" cy="634.3" r="2.8"/>
<circle cx="979.3" cy="679.6" r="2.8"/>
<circle cx="1004.9" cy="647.2" r="2.8"/>
<circle cx="1030.3" cy="657.4" r="2.8"/>
<circle cx="1029.2" cy="706.9" r="2.8"/>
<circle cx="993.3" cy="653.2" r="2.8"/>
<circle cx="1022.2" cy="654.9" r="2.8"/>
<circle cx="1010.2" cy="672.1" r="2.8"/>
<circle cx="1028.6" cy="692.3" r="2.8"/>
<circle cx="995.5" cy="679.9" r="2.8"/>
<circle cx="1048.3" cy="655.3" r="2.8"/>
<circle cx="1042.0" cy="710.6" r="2.8"/>
<circle cx="1005.7" cy="631.7" r="2.8"/>
<circle cx="1006.4" cy="692.3" r="2.8"/>
<circle cx="999.7" cy="700.0" r="2.8"/>
<circle cx="1030.3" cy="643.4" r="2.8"/>
<circle cx="979.0" cy="693.5" r="2.8"/>
<circle cx="973.6" cy="665.2" r="2.8"/>
<circle cx="997.3" cy="667.0" r="2.8"/>
<circle cx="981.2" cy="697.3" r="2.8"/>
<circle cx="1009.2" cy="683.9" r="2.8"/>
<circle cx="1035.9" cy="658.9" r="2.8"/>
<circle cx="1052.0" cy="713.1" r="2.8"/>
<circle cx="1016.9" cy="665.1" r="2.8"/>
<circle cx="1019.8" cy="677.7" r="2.8"/>
<circle cx="1048.6" cy="681.5" r="2.8"/>
<circle cx="1061.6" cy="660.1" r="2.8"/>
<circle cx="1002.8" cy="638.4" r="2.8"/>
<circle cx="1037.3" cy="667.9" r="2.8"/>
<circle cx="1026.4" cy="711.5" r="2.8"/>
<circle cx="1063.6" cy="669.3" r="2.8"/>
<circle cx="986.7" cy="641.4" r="2.8"/>
<circle cx="1056.0" cy="674.0" r="2.8"/>
<circle cx="1017.2" cy="679.8" r="2.8"/>
<circle cx="969.6" cy="681.0" r="2.8"/>
<circle cx="977.7" cy="656.9" r="2.8"/>
<circle cx="1049.3" cy="676.5" r="2.8"/>
<circle cx="997.0" cy="676.5" r="2.8"/>
<circle cx="989.5" cy="662.0" r="2.8"/>
<circle cx="1048.4" cy="661.0" r="2.8"/>
<circle cx="1037.6" cy="650.8" r="2.8"/>
<circle cx="1018.8" cy="682.2" r="2.8"/>
<circle cx="1013.3" cy="646.1" r="2.8"/>
<circle cx="1030.3" cy="695.6" r="2.8"/>
<circle cx="1051.2" cy="672.7" r="2.8"/>
<circle cx="1000.8" cy="664.7" r="2.8"/>
<circle cx="1004.6" cy="635.5" r="2.8"/>
<circle cx="1010.3" cy="705.6" r="2.8"/>
<circle cx="1034.3" cy="681.7" r="2.8"/>
<circle cx="1032.5" cy="699.7" r="2.8"/>
<circle cx="985.6" cy="651.9" r="2.8"/>
<circle cx="981.8" cy="646.6" r="2.8"/>
<circle cx="1039.2" cy="729.3" r="2.8"/>
<circle cx="1029.3" cy="648.0" r="2.8"/>
<circle cx="1045.6" cy="639.2" r="2.8"/>
<circle cx="967.1" cy="689.3" r="2.8"/>
<circle cx="1039.3" cy="680.1" r="2.8"/>
<circle cx="1049.0" cy="664.0" r="2.8"/>
<circle cx="966.0" cy="656.5" r="2.8"/>
<circle cx="1023.0" cy="701.7" r="2.8"/>
<circle cx="982.9" cy="662.4" r="2.8"/>
<circle cx="1047.2" cy="731.4" r="2.8"/>
<circle cx="1011.4" cy="654.5" r="2.8"/>
<circle cx="1022.6" cy="694.9" r="2.8"/>
<circle cx="1006.7" cy="654.8" r="2.8"/>
<circle cx="1002.7" cy="623.7" r="2.8"/>
<circle cx="980.5" cy="638.2" r="2.8"/>
<circle cx="1050.6" cy="710.5" r="2.8"/>
<circle cx="1045.5" cy="679.5" r="2.8"/>
<circle cx="1057.8" cy="686.7" r="2.8"/>
<circle cx="995.2" cy="642.5" r="2.8"/>
<circle cx="964.5" cy="639.6" r="2.8"/>
<circle cx="994.5" cy="650.2" r="2.8"/>
<circle cx="978.0" cy="627.9" r="2.8"/>
<circle cx="999.5" cy="682.8" r="2.8"/>
<circle cx="1007.0" cy="704.2" r="2.8"/>
<circle cx="966.7" cy="696.7" r="2.8"/>
<circle cx="987.0" cy="679.8" r="2.8"/>
<circle cx="973.3" cy="653.2" r="2.8"/>
<circle cx="1053.7" cy="656.1" r="2.8"/>
<circle cx="984.1" cy="632.4" r="2.8"/>
<circle cx="986.0" cy="670.2" r="2.8"/>
<circle cx="996.4" cy="682.9" r="2.8"/>
<circle cx="973.2" cy="670.3" r="2.8"/>
<circle cx="979.0" cy="648.9" r="2.8"/>
<circle cx="1010.7" cy="666.0" r="2.8"/>
<circle cx="977.5" cy="688.3" r="2.8"/>
<circle cx="970.8" cy="676.3" r="2.8"/>
<circle cx="1041.8" cy="677.9" r="2.8"/>
<circle cx="1047.3" cy="671.3" r="2.8"/>
<circle cx="973.7" cy="656.6" r="2.8"/>
<circle cx="1044.5" cy="660.7" r="2.8"/>
<circle cx="971.3" cy="637.3" r="2.8"/>
<circle cx="982.7" cy="649.7" r="2.8"/>
<circle cx="1002.1" cy="681.4" r="2.8"/>
<circle cx="1036.2" cy="655.6" r="2.8"/>
<circle cx="995.4" cy="627.8" r="2.8"/>
<circle cx="976.5" cy="645.6" r="2.8"/>
<circle cx="1025.0" cy="720.2" r="2.8"/>
<circle cx="1034.3" cy="666.2" r="2.8"/>
<circle cx="1013.0" cy="679.8" r="2.8"/>
<circle cx="1015.9" cy="709.7" r="2.8"/>
<circle cx="1034.6" cy="652.3" r="2.8"/>
<circle cx="1016.4" cy="651.9" r="2.8"/>
<circle cx="974.3" cy="692.4" r="2.8"/>
<circle cx="977.8" cy="642.6" r="2.8"/>
<circle cx="1044.0" cy="723.9" r="2.8"/>
<circle cx="1046.6" cy="708.7" r="2.8"/>
<circle cx="1017.2" cy="641.1" r="2.8"/>
<circle cx="1031.9" cy="712.2" r="2.8"/>
<circle cx="964.7" cy="680.8" r="2.8"/>
<circle cx="1005.1" cy="659.6" r="2.8"/>
<circle cx="1035.2" cy="647.8" r="2.8"/>
<circle cx="1004.0" cy="700.1" r="2.8"/>
<circle cx="1029.3" cy="710.0" r="2.8"/>
<circle cx="1061.8" cy="657.1" r="2.8"/>
<circle cx="1026.8" cy="632.8" r="2.8"/>
<circle cx="1020.5" cy="632.5" r="2.8"/>
<circle cx="1023.3" cy="680.6" r="2.8"/>
<circle cx="1043.3" cy="692.6" r="2.8"/>
<circle cx="981.8" cy="635.4" r="2.8"/>
<circle cx="1007.7" cy="662.4" r="2.8"/>
<circle cx="1051.0" cy="704.3" r="2.8"/>
<circle cx="1012.8" cy="700.8" r="2.8"/>
<circle cx="1044.1" cy="735.3" r="2.8"/>
<circle cx="979.5" cy="631.8" r="2.8"/>
<circle cx="1060.6" cy="674.6" r="2.8"/>
<circle cx="985.2" cy="664.7" r="2.8"/>
<circle cx="1017.3" cy="633.3" r="2.8"/>
<circle cx="1023.3" cy="661.1" r="2.8"/>
<circle cx="981.5" cy="691.2" r="2.8"/>
<circle cx="970.5" cy="657.3" r="2.8"/>
<circle cx="1043.9" cy="647.1" r="2.8"/>
<circle cx="983.5" cy="668.5" r="2.8"/>
<circle cx="962.7" cy="649.3" r="2.8"/>
<circle cx="1058.9" cy="700.4" r="2.8"/>
<circle cx="1032.3" cy="688.9" r="2.8"/>
<circle cx="974.1" cy="675.9" r="2.8"/>
<circle cx="977.5" cy="636.6" r="2.8"/>
<circle cx="986.7" cy="628.2" r="2.8"/>
<circle cx="1038.3" cy="672.6" r="2.8"/>
<circle cx="991.8" cy="687.9" r="2.8"/>
<circle cx="1041.7" cy="662.0" r="2.8"/>
<circle cx="1022.5" cy="651.9" r="2.8"/>
<circle cx="1064.0" cy="672.5" r="2.8"/>
<circle cx="952.2" cy="692.9" r="2.8"/>
<circle cx="905.2" cy="719.6" r="2.8"/>
<circle cx="927.3" cy="703.0" r="2.8"/>
<circle cx="943.6" cy="701.0" r="2.8"/>
<circle cx="946.9" cy="706.1" r="2.8"/>
<circle cx="913.1" cy="720.3" r="2.8"/>
<circle cx="945.6" cy="697.5" r="2.8"/>
<circle cx="940.1" cy="676.5" r="2.8"/>
<circle cx="962.0" cy="693.0" r="2.8"/>
<circle cx="933.2" cy="709.9" r="2.8"/>
<circle cx="950.5" cy="689.8" r="2.8"/>
<circle cx="906.0" cy="708.6" r="2.8"/>
<circle cx="919.9" cy="713.8" r="2.8"/>
<circle cx="912.9" cy="714.6" r="2.8"/>
<circle cx="952.5" cy="679.0" r="2.8"/>
<circle cx="947.3" cy="693.7" r="2.8"/>
<circle cx="951.0" cy="701.2" r="2.8"/>
<circle cx="933.5" cy="696.6" r="2.8"/>
<circle cx="936.6" cy="699.1" r="2.8"/>
<circle cx="910.1" cy="717.7" r="2.8"/>
<circle cx="951.0" cy="683.1" r="2.8"/>
<circle cx="937.7" cy="669.0" r="2.8"/>
<circle cx="961.8" cy="672.2" r="2.8"/>
<circle cx="919.0" cy="725.9" r="2.8"/>
<circle cx="963.0" cy="683.2" r="2.8"/>
<circle cx="938.2" cy="708.5" r="2.8"/>
<circle cx="930.2" cy="710.5" r="2.8"/>
<circle cx="941.3" cy="671.7" r="2.8"/>
<circle cx="897.5" cy="708.9" r="2.8"/>
<circle cx="910.7" cy="723.3" r="2.8"/>
<circle cx="957.1" cy="677.1" r="2.8"/>
<circle cx="902.4" cy="721.4" r="2.8"/>
<circle cx="963.9" cy="687.4" r="2.8"/>
<circle cx="936.8" cy="694.4" r="2.8"/>
<circle cx="956.5" cy="671.2" r="2.8"/>
<circle cx="958.0" cy="700.6" r="2.8"/>
<circle cx="943.9" cy="685.2" r="2.8"/>
<circle cx="946.5" cy="676.3" r="2.8"/>
<circle cx="954.1" cy="674.1" r="2.8"/>
<circle cx="946.8" cy="667.0" r="2.8"/>
<circle cx="961.9" cy="678.0" r="2.8"/>
<circle cx="963.5" cy="698.1" r="2.8"/>
<circle cx="931.3" cy="706.0" r="2.8"/>
<circle cx="916.2" cy="703.2" r="2.8"/>
<circle cx="949.8" cy="668.7" r="2.8"/>
<circle cx="966.0" cy="694.7" r="2.8"/>
<circle cx="918.9" cy="721.1" r="2.8"/>
<circle cx="944.8" cy="681.2" r="2.8"/>
<circle cx="937.1" cy="679.4" r="2.8"/>
<circle cx="948.9" cy="673.0" r="2.8"/>
<circle cx="940.2" cy="704.2" r="2.8"/>
<circle cx="958.6" cy="686.4" r="2.8"/>
<circle cx="934.5" cy="713.4" r="2.8"/>
<circle cx="963.9" cy="667.9" r="2.8"/>
<circle cx="914.1" cy="726.5" r="2.8"/>
<circle cx="923.7" cy="712.9" r="2.8"/>
<circle cx="970.6" cy="671.8" r="2.8"/>
<circle cx="946.7" cy="701.1" r="2.8"/>
<circle cx="943.3" cy="711.0" r="2.8"/>
<circle cx="966.5" cy="663.6" r="2.8"/>
<circle cx="902.6" cy="712.7" r="2.8"/>
<circle cx="956.7" cy="665.5" r="2.8"/>
<circle cx="914.2" cy="710.1" r="2.8"/>
<circle cx="897.7" cy="705.1" r="2.8"/>
<circle cx="942.7" cy="696.4" r="2.8"/>
<circle cx="923.4" cy="718.4" r="2.8"/>
<circle cx="959.4" cy="695.0" r="2.8"/>
<circle cx="955.2" cy="694.4" r="2.8"/>
<circle cx="918.8" cy="708.4" r="2.8"/>
<circle cx="906.5" cy="715.1" r="2.8"/>
<circle cx="949.9" cy="686.6" r="2.8"/>
<circle cx="953.7" cy="668.1" r="2.8"/>
<circle cx="907.8" cy="721.5" r="2.8"/>
<circle cx="894.4" cy="702.1" r="2.8"/>
<circle cx="896.8" cy="700.2" r="2.8"/>
<circle cx="941.8" cy="690.5" r="2.8"/>
<circle cx="948.5" cy="662.8" r="2.8"/>
<circle cx="916.7" cy="723.4" r="2.8"/>
<circle cx="929.6" cy="719.4" r="2.8"/>
<circle cx="953.4" cy="698.8" r="2.8"/>
<circle cx="916.1" cy="718.8" r="2.8"/>
<circle cx="958.9" cy="682.5" r="2.8"/>
<circle cx="945.4" cy="670.4" r="2.8"/>
<circle cx="896.7" cy="713.0" r="2.8"/>
<circle cx="933.2" cy="700.9" r="2.8"/>
<circle cx="948.4" cy="681.5" r="2.8"/>
<circle cx="940.0" cy="698.4" r="2.8"/>
<circle cx="968.6" cy="665.9" r="2.8"/>
<circle cx="912.5" cy="678.8" r="2.8"/>
<circle cx="927.2" cy="684.2" r="2.8"/>
<circle cx="937.5" cy="667.5" r="2.8"/>
<circle cx="956.7" cy="664.5" r="2.8"/>
<circle cx="961.7" cy="644.7" r="2.8"/>
<circle cx="322.2" cy="747.7" r="2.8"/>
<circle cx="351.3" cy="775.9" r="2.8"/>
<circle cx="355.3" cy="778.4" r="2.8"/>
<circle cx="356.8" cy="756.3" r="2.8"/>
<circle cx="337.9" cy="718.6" r="2.8"/>
<circle cx="320.5" cy="741.5" r="2.8"/>
<circle cx="351.1" cy="763.0" r="2.8"/>
<circle cx="378.3" cy="783.7" r="2.8"/>
<circle cx="332.2" cy="741.9" r="2.8"/>
<circle cx="348.7" cy="726.7" r="2.8"/>
<circle cx="344.8" cy="775.0" r="2.8"/>
<circle cx="323.8" cy="764.6" r="2.8"/>
<circle cx="350.1" cy="771.9" r="2.8"/>
<circle cx="358.4" cy="763.6" r="2.8"/>
<circle cx="356.4" cy="742.5" r="2.8"/>
<circle cx="328.0" cy="741.0" r="2.8"/>
<circle cx="380.3" cy="786.6" r="2.8"/>
<circle cx="357.5" cy="746.5" r="2.8"/>
<circle cx="323.8" cy="760.1" r="2.8"/>
<circle cx="343.3" cy="746.5" r="2.8"/>
<circle cx="337.2" cy="765.5" r="2.8"/>
<circle cx="340.2" cy="771.2" r="2.8"/>
<circle cx="371.6" cy="778.0" r="2.8"/>
<circle cx="342.8" cy="754.0" r="2.8"/>
<circle cx="320.0" cy="755.3" r="2.8"/>
<circle cx="327.3" cy="767.1" r="2.8"/>
<circle cx="358.1" cy="780.0" r="2.8"/>
<circle cx="349.4" cy="752.2" r="2.8"/>
<circle cx="330.0" cy="748.5" r="2.8"/>
<circle cx="333.4" cy="766.3" r="2.8"/>
<circle cx="349.2" cy="740.5" r="2.8"/>
<circle cx="347.8" cy="743.6" r="2.8"/>
<circle cx="365.7" cy="782.6" r="2.8"/>
<circle cx="337.3" cy="724.2" r="2.8"/>
<circle cx="345.2" cy="766.8" r="2.8"/>
<circle cx="372.9" cy="769.0" r="2.8"/>
<circle cx="329.8" cy="765.8" r="2.8"/>
<circle cx="355.6" cy="764.8" r="2.8"/>
<circle cx="345.3" cy="740.0" r="2.8"/>
<circle cx="344.7" cy="762.0" r="2.8"/>
<circle cx="355.6" cy="769.4" r="2.8"/>
<circle cx="353.4" cy="748.0" r="2.8"/>
<circle cx="333.9" cy="749.4" r="2.8"/>
<circle cx="376.5" cy="769.5" r="2.8"/>
<circle cx="350.0" cy="755.2" r="2.8"/>
<circle cx="361.4" cy="749.6" r="2.8"/>
<circle cx="322.8" cy="771.3" r="2.8"/>
<circle cx="349.3" cy="718.7" r="2.8"/>
<circle cx="365.5" cy="771.2" r="2.8"/>
<circle cx="344.7" cy="756.7" r="2.8"/>
<circle cx="349.1" cy="768.1" r="2.8"/>
<circle cx="358.4" cy="761.1" r="2.8"/>
<circle cx="352.2" cy="778.6" r="2.8"/>
<circle cx="340.2" cy="721.1" r="2.8"/>
<circle cx="364.5" cy="754.8" r="2.8"/>
<circle cx="367.0" cy="780.0" r="2.8"/>
<circle cx="346.9" cy="759.6" r="2.8"/>
<circle cx="328.9" cy="759.3" r="2.8"/>
<circle cx="324.0" cy="741.8" r="2.8"/>
<circle cx="356.6" cy="736.2" r="2.8"/>
<circle cx="358.1" cy="734.0" r="2.8"/>
<circle cx="349.5" cy="735.0" r="2.8"/>
<circle cx="352.9" cy="738.7" r="2.8"/>
<circle cx="338.5" cy="769.8" r="2.8"/>
<circle cx="336.4" cy="729.7" r="2.8"/>
<circle cx="351.9" cy="753.2" r="2.8"/>
<circle cx="349.9" cy="759.2" r="2.8"/>
<circle cx="328.1" cy="747.4" r="2.8"/>
<circle cx="351.8" cy="768.9" r="2.8"/>
<circle cx="335.0" cy="764.6" r="2.8"/>
<circle cx="368.9" cy="762.9" r="2.8"/>
<circle cx="322.5" cy="737.4" r="2.8"/>
<circle cx="339.3" cy="762.8" r="2.8"/>
<circle cx="343.6" cy="731.7" r="2.8"/>
<circle cx="350.4" cy="749.4" r="2.8"/>
<circle cx="382.7" cy="779.5" r="2.8"/>
<circle cx="346.2" cy="721.3" r="2.8"/>
<circle cx="366.5" cy="761.0" r="2.8"/>
<circle cx="320.9" cy="752.9" r="2.8"/>
<circle cx="359.3" cy="778.3" r="2.8"/>
<circle cx="345.4" cy="753.9" r="2.8"/>
<circle cx="348.4" cy="730.3" r="2.8"/>
<circle cx="334.2" cy="762.0" r="2.8"/>
<circle cx="365.6" cy="768.2" r="2.8"/>
<circle cx="342.0" cy="733.0" r="2.8"/>
<circle cx="324.6" cy="733.5" r="2.8"/>
<circle cx="363.4" cy="763.0" r="2.8"/>
<circle cx="338.1" cy="726.1" r="2.8"/>
<circle cx="326.5" cy="774.4" r="2.8"/>
<circle cx="363.0" cy="782.0" r="2.8"/>
<circle cx="353.4" cy="735.2" r="2.8"/>
<circle cx="350.2" cy="722.1" r="2.8"/>
<circle cx="351.9" cy="757.0" r="2.8"/>
<circle cx="328.9" cy="737.4" r="2.8"/>
<circle cx="341.1" cy="718.9" r="2.8"/>
<circle cx="351.0" cy="780.6" r="2.8"/>
<circle cx="332.7" cy="771.7" r="2.8"/>
<circle cx="368.4" cy="759.1" r="2.8"/>
<circle cx="345.5" cy="746.1" r="2.8"/>
<circle cx="346.8" cy="723.6" r="2.8"/>
<circle cx="350.1" cy="738.2" r="2.8"/>
<circle cx="360.9" cy="767.2" r="2.8"/>
<circle cx="384.5" cy="784.5" r="2.8"/>
<circle cx="357.9" cy="754.0" r="2.8"/>
<circle cx="334.5" cy="723.8" r="2.8"/>
<circle cx="350.7" cy="728.8" r="2.8"/>
<circle cx="346.2" cy="726.1" r="2.8"/>
<circle cx="331.6" cy="764.5" r="2.8"/>
<circle cx="330.9" cy="743.9" r="2.8"/>
<circle cx="333.2" cy="729.1" r="2.8"/>
<circle cx="358.6" cy="757.7" r="2.8"/>
<circle cx="332.5" cy="745.5" r="2.8"/>
<circle cx="351.9" cy="723.8" r="2.8"/>
<circle cx="325.9" cy="758.3" r="2.8"/>
<circle cx="347.2" cy="777.6" r="2.8"/>
<circle cx="336.8" cy="759.6" r="2.8"/>
<circle cx="357.7" cy="728.3" r="2.8"/>
<circle cx="373.6" cy="767.0" r="2.8"/>
<circle cx="369.1" cy="769.3" r="2.8"/>
<circle cx="337.3" cy="745.9" r="2.8"/>
<circle cx="323.8" cy="745.0" r="2.8"/>
<circle cx="371.3" cy="756.8" r="2.8"/>
<circle cx="335.7" cy="769.0" r="2.8"/>
<circle cx="329.2" cy="768.1" r="2.8"/>
<circle cx="326.1" cy="745.7" r="2.8"/>
<circle cx="365.6" cy="776.7" r="2.8"/>
<circle cx="361.6" cy="735.5" r="2.8"/>
<circle cx="336.5" cy="720.5" r="2.8"/>
<circle cx="356.4" cy="740.1" r="2.8"/>
<circle cx="374.1" cy="780.5" r="2.8"/>
<circle cx="328.4" cy="756.2" r="2.8"/>
<circle cx="337.7" cy="735.6" r="2.8"/>
<circle cx="340.1" cy="752.6" r="2.8"/>
<circle cx="305.4" cy="854.4" r="2.8"/>
<circle cx="345.6" cy="863.1" r="2.8"/>
<circle cx="347.8" cy="814.5" r="2.8"/>
<circle cx="309.7" cy="826.4" r="2.8"/>
<circle cx="293.4" cy="825.6" r="2.8"/>
<circle cx="335.0" cy="838.9" r="2.8"/>
<circle cx="363.3" cy="807.8" r="2.8"/>
<circle cx="363.6" cy="815.3" r="2.8"/>
<circle cx="339.0" cy="799.4" r="2.8"/>
<circle cx="391.6" cy="800.1" r="2.8"/>
<circle cx="338.2" cy="777.3" r="2.8"/>
<circle cx="350.2" cy="806.8" r="2.8"/>
<circle cx="333.7" cy="776.3" r="2.8"/>
<circle cx="322.6" cy="800.0" r="2.8"/>
<circle cx="348.9" cy="862.9" r="2.8"/>
<circle cx="368.2" cy="824.5" r="2.8"/>
<circle cx="337.5" cy="796.3" r="2.8"/>
<circle cx="317.2" cy="790.5" r="2.8"/>
<circle cx="384.0" cy="799.3" r="2.8"/>
<circle cx="341.5" cy="818.7" r="2.8"/>
<circle cx="364.4" cy="841.2" r="2.8"/>
<circle cx="328.3" cy="861.1" r="2.8"/>
<circle cx="353.6" cy="854.8" r="2.8"/>
<circle cx="338.5" cy="820.7" r="2.8"/>
<circle cx="313.1" cy="811.7" r="2.8"/>
<circle cx="347.7" cy="836.0" r="2.8"/>
<circle cx="334.5" cy="846.7" r="2.8"/>
<circle cx="355.4" cy="784.7" r="2.8"/>
<circle cx="313.0" cy="791.2" r="2.8"/>
<circle cx="319.2" cy="794.3" r="2.8"/>
<circle cx="343.7" cy="808.2" r="2.8"/>
<circle cx="376.0" cy="816.4" r="2.8"/>
<circle cx="337.8" cy="824.8" r="2.8"/>
<circle cx="312.2" cy="801.0" r="2.8"/>
<circle cx="300.5" cy="821.3" r="2.8"/>
<circle cx="350.3" cy="856.5" r="2.8"/>
<circle cx="288.7" cy="816.4" r="2.8"/>
<circle cx="335.9" cy="843.8" r="2.8"/>
<circle cx="333.7" cy="781.4" r="2.8"/>
<circle cx="368.8" cy="796.5" r="2.8"/>
<circle cx="322.4" cy="787.2" r="2.8"/>
<circle cx="297.0" cy="828.5" r="2.8"/>
<circle cx="344.1" cy="795.2" r="2.8"/>
<circle cx="352.0" cy="803.9" r="2.8"/>
<circle cx="304.1" cy="846.1" r="2.8"/>
<circle cx="364.9" cy="794.0" r="2.8"/>
<circle cx="389.8" cy="821.6" r="2.8"/>
<circle cx="347.3" cy="850.1" r="2.8"/>
<circle cx="394.8" cy="842.4" r="2.8"/>
<circle cx="297.4" cy="844.6" r="2.8"/>
<circle cx="331.8" cy="846.8" r="2.8"/>
<circle cx="349.1" cy="819.1" r="2.8"/>
<circle cx="320.0" cy="836.9" r="2.8"/>
<circle cx="290.8" cy="819.7" r="2.8"/>
<circle cx="329.6" cy="793.4" r="2.8"/>
<circle cx="343.1" cy="802.3" r="2.8"/>
<circle cx="380.6" cy="793.3" r="2.8"/>
<circle cx="380.3" cy="812.9" r="2.8"/>
<circle cx="347.7" cy="780.7" r="2.8"/>
<circle cx="306.9" cy="834.3" r="2.8"/>
<circle cx="388.6" cy="841.7" r="2.8"/>
<circle cx="323.7" cy="813.1" r="2.8"/>
<circle cx="407.3" cy="816.4" r="2.8"/>
<circle cx="378.4" cy="815.5" r="2.8"/>
<circle cx="316.1" cy="809.7" r="2.8"/>
<circle cx="311.5" cy="789.9" r="2.8"/>
<circle cx="344.3" cy="774.7" r="2.8"/>
<circle cx="332.9" cy="811.3" r="2.8"/>
<circle cx="355.2" cy="796.6" r="2.8"/>
<circle cx="307.3" cy="849.4" r="2.8"/>
<circle cx="326.5" cy="775.4" r="2.8"/>
<circle cx="341.9" cy="842.8" r="2.8"/>
<circle cx="357.4" cy="796.1" r="2.8"/>
<circle cx="320.7" cy="848.7" r="2.8"/>
<circle cx="330.7" cy="826.8" r="2.8"/>
<circle cx="321.0" cy="809.6" r="2.8"/>
<circle cx="316.8" cy="854.8" r="2.8"/>
<circle cx="322.4" cy="863.0" r="2.8"/>
<circle cx="387.6" cy="823.9" r="2.8"/>
<circle cx="319.7" cy="791.2" r="2.8"/>
<circle cx="320.6" cy="817.5" r="2.8"/>
<circle cx="370.2" cy="798.6" r="2.8"/>
<circle cx="337.6" cy="867.0" r="2.8"/>
<circle cx="385.3" cy="849.3" r="2.8"/>
<circle cx="384.5" cy="822.2" r="2.8"/>
<circle cx="323.5" cy="834.6" r="2.8"/>
<circle cx="389.0" cy="817.3" r="2.8"/>
<circle cx="397.6" cy="820.6" r="2.8"/>
<circle cx="378.0" cy="798.1" r="2.8"/>
<circle cx="314.8" cy="812.7" r="2.8"/>
<circle cx="332.1" cy="854.8" r="2.8"/>
<circle cx="408.9" cy="832.5" r="2.8"/>
<circle cx="356.1" cy="812.2" r="2.8"/>
<circle cx="329.7" cy="802.9" r="2.8"/>
<circle cx="321.6" cy="770.9" r="2.8"/>
<circle cx="370.3" cy="794.1" r="2.8"/>
<circle cx="312.4" cy="849.9" r="2.8"/>
<circle cx="327.2" cy="808.6" r="2.8"/>
<circle cx="335.1" cy="797.7" r="2.8"/>
<circle cx="316.4" cy="840.7" r="2.8"/>
<circle cx="333.9" cy="829.7" r="2.8"/>
<circle cx="332.1" cy="774.6" r="2.8"/>
<circle cx="373.1" cy="809.4" r="2.8"/>
<circle cx="382.1" cy="800.9" r="2.8"/>
<circle cx="381.5" cy="838.1" r="2.8"/>
<circle cx="346.5" cy="798.6" r="2.8"/>
<circle cx="322.5" cy="773.0" r="2.8"/>
<circle cx="403.1" cy="839.7" r="2.8"/>
<circle cx="358.8" cy="813.3" r="2.8"/>
<circle cx="376.5" cy="851.9" r="2.8"/>
<circle cx="409.3" cy="824.0" r="2.8"/>
<circle cx="313.2" cy="784.2" r="2.8"/>
<circle cx="346.6" cy="844.3" r="2.8"/>
<circle cx="358.2" cy="792.8" r="2.8"/>
<circle cx="379.2" cy="822.6" r="2.8"/>
<circle cx="355.0" cy="837.0" r="2.8"/>
<circle cx="372.0" cy="845.7" r="2.8"/>
<circle cx="361.2" cy="828.4" r="2.8"/>
<circle cx="318.5" cy="786.7" r="2.8"/>
<circle cx="349.7" cy="838.7" r="2.8"/>
<circle cx="364.3" cy="785.2" r="2.8"/>
<circle cx="373.9" cy="797.1" r="2.8"/>
<circle cx="297.4" cy="850.3" r="2.8"/>
<circle cx="372.3" cy="813.7" r="2.8"/>
<circle cx="330.9" cy="814.4" r="2.8"/>
<circle cx="326.4" cy="785.2" r="2.8"/>
<circle cx="363.2" cy="787.6" r="2.8"/>
<circle cx="305.3" cy="858.7" r="2.8"/>
<circle cx="395.1" cy="808.4" r="2.8"/>
<circle cx="340.2" cy="815.5" r="2.8"/>
<circle cx="322.6" cy="842.2" r="2.8"/>
<circle cx="343.6" cy="831.3" r="2.8"/>
<circle cx="363.0" cy="847.3" r="2.8"/>
<circle cx="376.5" cy="840.9" r="2.8"/>
<circle cx="307.4" cy="826.6" r="2.8"/>
<circle cx="309.0" cy="824.0" r="2.8"/>
<circle cx="312.1" cy="795.7" r="2.8"/>
<circle cx="374.7" cy="838.4" r="2.8"/>
<circle cx="345.3" cy="789.6" r="2.8"/>
<circle cx="343.1" cy="838.8" r="2.8"/>
<circle cx="397.3" cy="841.4" r="2.8"/>
<circle cx="312.3" cy="798.1" r="2.8"/>
<circle cx="343.2" cy="846.5" r="2.8"/>
<circle cx="322.0" cy="784.7" r="2.8"/>
<circle cx="358.6" cy="786.9" r="2.8"/>
<circle cx="347.4" cy="852.6" r="2.8"/>
<circle cx="310.4" cy="810.9" r="2.8"/>
<circle cx="365.6" cy="828.4" r="2.8"/>
<circle cx="398.4" cy="824.3" r="2.8"/>
<circle cx="375.1" cy="831.3" r="2.8"/>
<circle cx="342.7" cy="825.2" r="2.8"/>
<circle cx="391.3" cy="817.4" r="2.8"/>
<circle cx="332.5" cy="850.1" r="2.8"/>
<circle cx="388.1" cy="831.7" r="2.8"/>
<circle cx="341.0" cy="774.6" r="2.8"/>
<circle cx="307.4" cy="841.0" r="2.8"/>
<circle cx="354.9" cy="821.8" r="2.8"/>
<circle cx="369.5" cy="840.2" r="2.8"/>
<circle cx="336.1" cy="861.9" r="2.8"/>
<circle cx="377.5" cy="792.4" r="2.8"/>
<circle cx="313.9" cy="861.9" r="2.8"/>
<circle cx="372.2" cy="789.2" r="2.8"/>
<circle cx="364.2" cy="852.2" r="2.8"/>
<circle cx="351.6" cy="788.3" r="2.8"/>
<circle cx="366.9" cy="830.0" r="2.8"/>
<circle cx="371.9" cy="831.7" r="2.8"/>
<circle cx="323.3" cy="815.3" r="2.8"/>
<circle cx="362.2" cy="838.3" r="2.8"/>
<circle cx="374.3" cy="851.8" r="2.8"/>
<circle cx="352.9" cy="789.9" r="2.8"/>
<circle cx="393.3" cy="811.8" r="2.8"/>
<circle cx="403.3" cy="821.0" r="2.8"/>
<circle cx="329.6" cy="845.5" r="2.8"/>
<circle cx="300.7" cy="838.8" r="2.8"/>
<circle cx="361.5" cy="852.0" r="2.8"/>
<circle cx="335.1" cy="774.0" r="2.8"/>
<circle cx="334.8" cy="808.3" r="2.8"/>
<circle cx="343.5" cy="816.5" r="2.8"/>
<circle cx="337.9" cy="841.7" r="2.8"/>
<circle cx="353.5" cy="819.5" r="2.8"/>
<circle cx="298.7" cy="805.1" r="2.8"/>
<circle cx="368.1" cy="841.8" r="2.8"/>
<circle cx="376.3" cy="819.8" r="2.8"/>
<circle cx="319.8" cy="777.2" r="2.8"/>
<circle cx="299.4" cy="836.6" r="2.8"/>
<circle cx="358.4" cy="817.8" r="2.8"/>
<circle cx="314.8" cy="860.1" r="2.8"/>
<circle cx="391.6" cy="836.4" r="2.8"/>
<circle cx="363.6" cy="805.6" r="2.8"/>
<circle cx="355.1" cy="817.4" r="2.8"/>
<circle cx="349.8" cy="829.6" r="2.8"/>
<circle cx="365.4" cy="811.6" r="2.8"/>
<circle cx="313.4" cy="816.5" r="2.8"/>
<circle cx="322.2" cy="845.9" r="2.8"/>
<circle cx="375.3" cy="845.7" r="2.8"/>
<circle cx="333.2" cy="801.5" r="2.8"/>
<circle cx="341.7" cy="809.3" r="2.8"/>
<circle cx="386.4" cy="842.1" r="2.8"/>
<circle cx="309.9" cy="837.4" r="2.8"/>
<circle cx="380.5" cy="828.9" r="2.8"/>
<circle cx="307.4" cy="858.5" r="2.8"/>
<circle cx="408.7" cy="819.7" r="2.8"/>
<circle cx="321.4" cy="803.1" r="2.8"/>
<circle cx="385.5" cy="831.9" r="2.8"/>
<circle cx="339.1" cy="787.3" r="2.8"/>
<circle cx="322.9" cy="850.9" r="2.8"/>
<circle cx="317.7" cy="796.1" r="2.8"/>
<circle cx="303.5" cy="840.8" r="2.8"/>
<circle cx="358.5" cy="838.4" r="2.8"/>
<circle cx="295.9" cy="821.1" r="2.8"/>
<circle cx="326.3" cy="801.6" r="2.8"/>
<circle cx="325.1" cy="861.4" r="2.8"/>
<circle cx="337.3" cy="773.1" r="2.8"/>
<circle cx="358.5" cy="827.7" r="2.8"/>
<circle cx="364.6" cy="799.2" r="2.8"/>
<circle cx="316.0" cy="784.1" r="2.8"/>
<circle cx="360.5" cy="809.1" r="2.8"/>
<circle cx="392.8" cy="831.7" r="2.8"/>
<circle cx="340.1" cy="776.5" r="2.8"/>
<circle cx="389.6" cy="807.2" r="2.8"/>
<circle cx="299.1" cy="848.2" r="2.8"/>
<circle cx="313.0" cy="830.8" r="2.8"/>
<circle cx="372.3" cy="805.3" r="2.8"/>
<circle cx="309.3" cy="829.0" r="2.8"/>
<circle cx="324.5" cy="788.5" r="2.8"/>
<circle cx="329.8" cy="832.2" r="2.8"/>
<circle cx="309.4" cy="801.1" r="2.8"/>
<circle cx="336.8" cy="810.7" r="2.8"/>
<circle cx="306.2" cy="789.3" r="2.8"/>
<circle cx="302.8" cy="812.0" r="2.8"/>
<circle cx="331.1" cy="822.1" r="2.8"/>
<circle cx="357.8" cy="860.8" r="2.8"/>
<circle cx="381.9" cy="809.9" r="2.8"/>
<circle cx="375.7" cy="799.6" r="2.8"/>
<circle cx="361.8" cy="820.5" r="2.8"/>
<circle cx="386.2" cy="828.8" r="2.8"/>
<circle cx="321.9" cy="782.2" r="2.8"/>
<circle cx="319.0" cy="808.8" r="2.8"/>
<circle cx="359.0" cy="845.6" r="2.8"/>
<circle cx="379.1" cy="804.7" r="2.8"/>
<circle cx="300.9" cy="851.2" r="2.8"/>
<circle cx="360.3" cy="822.2" r="2.8"/>
<circle cx="336.5" cy="854.5" r="2.8"/>
<circle cx="379.3" cy="832.8" r="2.8"/>
<circle cx="339.5" cy="828.7" r="2.8"/>
<circle cx="333.2" cy="820.0" r="2.8"/>
<circle cx="328.7" cy="858.0" r="2.8"/>
<circle cx="399.7" cy="840.9" r="2.8"/>
<circle cx="310.9" cy="834.5" r="2.8"/>
<circle cx="323.5" cy="831.9" r="2.8"/>
<circle cx="303.2" cy="843.2" r="2.8"/>
<circle cx="386.1" cy="805.5" r="2.8"/>
<circle cx="322.6" cy="779.6" r="2.8"/>
<circle cx="385.9" cy="802.4" r="2.8"/>
<circle cx="344.6" cy="829.6" r="2.8"/>
<circle cx="310.3" cy="832.5" r="2.8"/>
<circle cx="362.6" cy="798.0" r="2.8"/>
<circle cx="350.3" cy="822.3" r="2.8"/>
<circle cx="327.8" cy="864.4" r="2.8"/>
<circle cx="334.1" cy="795.9" r="2.8"/>
<circle cx="323.8" cy="811.1" r="2.8"/>
<circle cx="350.0" cy="847.9" r="2.8"/>
<circle cx="373.8" cy="848.8" r="2.8"/>
<circle cx="306.6" cy="799.8" r="2.8"/>
<circle cx="328.8" cy="821.8" r="2.8"/>
<circle cx="319.3" cy="812.9" r="2.8"/>
<circle cx="388.5" cy="826.6" r="2.8"/>
<circle cx="339.8" cy="863.7" r="2.8"/>
<circle cx="333.7" cy="833.9" r="2.8"/>
<circle cx="315.0" cy="790.6" r="2.8"/>
<circle cx="350.5" cy="853.5" r="2.8"/>
<circle cx="370.1" cy="850.1" r="2.8"/>
<circle cx="362.5" cy="800.6" r="2.8"/>
<circle cx="331.1" cy="866.9" r="2.8"/>
<circle cx="372.7" cy="829.5" r="2.8"/>
<circle cx="319.4" cy="858.1" r="2.8"/>
<circle cx="325.5" cy="803.5" r="2.8"/>
<circle cx="344.1" cy="860.7" r="2.8"/>
<circle cx="368.4" cy="789.5" r="2.8"/>
<circle cx="340.0" cy="866.8" r="2.8"/>
<circle cx="320.0" cy="825.1" r="2.8"/>
<circle cx="329.9" cy="824.6" r="2.8"/>
<circle cx="398.8" cy="837.8" r="2.8"/>
<circle cx="316.5" cy="792.9" r="2.8"/>
<circle cx="383.5" cy="796.0" r="2.8"/>
<circle cx="309.1" cy="812.5" r="2.8"/>
<circle cx="298.1" cy="825.4" r="2.8"/>
<circle cx="352.0" cy="848.3" r="2.8"/>
<circle cx="351.5" cy="791.9" r="2.8"/>
<circle cx="361.6" cy="824.2" r="2.8"/>
<circle cx="375.7" cy="843.3" r="2.8"/>
<circle cx="316.4" cy="864.6" r="2.8"/>
<circle cx="343.2" cy="827.4" r="2.8"/>
<circle cx="291.0" cy="838.4" r="2.8"/>
<circle cx="331.6" cy="817.4" r="2.8"/>
<circle cx="362.9" cy="834.0" r="2.8"/>
<circle cx="295.0" cy="839.2" r="2.8"/>
<circle cx="349.2" cy="865.4" r="2.8"/>
<circle cx="385.2" cy="818.9" r="2.8"/>
<circle cx="331.4" cy="790.3" r="2.8"/>
<circle cx="369.2" cy="814.4" r="2.8"/>
<circle cx="388.0" cy="802.9" r="2.8"/>
<circle cx="330.8" cy="772.3" r="2.8"/>
<circle cx="396.0" cy="793.7" r="2.8"/>
<circle cx="312.9" cy="827.0" r="2.8"/>
<circle cx="337.4" cy="818.3" r="2.8"/>
<circle cx="329.6" cy="808.7" r="2.8"/>
<circle cx="355.9" cy="832.6" r="2.8"/>
<circle cx="337.8" cy="808.7" r="2.8"/>
<circle cx="365.4" cy="816.8" r="2.8"/>
<circle cx="338.7" cy="783.3" r="2.8"/>
<circle cx="338.1" cy="831.9" r="2.8"/>
<circle cx="301.8" cy="802.4" r="2.8"/>
<circle cx="328.1" cy="788.2" r="2.8"/>
<circle cx="326.8" cy="833.4" r="2.8"/>
<circle cx="367.8" cy="847.6" r="2.8"/>
<circle cx="332.2" cy="858.2" r="2.8"/>
<circle cx="368.3" cy="817.0" r="2.8"/>
<circle cx="367.7" cy="811.3" r="2.8"/>
<circle cx="398.0" cy="810.2" r="2.8"/>
<circle cx="385.7" cy="796.8" r="2.8"/>
<circle cx="319.9" cy="833.7" r="2.8"/>
<circle cx="376.4" cy="823.1" r="2.8"/>
<circle cx="366.5" cy="804.6" r="2.8"/>
<circle cx="367.0" cy="785.4" r="2.8"/>
<circle cx="335.0" cy="851.6" r="2.8"/>
<circle cx="353.6" cy="849.7" r="2.8"/>
<circle cx="304.3" cy="824.9" r="2.8"/>
<circle cx="384.1" cy="793.1" r="2.8"/>
<circle cx="396.5" cy="806.4" r="2.8"/>
<circle cx="333.7" cy="840.8" r="2.8"/>
<circle cx="390.5" cy="804.0" r="2.8"/>
<circle cx="347.1" cy="820.1" r="2.8"/>
<circle cx="366.0" cy="796.1" r="2.8"/>
<circle cx="320.9" cy="844.2" r="2.8"/>
<circle cx="349.5" cy="809.9" r="2.8"/>
<circle cx="309.6" cy="791.0" r="2.8"/>
<circle cx="321.4" cy="822.8" r="2.8"/>
<circle cx="316.9" cy="847.2" r="2.8"/>
<circle cx="327.1" cy="794.9" r="2.8"/>
<circle cx="310.0" cy="851.8" r="2.8"/>
<circle cx="301.2" cy="842.5" r="2.8"/>
<circle cx="297.2" cy="812.0" r="2.8"/>
<circle cx="299.1" cy="854.8" r="2.8"/>
<circle cx="386.9" cy="811.0" r="2.8"/>
<circle cx="396.4" cy="831.0" r="2.8"/>
<circle cx="358.2" cy="784.8" r="2.8"/>
<circle cx="342.2" cy="814.0" r="2.8"/>
<circle cx="327.2" cy="791.8" r="2.8"/>
<circle cx="352.0" cy="861.3" r="2.8"/>
<circle cx="324.3" cy="843.8" r="2.8"/>
<circle cx="316.1" cy="804.5" r="2.8"/>
<circle cx="344.2" cy="866.9" r="2.8"/>
<circle cx="389.8" cy="812.2" r="2.8"/>
<circle cx="307.2" cy="813.4" r="2.8"/>
<circle cx="318.9" cy="782.9" r="2.8"/>
<circle cx="383.0" cy="824.3" r="2.8"/>
<circle cx="394.3" cy="835.3" r="2.8"/>
<circle cx="373.8" cy="728.4" r="2.8"/>
<circle cx="388.1" cy="736.0" r="2.8"/>
<circle cx="368.3" cy="726.8" r="2.8"/>
<circle cx="377.3" cy="732.0" r="2.8"/>
<circle cx="384.6" cy="734.6" r="2.8"/>
<circle cx="372.0" cy="729.5" r="2.8"/>
<circle cx="375.6" cy="737.6" r="2.8"/>
<circle cx="365.0" cy="729.4" r="2.8"/>
<circle cx="380.2" cy="735.6" r="2.8"/>
<circle cx="371.7" cy="732.3" r="2.8"/>
<circle cx="371.3" cy="734.6" r="2.8"/>
<circle cx="373.5" cy="726.0" r="2.8"/>
<circle cx="376.4" cy="729.1" r="2.8"/>
<circle cx="364.4" cy="724.0" r="2.8"/>
<circle cx="399.6" cy="781.8" r="2.8"/>
<circle cx="402.1" cy="792.2" r="2.8"/>
<circle cx="398.6" cy="772.0" r="2.8"/>
<circle cx="402.8" cy="786.6" r="2.8"/>
<circle cx="402.2" cy="780.6" r="2.8"/>
<circle cx="399.3" cy="774.5" r="2.8"/>
<circle cx="401.0" cy="771.2" r="2.8"/>
<circle cx="399.6" cy="787.5" r="2.8"/>
<circle cx="399.4" cy="793.5" r="2.8"/>
<circle cx="392.6" cy="764.8" r="2.8"/>
<circle cx="394.7" cy="770.9" r="2.8"/>
<circle cx="393.3" cy="768.0" r="2.8"/>
<circle cx="403.1" cy="775.9" r="2.8"/>
<circle cx="401.5" cy="778.5" r="2.8"/>
<circle cx="400.4" cy="768.1" r="2.8"/>
<circle cx="395.3" cy="767.0" r="2.8"/>
<circle cx="396.0" cy="779.1" r="2.8"/>
<circle cx="401.2" cy="794.6" r="2.8"/>
<circle cx="396.4" cy="769.8" r="2.8"/>
<circle cx="398.0" cy="764.7" r="2.8"/>
<circle cx="406.7" cy="792.0" r="2.8"/>
<circle cx="399.1" cy="784.1" r="2.8"/>
<circle cx="424.8" cy="838.6" r="2.8"/>
<circle cx="424.3" cy="835.1" r="2.8"/>
<circle cx="428.9" cy="825.9" r="2.8"/>
<circle cx="417.7" cy="835.8" r="2.8"/>
<circle cx="407.2" cy="836.4" r="2.8"/>
<circle cx="396.9" cy="802.4" r="2.8"/>
<circle cx="399.2" cy="818.5" r="2.8"/>
<circle cx="401.8" cy="826.6" r="2.8"/>
<circle cx="414.2" cy="837.4" r="2.8"/>
<circle cx="412.4" cy="820.3" r="2.8"/>
<circle cx="421.0" cy="825.6" r="2.8"/>
<circle cx="408.2" cy="834.2" r="2.8"/>
<circle cx="398.1" cy="806.4" r="2.8"/>
<circle cx="410.2" cy="836.1" r="2.8"/>
<circle cx="425.3" cy="830.2" r="2.8"/>
<circle cx="400.0" cy="811.3" r="2.8"/>
<circle cx="419.7" cy="820.2" r="2.8"/>
<circle cx="410.2" cy="843.2" r="2.8"/>
<circle cx="404.2" cy="809.5" r="2.8"/>
<circle cx="416.9" cy="822.0" r="2.8"/>
<circle cx="427.5" cy="834.6" r="2.8"/>
<circle cx="405.4" cy="833.1" r="2.8"/>
<circle cx="402.0" cy="830.2" r="2.8"/>
<circle cx="406.6" cy="805.7" r="2.8"/>
<circle cx="403.0" cy="825.1" r="2.8"/>
<circle cx="408.3" cy="812.2" r="2.8"/>
<circle cx="425.5" cy="821.0" r="2.8"/>
<circle cx="400.1" cy="807.3" r="2.8"/>
<circle cx="394.3" cy="803.3" r="2.8"/>
<circle cx="408.0" cy="841.7" r="2.8"/>
<circle cx="398.7" cy="825.2" r="2.8"/>
<circle cx="412.5" cy="839.1" r="2.8"/>
<circle cx="408.8" cy="823.2" r="2.8"/>
<circle cx="429.0" cy="839.4" r="2.8"/>
<circle cx="411.4" cy="813.7" r="2.8"/>
<circle cx="388.3" cy="743.7" r="2.8"/>
<circle cx="375.0" cy="748.3" r="2.8"/>
<circle cx="375.0" cy="755.0" r="2.8"/>
<circle cx="386.7" cy="760.0" r="2.8"/>
<circle cx="380.8" cy="764.2" r="2.8"/>
<circle cx="314.2" cy="770.8" r="2.8"/>
<circle cx="317.5" cy="768.3" r="2.8"/>
<circle cx="317.5" cy="758.3" r="2.8"/>
<circle cx="372.8" cy="857.5" r="2.8"/>
<circle cx="346.7" cy="868.3" r="2.8"/>
<circle cx="386.7" cy="862.5" r="2.8"/>
<circle cx="405.0" cy="847.5" r="2.8"/>
<circle cx="411.7" cy="841.7" r="2.8"/>
<circle cx="433.2" cy="834.6" r="2.8"/>
<circle cx="429.7" cy="826.7" r="2.8"/>
<circle cx="431.3" cy="831.9" r="2.8"/>
<circle cx="471.3" cy="858.5" r="2.8"/>
<circle cx="495.9" cy="880.6" r="2.8"/>
<circle cx="498.2" cy="880.2" r="2.8"/>
<circle cx="503.9" cy="875.0" r="2.8"/>
<circle cx="494.1" cy="883.1" r="2.8"/>
<circle cx="472.0" cy="866.7" r="2.8"/>
<circle cx="468.0" cy="855.1" r="2.8"/>
<circle cx="511.8" cy="875.7" r="2.8"/>
<circle cx="494.6" cy="872.6" r="2.8"/>
<circle cx="468.9" cy="859.6" r="2.8"/>
<circle cx="484.2" cy="867.9" r="2.8"/>
<circle cx="480.6" cy="860.1" r="2.8"/>
<circle cx="464.4" cy="855.5" r="2.8"/>
<circle cx="441.5" cy="832.4" r="2.8"/>
<circle cx="475.0" cy="852.8" r="2.8"/>
<circle cx="489.6" cy="875.5" r="2.8"/>
<circle cx="459.2" cy="840.3" r="2.8"/>
<circle cx="461.1" cy="843.3" r="2.8"/>
<circle cx="494.9" cy="875.3" r="2.8"/>
<circle cx="442.2" cy="844.4" r="2.8"/>
<circle cx="470.6" cy="849.6" r="2.8"/>
<circle cx="444.3" cy="834.2" r="2.8"/>
<circle cx="445.2" cy="846.2" r="2.8"/>
<circle cx="486.2" cy="868.5" r="2.8"/>
<circle cx="464.2" cy="845.1" r="2.8"/>
<circle cx="457.5" cy="846.8" r="2.8"/>
<circle cx="465.4" cy="843.3" r="2.8"/>
<circle cx="460.9" cy="852.8" r="2.8"/>
<circle cx="454.6" cy="855.6" r="2.8"/>
<circle cx="500.0" cy="871.7" r="2.8"/>
<circle cx="433.7" cy="825.0" r="2.8"/>
<circle cx="467.1" cy="850.3" r="2.8"/>
<circle cx="497.4" cy="877.0" r="2.8"/>
<circle cx="429.5" cy="835.4" r="2.8"/>
<circle cx="495.1" cy="865.9" r="2.8"/>
<circle cx="459.2" cy="859.3" r="2.8"/>
<circle cx="504.9" cy="873.2" r="2.8"/>
<circle cx="473.6" cy="859.1" r="2.8"/>
<circle cx="485.9" cy="873.4" r="2.8"/>
<circle cx="451.0" cy="840.1" r="2.8"/>
<circle cx="490.6" cy="866.9" r="2.8"/>
<circle cx="482.0" cy="864.9" r="2.8"/>
<circle cx="452.9" cy="843.6" r="2.8"/>
<circle cx="500.5" cy="879.4" r="2.8"/>
<circle cx="453.5" cy="840.6" r="2.8"/>
<circle cx="485.9" cy="877.1" r="2.8"/>
<circle cx="472.5" cy="862.3" r="2.8"/>
<circle cx="437.6" cy="840.9" r="2.8"/>
<circle cx="448.8" cy="849.8" r="2.8"/>
<circle cx="464.9" cy="858.4" r="2.8"/>
<circle cx="476.3" cy="848.9" r="2.8"/>
<circle cx="510.7" cy="872.2" r="2.8"/>
<circle cx="492.5" cy="865.7" r="2.8"/>
<circle cx="475.7" cy="869.8" r="2.8"/>
<circle cx="432.7" cy="827.3" r="2.8"/>
<circle cx="478.9" cy="856.8" r="2.8"/>
<circle cx="473.4" cy="849.5" r="2.8"/>
<circle cx="507.0" cy="878.8" r="2.8"/>
<circle cx="439.2" cy="831.5" r="2.8"/>
<circle cx="476.2" cy="865.4" r="2.8"/>
<circle cx="476.5" cy="860.5" r="2.8"/>
<circle cx="505.4" cy="881.3" r="2.8"/>
<circle cx="502.1" cy="871.4" r="2.8"/>
<circle cx="458.6" cy="856.7" r="2.8"/>
<circle cx="464.9" cy="866.2" r="2.8"/>
<circle cx="456.8" cy="851.2" r="2.8"/>
<circle cx="459.3" cy="849.1" r="2.8"/>
<circle cx="509.7" cy="880.2" r="2.8"/>
<circle cx="494.0" cy="870.6" r="2.8"/>
<circle cx="471.2" cy="846.3" r="2.8"/>
<circle cx="435.4" cy="841.7" r="2.8"/>
<circle cx="469.2" cy="852.3" r="2.8"/>
<circle cx="472.2" cy="852.9" r="2.8"/>
<circle cx="474.7" cy="862.3" r="2.8"/>
<circle cx="491.8" cy="871.1" r="2.8"/>
<circle cx="469.8" cy="868.0" r="2.8"/>
<circle cx="504.6" cy="883.5" r="2.8"/>
<circle cx="444.3" cy="842.1" r="2.8"/>
<circle cx="466.2" cy="853.7" r="2.8"/>
<circle cx="502.6" cy="879.6" r="2.8"/>
<circle cx="489.0" cy="878.7" r="2.8"/>
<circle cx="432.9" cy="840.3" r="2.8"/>
<circle cx="434.5" cy="832.5" r="2.8"/>
<circle cx="442.8" cy="840.5" r="2.8"/>
<circle cx="463.6" cy="863.7" r="2.8"/>
<circle cx="464.0" cy="852.7" r="2.8"/>
<circle cx="484.1" cy="862.8" r="2.8"/>
<circle cx="480.6" cy="862.3" r="2.8"/>
<circle cx="488.1" cy="870.2" r="2.8"/>
<circle cx="439.9" cy="844.5" r="2.8"/>
<circle cx="454.2" cy="847.4" r="2.8"/>
<circle cx="440.7" cy="846.4" r="2.8"/>
<circle cx="460.0" cy="862.1" r="2.8"/>
<circle cx="466.5" cy="860.4" r="2.8"/>
<circle cx="464.5" cy="850.7" r="2.8"/>
<circle cx="432.8" cy="830.3" r="2.8"/>
<circle cx="490.4" cy="880.8" r="2.8"/>
<circle cx="448.1" cy="840.6" r="2.8"/>
<circle cx="502.1" cy="882.3" r="2.8"/>
<circle cx="480.8" cy="868.8" r="2.8"/>
<circle cx="473.7" cy="864.2" r="2.8"/>
<circle cx="430.3" cy="823.2" r="2.8"/>
<circle cx="497.9" cy="873.3" r="2.8"/>
<circle cx="437.2" cy="833.8" r="2.8"/>
<circle cx="462.6" cy="858.8" r="2.8"/>
<circle cx="435.9" cy="839.7" r="2.8"/>
<circle cx="429.5" cy="833.1" r="2.8"/>
<circle cx="448.9" cy="844.9" r="2.8"/>
<circle cx="435.7" cy="836.6" r="2.8"/>
<circle cx="467.2" cy="847.4" r="2.8"/>
<circle cx="436.9" cy="830.4" r="2.8"/>
<circle cx="449.7" cy="854.0" r="2.8"/>
<circle cx="446.7" cy="860.0" r="2.8"/>
<circle cx="450.7" cy="858.0" r="2.8"/>
<circle cx="456.3" cy="864.9" r="2.8"/>
<circle cx="462.4" cy="871.6" r="2.8"/>
<circle cx="506.7" cy="884.0" r="2.8"/>
<circle cx="552.3" cy="794.0" r="2.8"/>
<circle cx="509.1" cy="922.4" r="2.8"/>
<circle cx="511.6" cy="935.3" r="2.8"/>
<circle cx="517.7" cy="966.7" r="2.8"/>
<circle cx="518.4" cy="970.0" r="2.8"/>
<circle cx="519.3" cy="973.3" r="2.8"/>
<circle cx="521.3" cy="976.0" r="2.8"/>
<circle cx="522.7" cy="980.0" r="2.8"/>
<circle cx="518.7" cy="991.3" r="2.8"/>
<circle cx="520.7" cy="994.7" r="2.8"/>
<circle cx="529.3" cy="988.0" r="2.8"/>
<circle cx="534.0" cy="990.7" r="2.8"/>
<circle cx="534.7" cy="995.3" r="2.8"/>
<circle cx="535.3" cy="1004.0" r="2.8"/>
<circle cx="530.7" cy="1014.7" r="2.8"/>
<circle cx="516.0" cy="1015.3" r="2.8"/>
<circle cx="515.3" cy="1019.3" r="2.8"/>
<circle cx="521.3" cy="1020.0" r="2.8"/>
<circle cx="526.7" cy="1017.3" r="2.8"/>
<circle cx="479.6" cy="1029.3" r="2.8"/>
<circle cx="443.3" cy="1040.4" r="2.8"/>
<circle cx="440.7" cy="1042.4" r="2.8"/>
<circle cx="650.6" cy="675.3" r="2.8"/>
<circle cx="635.8" cy="686.0" r="2.8"/>
<circle cx="612.8" cy="672.6" r="2.8"/>
<circle cx="610.7" cy="693.0" r="2.8"/>
<circle cx="614.6" cy="667.2" r="2.8"/>
<circle cx="632.8" cy="694.0" r="2.8"/>
<circle cx="605.2" cy="676.2" r="2.8"/>
<circle cx="618.8" cy="700.2" r="2.8"/>
<circle cx="638.6" cy="688.6" r="2.8"/>
<circle cx="605.0" cy="657.5" r="2.8"/>
<circle cx="607.1" cy="682.8" r="2.8"/>
<circle cx="623.6" cy="650.9" r="2.8"/>
<circle cx="607.6" cy="689.6" r="2.8"/>
<circle cx="603.3" cy="678.6" r="2.8"/>
<circle cx="655.9" cy="686.2" r="2.8"/>
<circle cx="605.9" cy="650.7" r="2.8"/>
<circle cx="618.8" cy="669.8" r="2.8"/>
<circle cx="626.6" cy="691.4" r="2.8"/>
<circle cx="596.0" cy="682.0" r="2.8"/>
<circle cx="625.3" cy="657.0" r="2.8"/>
<circle cx="647.1" cy="684.0" r="2.8"/>
<circle cx="605.5" cy="661.5" r="2.8"/>
<circle cx="653.1" cy="679.9" r="2.8"/>
<circle cx="641.3" cy="702.4" r="2.8"/>
<circle cx="634.6" cy="703.0" r="2.8"/>
<circle cx="634.6" cy="700.9" r="2.8"/>
<circle cx="611.0" cy="671.9" r="2.8"/>
<circle cx="606.0" cy="677.9" r="2.8"/>
<circle cx="612.0" cy="658.0" r="2.8"/>
<circle cx="623.3" cy="688.4" r="2.8"/>
<circle cx="603.7" cy="689.9" r="2.8"/>
<circle cx="602.5" cy="696.9" r="2.8"/>
<circle cx="645.5" cy="680.3" r="2.8"/>
<circle cx="635.7" cy="670.8" r="2.8"/>
<circle cx="602.3" cy="685.1" r="2.8"/>
<circle cx="622.0" cy="682.7" r="2.8"/>
<circle cx="611.0" cy="665.3" r="2.8"/>
<circle cx="623.3" cy="654.4" r="2.8"/>
<circle cx="626.5" cy="668.9" r="2.8"/>
<circle cx="640.4" cy="672.6" r="2.8"/>
<circle cx="634.7" cy="675.5" r="2.8"/>
<circle cx="617.6" cy="679.6" r="2.8"/>
<circle cx="611.1" cy="702.0" r="2.8"/>
<circle cx="637.1" cy="667.1" r="2.8"/>
<circle cx="599.0" cy="653.9" r="2.8"/>
<circle cx="619.5" cy="665.9" r="2.8"/>
<circle cx="621.9" cy="658.4" r="2.8"/>
<circle cx="601.1" cy="683.2" r="2.8"/>
<circle cx="621.4" cy="693.9" r="2.8"/>
<circle cx="636.2" cy="702.6" r="2.8"/>
<circle cx="618.3" cy="646.9" r="2.8"/>
<circle cx="609.4" cy="688.5" r="2.8"/>
<circle cx="639.6" cy="670.3" r="2.8"/>
<circle cx="601.5" cy="647.8" r="2.8"/>
<circle cx="614.0" cy="686.7" r="2.8"/>
<circle cx="608.5" cy="648.0" r="2.8"/>
<circle cx="634.4" cy="672.8" r="2.8"/>
<circle cx="607.6" cy="655.5" r="2.8"/>
<circle cx="621.6" cy="699.1" r="2.8"/>
<circle cx="634.0" cy="664.1" r="2.8"/>
<circle cx="620.5" cy="686.5" r="2.8"/>
<circle cx="638.9" cy="690.6" r="2.8"/>
<circle cx="622.6" cy="695.6" r="2.8"/>
<circle cx="661.1" cy="687.4" r="2.8"/>
<circle cx="621.7" cy="689.4" r="2.8"/>
<circle cx="612.7" cy="667.2" r="2.8"/>
<circle cx="638.7" cy="701.3" r="2.8"/>
<circle cx="640.9" cy="684.8" r="2.8"/>
<circle cx="620.4" cy="663.4" r="2.8"/>
<circle cx="625.6" cy="674.0" r="2.8"/>
<circle cx="600.7" cy="676.7" r="2.8"/>
<circle cx="651.3" cy="664.8" r="2.8"/>
<circle cx="632.1" cy="659.8" r="2.8"/>
<circle cx="623.5" cy="658.1" r="2.8"/>
<circle cx="619.5" cy="657.1" r="2.8"/>
<circle cx="607.8" cy="665.6" r="2.8"/>
<circle cx="625.3" cy="664.8" r="2.8"/>
<circle cx="647.1" cy="675.9" r="2.8"/>
<circle cx="632.3" cy="669.4" r="2.8"/>
<circle cx="600.0" cy="703.0" r="2.8"/>
<circle cx="615.6" cy="672.9" r="2.8"/>
<circle cx="597.9" cy="684.2" r="2.8"/>
<circle cx="611.5" cy="678.3" r="2.8"/>
<circle cx="602.2" cy="660.3" r="2.8"/>
<circle cx="647.3" cy="658.0" r="2.8"/>
<circle cx="607.2" cy="663.0" r="2.8"/>
<circle cx="593.8" cy="668.8" r="2.8"/>
<circle cx="617.1" cy="682.6" r="2.8"/>
<circle cx="629.7" cy="678.1" r="2.8"/>
<circle cx="628.8" cy="666.0" r="2.8"/>
<circle cx="609.7" cy="696.2" r="2.8"/>
<circle cx="640.7" cy="679.6" r="2.8"/>
<circle cx="599.3" cy="666.5" r="2.8"/>
<circle cx="607.0" cy="700.7" r="2.8"/>
<circle cx="607.3" cy="674.6" r="2.8"/>
<circle cx="628.9" cy="706.5" r="2.8"/>
<circle cx="614.9" cy="693.9" r="2.8"/>
<circle cx="625.1" cy="705.0" r="2.8"/>
<circle cx="599.9" cy="690.7" r="2.8"/>
<circle cx="641.7" cy="669.6" r="2.8"/>
<circle cx="629.8" cy="673.2" r="2.8"/>
<circle cx="642.7" cy="674.5" r="2.8"/>
<circle cx="605.9" cy="668.8" r="2.8"/>
<circle cx="633.6" cy="688.1" r="2.8"/>
<circle cx="605.1" cy="692.3" r="2.8"/>
<circle cx="594.5" cy="679.2" r="2.8"/>
<circle cx="616.9" cy="667.6" r="2.8"/>
<circle cx="616.0" cy="657.3" r="2.8"/>
<circle cx="611.1" cy="654.6" r="2.8"/>
<circle cx="599.0" cy="647.8" r="2.8"/>
<circle cx="595.5" cy="665.9" r="2.8"/>
<circle cx="654.8" cy="689.9" r="2.8"/>
<circle cx="649.4" cy="687.0" r="2.8"/>
<circle cx="642.6" cy="700.7" r="2.8"/>
<circle cx="617.0" cy="659.7" r="2.8"/>
<circle cx="597.3" cy="677.6" r="2.8"/>
<circle cx="606.5" cy="702.5" r="2.8"/>
<circle cx="623.4" cy="649.0" r="2.8"/>
<circle cx="647.9" cy="689.9" r="2.8"/>
<circle cx="607.4" cy="680.1" r="2.8"/>
<circle cx="616.8" cy="685.1" r="2.8"/>
<circle cx="609.9" cy="646.7" r="2.8"/>
<circle cx="645.0" cy="683.0" r="2.8"/>
<circle cx="639.9" cy="657.7" r="2.8"/>
<circle cx="635.9" cy="681.7" r="2.8"/>
<circle cx="632.3" cy="675.1" r="2.8"/>
<circle cx="620.0" cy="697.1" r="2.8"/>
<circle cx="639.5" cy="685.6" r="2.8"/>
<circle cx="623.7" cy="675.6" r="2.8"/>
<circle cx="630.0" cy="688.9" r="2.8"/>
<circle cx="602.6" cy="667.4" r="2.8"/>
<circle cx="630.7" cy="686.6" r="2.8"/>
<circle cx="619.1" cy="682.8" r="2.8"/>
<circle cx="612.6" cy="693.0" r="2.8"/>
<circle cx="630.9" cy="655.4" r="2.8"/>
<circle cx="645.7" cy="662.8" r="2.8"/>
<circle cx="645.6" cy="658.7" r="2.8"/>
<circle cx="603.2" cy="703.0" r="2.8"/>
<circle cx="600.4" cy="664.4" r="2.8"/>
<circle cx="642.5" cy="656.2" r="2.8"/>
<circle cx="609.1" cy="674.1" r="2.8"/>
<circle cx="619.0" cy="651.9" r="2.8"/>
<circle cx="613.3" cy="670.9" r="2.8"/>
<circle cx="627.4" cy="672.9" r="2.8"/>
<circle cx="604.0" cy="659.1" r="2.8"/>
<circle cx="617.8" cy="674.2" r="2.8"/>
<circle cx="623.2" cy="684.2" r="2.8"/>
<circle cx="647.7" cy="682.3" r="2.8"/>
<circle cx="626.1" cy="671.7" r="2.8"/>
<circle cx="641.8" cy="660.0" r="2.8"/>
<circle cx="612.2" cy="644.9" r="2.8"/>
<circle cx="655.9" cy="681.9" r="2.8"/>
<circle cx="623.3" cy="667.7" r="2.8"/>
<circle cx="640.9" cy="663.9" r="2.8"/>
<circle cx="598.3" cy="649.4" r="2.8"/>
<circle cx="642.2" cy="682.9" r="2.8"/>
<circle cx="653.0" cy="689.2" r="2.8"/>
<circle cx="636.0" cy="677.8" r="2.8"/>
<circle cx="613.2" cy="698.2" r="2.8"/>
<circle cx="623.4" cy="652.6" r="2.8"/>
<circle cx="652.1" cy="684.4" r="2.8"/>
<circle cx="611.3" cy="661.2" r="2.8"/>
<circle cx="628.8" cy="697.0" r="2.8"/>
<circle cx="604.6" cy="663.6" r="2.8"/>
<circle cx="618.2" cy="704.2" r="2.8"/>
<circle cx="628.2" cy="659.2" r="2.8"/>
<circle cx="616.0" cy="700.8" r="2.8"/>
<circle cx="603.5" cy="672.9" r="2.8"/>
<circle cx="623.1" cy="661.8" r="2.8"/>
<circle cx="632.7" cy="706.4" r="2.8"/>
<circle cx="653.8" cy="691.6" r="2.8"/>
<circle cx="647.5" cy="680.6" r="2.8"/>
<circle cx="623.2" cy="697.5" r="2.8"/>
<circle cx="617.0" cy="645.1" r="2.8"/>
<circle cx="630.9" cy="676.1" r="2.8"/>
<circle cx="664.7" cy="693.7" r="2.8"/>
<circle cx="670.2" cy="720.1" r="2.8"/>
<circle cx="670.8" cy="714.6" r="2.8"/>
<circle cx="666.0" cy="702.1" r="2.8"/>
<circle cx="678.9" cy="721.1" r="2.8"/>
<circle cx="667.5" cy="711.5" r="2.8"/>
<circle cx="666.5" cy="704.6" r="2.8"/>
<circle cx="664.8" cy="708.0" r="2.8"/>
<circle cx="677.5" cy="724.2" r="2.8"/>
<circle cx="662.1" cy="697.2" r="2.8"/>
<circle cx="677.5" cy="713.7" r="2.8"/>
<circle cx="676.8" cy="732.0" r="2.8"/>
<circle cx="677.2" cy="737.2" r="2.8"/>
<circle cx="676.3" cy="729.3" r="2.8"/>
<circle cx="674.3" cy="710.6" r="2.8"/>
<circle cx="669.8" cy="716.4" r="2.8"/>
<circle cx="679.5" cy="710.6" r="2.8"/>
<circle cx="668.9" cy="703.5" r="2.8"/>
<circle cx="671.8" cy="704.2" r="2.8"/>
<circle cx="670.7" cy="712.5" r="2.8"/>
<circle cx="673.2" cy="715.6" r="2.8"/>
<circle cx="675.7" cy="726.8" r="2.8"/>
<circle cx="668.8" cy="696.9" r="2.8"/>
<circle cx="679.5" cy="726.8" r="2.8"/>
<circle cx="666.6" cy="698.9" r="2.8"/>
<circle cx="672.5" cy="707.9" r="2.8"/>
<circle cx="680.4" cy="729.0" r="2.8"/>
<circle cx="668.9" cy="708.1" r="2.8"/>
<circle cx="650.7" cy="708.0" r="2.8"/>
<circle cx="652.0" cy="711.3" r="2.8"/>
<circle cx="656.7" cy="706.0" r="2.8"/>
<circle cx="658.7" cy="710.7" r="2.8"/>
<circle cx="660.0" cy="713.3" r="2.8"/>
<circle cx="596.0" cy="718.7" r="2.8"/>
<circle cx="596.0" cy="722.0" r="2.8"/>
<circle cx="629.0" cy="697.1" r="2.8"/>
<circle cx="634.7" cy="702.7" r="2.8"/>
<circle cx="644.7" cy="704.5" r="2.8"/>
<circle cx="635.6" cy="705.6" r="2.8"/>
<circle cx="641.0" cy="697.5" r="2.8"/>
<circle cx="629.8" cy="693.2" r="2.8"/>
<circle cx="631.7" cy="696.7" r="2.8"/>
<circle cx="625.0" cy="703.5" r="2.8"/>
<circle cx="640.3" cy="702.5" r="2.8"/>
<circle cx="628.4" cy="701.0" r="2.8"/>
<circle cx="632.8" cy="706.7" r="2.8"/>
<circle cx="638.5" cy="689.9" r="2.8"/>
<circle cx="643.9" cy="697.5" r="2.8"/>
<circle cx="636.0" cy="696.1" r="2.8"/>
<circle cx="640.7" cy="691.5" r="2.8"/>
<circle cx="555.5" cy="770.5" r="2.8"/>
<circle cx="559.4" cy="784.7" r="2.8"/>
<circle cx="546.1" cy="769.6" r="2.8"/>
<circle cx="563.2" cy="771.3" r="2.8"/>
<circle cx="554.0" cy="763.0" r="2.8"/>
<circle cx="566.7" cy="774.9" r="2.8"/>
<circle cx="541.1" cy="768.3" r="2.8"/>
<circle cx="560.3" cy="767.5" r="2.8"/>
<circle cx="569.4" cy="771.2" r="2.8"/>
<circle cx="552.9" cy="765.0" r="2.8"/>
<circle cx="559.3" cy="774.7" r="2.8"/>
<circle cx="547.6" cy="778.8" r="2.8"/>
<circle cx="566.9" cy="778.2" r="2.8"/>
<circle cx="555.6" cy="773.4" r="2.8"/>
<circle cx="545.7" cy="773.8" r="2.8"/>
<circle cx="564.0" cy="775.4" r="2.8"/>
<circle cx="549.5" cy="765.0" r="2.8"/>
<circle cx="572.1" cy="769.5" r="2.8"/>
<circle cx="551.2" cy="774.1" r="2.8"/>
<circle cx="548.6" cy="775.6" r="2.8"/>
<circle cx="570.2" cy="777.1" r="2.8"/>
<circle cx="553.4" cy="782.8" r="2.8"/>
<circle cx="548.2" cy="772.6" r="2.8"/>
<circle cx="565.4" cy="784.2" r="2.8"/>
<circle cx="577.9" cy="773.4" r="2.8"/>
<circle cx="563.0" cy="782.4" r="2.8"/>
<circle cx="550.0" cy="770.9" r="2.8"/>
<circle cx="552.6" cy="778.5" r="2.8"/>
<circle cx="557.3" cy="766.1" r="2.8"/>
<circle cx="562.8" cy="766.6" r="2.8"/>
<circle cx="571.2" cy="775.1" r="2.8"/>
<circle cx="575.5" cy="768.8" r="2.8"/>
<circle cx="561.1" cy="772.1" r="2.8"/>
<circle cx="580.9" cy="770.1" r="2.8"/>
<circle cx="575.9" cy="777.4" r="2.8"/>
<circle cx="564.4" cy="769.5" r="2.8"/>
<circle cx="570.0" cy="779.5" r="2.8"/>
<circle cx="572.8" cy="778.4" r="2.8"/>
<circle cx="545.2" cy="764.6" r="2.8"/>
<circle cx="549.1" cy="769.1" r="2.8"/>
<circle cx="543.7" cy="768.2" r="2.8"/>
<circle cx="559.2" cy="779.8" r="2.8"/>
<circle cx="539.2" cy="766.8" r="2.8"/>
<circle cx="561.3" cy="779.2" r="2.8"/>
<circle cx="543.8" cy="771.7" r="2.8"/>
<circle cx="578.4" cy="769.9" r="2.8"/>
<circle cx="567.6" cy="783.7" r="2.8"/>
<circle cx="547.7" cy="780.8" r="2.8"/>
<circle cx="552.8" cy="768.3" r="2.8"/>
<circle cx="553.9" cy="776.4" r="2.8"/>
<circle cx="555.7" cy="778.5" r="2.8"/>
<circle cx="547.0" cy="766.6" r="2.8"/>
<circle cx="565.8" cy="772.4" r="2.8"/>
<circle cx="557.2" cy="776.2" r="2.8"/>
<circle cx="541.3" cy="772.9" r="2.8"/>
<circle cx="574.8" cy="774.0" r="2.8"/>
<circle cx="551.8" cy="776.5" r="2.8"/>
<circle cx="555.5" cy="783.4" r="2.8"/>
<circle cx="572.7" cy="764.0" r="2.8"/>
<circle cx="577.3" cy="761.3" r="2.8"/>
<circle cx="571.7" cy="758.4" r="2.8"/>
<circle cx="577.3" cy="752.7" r="2.8"/>
<circle cx="578.3" cy="756.0" r="2.8"/>
<circle cx="584.7" cy="742.0" r="2.8"/>
<circle cx="552.7" cy="789.3" r="2.8"/>
<circle cx="552.4" cy="794.0" r="2.8"/>
<circle cx="596.0" cy="721.3" r="2.8"/>
<circle cx="600.8" cy="778.1" r="2.8"/>
<circle cx="612.9" cy="778.1" r="2.8"/>
<circle cx="610.0" cy="781.3" r="2.8"/>
<circle cx="608.0" cy="782.7" r="2.8"/>
<circle cx="610.9" cy="785.6" r="2.8"/>
<circle cx="613.5" cy="858.1" r="2.8"/>
<circle cx="613.6" cy="860.2" r="2.8"/>
<circle cx="614.9" cy="861.8" r="2.8"/>
<circle cx="615.1" cy="863.9" r="2.8"/>
<circle cx="616.0" cy="865.7" r="2.8"/>
<circle cx="617.5" cy="867.2" r="2.8"/>
<circle cx="618.1" cy="869.1" r="2.8"/>
<circle cx="618.8" cy="871.0" r="2.8"/>
<circle cx="619.9" cy="872.7" r="2.8"/>
<circle cx="620.4" cy="874.6" r="2.8"/>
<circle cx="621.6" cy="876.3" r="2.8"/>
<circle cx="623.0" cy="877.8" r="2.8"/>
<circle cx="622.7" cy="880.1" r="2.8"/>
<circle cx="624.0" cy="881.7" r="2.8"/>
<circle cx="624.7" cy="883.6" r="2.8"/>
<circle cx="625.9" cy="885.2" r="2.8"/>
<circle cx="627.0" cy="886.9" r="2.8"/>
<circle cx="626.9" cy="889.1" r="2.8"/>
<circle cx="628.1" cy="890.8" r="2.8"/>
<circle cx="629.3" cy="892.5" r="2.8"/>
<circle cx="629.4" cy="894.6" r="2.8"/>
<circle cx="631.2" cy="895.9" r="2.8"/>
<circle cx="632.5" cy="897.4" r="2.8"/>
<circle cx="633.3" cy="899.3" r="2.8"/>
<circle cx="636.4" cy="907.1" r="2.8"/>
<circle cx="633.3" cy="911.0" r="2.8"/>
<circle cx="633.8" cy="893.8" r="2.8"/>
<circle cx="630.7" cy="904.6" r="2.8"/>
<circle cx="630.8" cy="900.7" r="2.8"/>
<circle cx="629.3" cy="895.8" r="2.8"/>
<circle cx="633.1" cy="913.6" r="2.8"/>
<circle cx="632.4" cy="917.2" r="2.8"/>
<circle cx="627.4" cy="902.0" r="2.8"/>
<circle cx="627.2" cy="892.3" r="2.8"/>
<circle cx="629.2" cy="921.6" r="2.8"/>
<circle cx="634.7" cy="908.3" r="2.8"/>
<circle cx="637.7" cy="922.3" r="2.8"/>
<circle cx="635.7" cy="899.8" r="2.8"/>
<circle cx="633.5" cy="923.5" r="2.8"/>
<circle cx="629.2" cy="906.5" r="2.8"/>
<circle cx="637.2" cy="917.9" r="2.8"/>
<circle cx="632.5" cy="898.9" r="2.8"/>
<circle cx="635.3" cy="913.5" r="2.8"/>
<circle cx="627.4" cy="898.6" r="2.8"/>
<circle cx="637.7" cy="911.7" r="2.8"/>
<circle cx="623.8" cy="893.0" r="2.8"/>
<circle cx="634.3" cy="905.8" r="2.8"/>
<circle cx="629.7" cy="909.2" r="2.8"/>
<circle cx="640.1" cy="914.1" r="2.8"/>
<circle cx="633.7" cy="902.4" r="2.8"/>
<circle cx="637.5" cy="901.0" r="2.8"/>
<circle cx="633.2" cy="921.1" r="2.8"/>
<circle cx="727.2" cy="859.8" r="2.8"/>
<circle cx="713.0" cy="854.8" r="2.8"/>
<circle cx="711.9" cy="851.0" r="2.8"/>
<circle cx="735.6" cy="846.8" r="2.8"/>
<circle cx="700.7" cy="856.4" r="2.8"/>
<circle cx="729.7" cy="856.6" r="2.8"/>
<circle cx="706.4" cy="832.9" r="2.8"/>
<circle cx="726.3" cy="851.8" r="2.8"/>
<circle cx="702.5" cy="853.0" r="2.8"/>
<circle cx="702.8" cy="844.3" r="2.8"/>
<circle cx="716.3" cy="839.8" r="2.8"/>
<circle cx="708.8" cy="838.1" r="2.8"/>
<circle cx="714.8" cy="853.9" r="2.8"/>
<circle cx="710.8" cy="855.9" r="2.8"/>
<circle cx="710.7" cy="861.3" r="2.8"/>
<circle cx="711.6" cy="846.1" r="2.8"/>
<circle cx="716.6" cy="855.4" r="2.8"/>
<circle cx="713.9" cy="840.4" r="2.8"/>
<circle cx="710.7" cy="833.0" r="2.8"/>
<circle cx="726.4" cy="843.0" r="2.8"/>
<circle cx="721.7" cy="841.5" r="2.8"/>
<circle cx="704.8" cy="849.5" r="2.8"/>
<circle cx="737.2" cy="851.2" r="2.8"/>
<circle cx="715.6" cy="859.8" r="2.8"/>
<circle cx="710.5" cy="842.8" r="2.8"/>
<circle cx="730.7" cy="842.5" r="2.8"/>
<circle cx="721.1" cy="857.2" r="2.8"/>
<circle cx="709.7" cy="849.5" r="2.8"/>
<circle cx="715.1" cy="849.2" r="2.8"/>
<circle cx="718.6" cy="851.1" r="2.8"/>
<circle cx="719.1" cy="842.4" r="2.8"/>
<circle cx="701.6" cy="846.5" r="2.8"/>
<circle cx="733.4" cy="844.0" r="2.8"/>
<circle cx="723.9" cy="857.8" r="2.8"/>
<circle cx="734.6" cy="857.9" r="2.8"/>
<circle cx="738.6" cy="846.3" r="2.8"/>
<circle cx="732.7" cy="856.6" r="2.8"/>
<circle cx="699.1" cy="852.6" r="2.8"/>
<circle cx="698.2" cy="846.6" r="2.8"/>
<circle cx="725.2" cy="840.9" r="2.8"/>
<circle cx="721.4" cy="860.6" r="2.8"/>
<circle cx="716.2" cy="842.7" r="2.8"/>
<circle cx="731.9" cy="852.9" r="2.8"/>
<circle cx="711.2" cy="853.3" r="2.8"/>
<circle cx="728.6" cy="841.6" r="2.8"/>
<circle cx="721.9" cy="849.8" r="2.8"/>
<circle cx="724.5" cy="852.6" r="2.8"/>
<circle cx="699.0" cy="857.6" r="2.8"/>
<circle cx="715.6" cy="847.0" r="2.8"/>
<circle cx="710.0" cy="858.7" r="2.8"/>
<circle cx="707.6" cy="850.4" r="2.8"/>
<circle cx="736.9" cy="841.8" r="2.8"/>
<circle cx="694.3" cy="849.3" r="2.8"/>
<circle cx="694.5" cy="853.5" r="2.8"/>
<circle cx="718.1" cy="847.3" r="2.8"/>
<circle cx="706.9" cy="844.4" r="2.8"/>
<circle cx="737.7" cy="853.8" r="2.8"/>
<circle cx="709.0" cy="835.7" r="2.8"/>
<circle cx="706.1" cy="847.7" r="2.8"/>
<circle cx="712.3" cy="837.9" r="2.8"/>
<circle cx="721.5" cy="942.6" r="2.8"/>
<circle cx="716.8" cy="944.5" r="2.8"/>
<circle cx="711.2" cy="934.6" r="2.8"/>
<circle cx="718.4" cy="943.1" r="2.8"/>
<circle cx="706.5" cy="934.7" r="2.8"/>
<circle cx="723.1" cy="944.0" r="2.8"/>
<circle cx="724.0" cy="946.5" r="2.8"/>
<circle cx="721.7" cy="939.1" r="2.8"/>
<circle cx="714.0" cy="941.5" r="2.8"/>
<circle cx="709.6" cy="939.4" r="2.8"/>
<circle cx="708.9" cy="936.1" r="2.8"/>
<circle cx="711.9" cy="937.0" r="2.8"/>
<circle cx="713.1" cy="935.3" r="2.8"/>
<circle cx="715.6" cy="949.0" r="2.8"/>
<circle cx="707.5" cy="932.5" r="2.8"/>
<circle cx="724.4" cy="939.4" r="2.8"/>
<circle cx="702.9" cy="935.5" r="2.8"/>
<circle cx="713.3" cy="947.3" r="2.8"/>
<circle cx="713.9" cy="950.5" r="2.8"/>
<circle cx="721.5" cy="947.4" r="2.8"/>
<circle cx="716.4" cy="942.2" r="2.8"/>
<circle cx="718.8" cy="936.5" r="2.8"/>
<circle cx="713.3" cy="943.9" r="2.8"/>
<circle cx="718.6" cy="946.5" r="2.8"/>
<circle cx="610.0" cy="840.0" r="2.8"/>
<circle cx="612.7" cy="841.3" r="2.8"/>
<circle cx="604.0" cy="844.7" r="2.8"/>
<circle cx="607.3" cy="847.3" r="2.8"/>
<circle cx="611.3" cy="848.7" r="2.8"/>
<circle cx="611.3" cy="852.0" r="2.8"/>
<circle cx="625.3" cy="918.7" r="2.8"/>
<circle cx="624.7" cy="926.7" r="2.8"/>
<circle cx="632.0" cy="927.3" r="2.8"/>
<circle cx="638.0" cy="921.3" r="2.8"/>
<circle cx="613.6" cy="910.4" r="2.8"/>
<circle cx="650.7" cy="913.3" r="2.8"/>
<circle cx="648.7" cy="915.7" r="2.8"/>
<circle cx="658.7" cy="916.0" r="2.8"/>
<circle cx="662.9" cy="918.4" r="2.8"/>
<circle cx="687.3" cy="928.0" r="2.8"/>
<circle cx="655.3" cy="979.3" r="2.8"/>
<circle cx="725.6" cy="722.7" r="2.8"/>
<circle cx="728.7" cy="718.0" r="2.8"/>
<circle cx="736.0" cy="717.7" r="2.8"/>
<circle cx="736.7" cy="719.3" r="2.8"/>
<circle cx="745.3" cy="800.4" r="2.8"/>
<circle cx="746.0" cy="797.3" r="2.8"/>
<circle cx="748.7" cy="794.0" r="2.8"/>
<circle cx="753.3" cy="792.9" r="2.8"/>
<circle cx="792.0" cy="785.1" r="2.8"/>
<circle cx="796.0" cy="784.7" r="2.8"/>
<circle cx="800.0" cy="782.0" r="2.8"/>
<circle cx="804.0" cy="786.0" r="2.8"/>
<circle cx="810.0" cy="776.7" r="2.8"/>
<circle cx="811.3" cy="778.0" r="2.8"/>
<circle cx="809.3" cy="783.3" r="2.8"/>
<circle cx="801.3" cy="791.3" r="2.8"/>
<circle cx="804.0" cy="792.7" r="2.8"/>
<circle cx="806.7" cy="791.3" r="2.8"/>
<circle cx="655.0" cy="979.3" r="2.8"/>
<circle cx="655.8" cy="984.2" r="2.8"/>
<circle cx="285.2" cy="391.4" r="2.8"/>
<circle cx="288.2" cy="393.9" r="2.8"/>
</g>
<g fill="#a582e9">
<circle cx="666.3" cy="125.0" r="2.8"/>
<circle cx="677.5" cy="124.2" r="2.8"/>
<circle cx="696.7" cy="123.8" r="2.8"/>
<circle cx="700.5" cy="135.0" r="2.8"/>
<circle cx="719.5" cy="135.8" r="2.8"/>
<circle cx="727.5" cy="128.7" r="2.8"/>
<circle cx="728.7" cy="138.8" r="2.8"/>
<circle cx="724.2" cy="143.3" r="2.8"/>
<circle cx="716.5" cy="145.2" r="2.8"/>
<circle cx="723.8" cy="149.7" r="2.8"/>
<circle cx="668.3" cy="149.3" r="2.8"/>
<circle cx="665.0" cy="154.7" r="2.8"/>
<circle cx="695.5" cy="153.2" r="2.8"/>
<circle cx="681.7" cy="158.3" r="2.8"/>
<circle cx="710.3" cy="163.3" r="2.8"/>
<circle cx="672.3" cy="165.3" r="2.8"/>
<circle cx="698.5" cy="173.7" r="2.8"/>
<circle cx="715.3" cy="175.3" r="2.8"/>
<circle cx="716.7" cy="183.0" r="2.8"/>
<circle cx="728.7" cy="185.5" r="2.8"/>
<circle cx="678.0" cy="178.3" r="2.8"/>
<circle cx="731.0" cy="198.0" r="2.8"/>
<circle cx="734.2" cy="200.0" r="2.8"/>
<circle cx="764.2" cy="227.5" r="2.8"/>
<circle cx="777.8" cy="231.5" r="2.8"/>
<circle cx="794.0" cy="229.5" r="2.8"/>
<circle cx="818.3" cy="226.8" r="2.8"/>
<circle cx="818.8" cy="232.2" r="2.8"/>
<circle cx="640.3" cy="243.3" r="2.8"/>
<circle cx="643.8" cy="246.7" r="2.8"/>
<circle cx="630.0" cy="242.5" r="2.8"/>
<circle cx="819.5" cy="278.1" r="2.8"/>
<circle cx="826.0" cy="276.5" r="2.8"/>
<circle cx="826.7" cy="282.7" r="2.8"/>
<circle cx="829.1" cy="282.3" r="2.8"/>
<circle cx="821.3" cy="285.3" r="2.8"/>
<circle cx="815.6" cy="287.5" r="2.8"/>
<circle cx="833.6" cy="286.3" r="2.8"/>
<circle cx="830.7" cy="289.5" r="2.8"/>
<circle cx="822.9" cy="292.8" r="2.8"/>
<circle cx="781.2" cy="297.3" r="2.8"/>
<circle cx="793.6" cy="316.0" r="2.8"/>
<circle cx="799.6" cy="314.7" r="2.8"/>
<circle cx="523.0" cy="238.0" r="2.8"/>
<circle cx="549.5" cy="216.3" r="2.8"/>
<circle cx="540.8" cy="221.7" r="2.8"/>
<circle cx="556.3" cy="219.7" r="2.8"/>
<circle cx="576.0" cy="220.2" r="2.8"/>
<circle cx="583.3" cy="224.7" r="2.8"/>
<circle cx="588.0" cy="224.3" r="2.8"/>
<circle cx="585.3" cy="226.3" r="2.8"/>
<circle cx="582.5" cy="230.3" r="2.8"/>
<circle cx="599.5" cy="235.7" r="2.8"/>
<circle cx="617.3" cy="241.5" r="2.8"/>
<circle cx="548.7" cy="313.3" r="2.8"/>
<circle cx="492.5" cy="346.3" r="2.8"/>
<circle cx="481.3" cy="353.3" r="2.8"/>
<circle cx="485.8" cy="354.7" r="2.8"/>
<circle cx="489.2" cy="360.3" r="2.8"/>
<circle cx="492.5" cy="361.3" r="2.8"/>
<circle cx="490.5" cy="362.7" r="2.8"/>
<circle cx="395.0" cy="392.2" r="2.8"/>
<circle cx="390.8" cy="396.7" r="2.8"/>
<circle cx="387.5" cy="400.0" r="2.8"/>
<circle cx="400.0" cy="397.2" r="2.8"/>
<circle cx="394.5" cy="402.2" r="2.8"/>
<circle cx="406.7" cy="407.2" r="2.8"/>
<circle cx="402.2" cy="410.0" r="2.8"/>
<circle cx="378.8" cy="411.0" r="2.8"/>
<circle cx="386.3" cy="409.5" r="2.8"/>
<circle cx="394.2" cy="417.5" r="2.8"/>
<circle cx="411.3" cy="424.2" r="2.8"/>
<circle cx="412.0" cy="434.5" r="2.8"/>
<circle cx="404.2" cy="436.2" r="2.8"/>
<circle cx="408.2" cy="442.0" r="2.8"/>
<circle cx="429.7" cy="441.3" r="2.8"/>
<circle cx="443.3" cy="445.8" r="2.8"/>
<circle cx="449.5" cy="447.0" r="2.8"/>
<circle cx="461.7" cy="453.0" r="2.8"/>
<circle cx="466.7" cy="454.7" r="2.8"/>
<circle cx="469.7" cy="455.3" r="2.8"/>
<circle cx="478.7" cy="439.2" r="2.8"/>
<circle cx="466.2" cy="466.7" r="2.8"/>
<circle cx="475.0" cy="465.0" r="2.8"/>
<circle cx="477.0" cy="468.0" r="2.8"/>
<circle cx="501.8" cy="456.2" r="2.8"/>
<circle cx="519.3" cy="451.2" r="2.8"/>
<circle cx="566.7" cy="529.7" r="2.8"/>
<circle cx="569.7" cy="479.2" r="2.8"/>
<circle cx="568.0" cy="491.7" r="2.8"/>
<circle cx="562.0" cy="499.2" r="2.8"/>
<circle cx="563.3" cy="500.8" r="2.8"/>
<circle cx="593.3" cy="385.0" r="2.8"/>
<circle cx="590.0" cy="389.2" r="2.8"/>
<circle cx="588.3" cy="391.7" r="2.8"/>
<circle cx="591.7" cy="390.8" r="2.8"/>
<circle cx="595.0" cy="393.3" r="2.8"/>
<circle cx="598.3" cy="391.7" r="2.8"/>
<circle cx="593.3" cy="394.2" r="2.8"/>
<circle cx="607.5" cy="381.7" r="2.8"/>
<circle cx="609.2" cy="387.5" r="2.8"/>
<circle cx="612.8" cy="392.2" r="2.8"/>
<circle cx="601.3" cy="397.7" r="2.8"/>
<circle cx="609.5" cy="397.8" r="2.8"/>
<circle cx="608.7" cy="403.3" r="2.8"/>
<circle cx="603.7" cy="406.2" r="2.8"/>
<circle cx="599.5" cy="411.7" r="2.8"/>
<circle cx="608.3" cy="410.5" r="2.8"/>
<circle cx="622.8" cy="410.5" r="2.8"/>
<circle cx="625.8" cy="412.0" r="2.8"/>
<circle cx="633.0" cy="414.0" r="2.8"/>
<circle cx="599.2" cy="425.0" r="2.8"/>
<circle cx="633.7" cy="428.3" r="2.8"/>
<circle cx="639.0" cy="429.2" r="2.8"/>
<circle cx="641.5" cy="435.3" r="2.8"/>
<circle cx="596.3" cy="440.5" r="2.8"/>
<circle cx="612.8" cy="452.3" r="2.8"/>
<circle cx="603.8" cy="455.2" r="2.8"/>
<circle cx="593.8" cy="461.0" r="2.8"/>
<circle cx="605.2" cy="464.5" r="2.8"/>
<circle cx="649.7" cy="460.2" r="2.8"/>
<circle cx="680.5" cy="425.3" r="2.8"/>
<circle cx="693.0" cy="425.3" r="2.8"/>
<circle cx="664.7" cy="432.7" r="2.8"/>
<circle cx="668.3" cy="432.0" r="2.8"/>
<circle cx="674.3" cy="438.3" r="2.8"/>
<circle cx="687.8" cy="440.0" r="2.8"/>
<circle cx="691.3" cy="440.7" r="2.8"/>
<circle cx="660.3" cy="442.2" r="2.8"/>
<circle cx="704.2" cy="442.3" r="2.8"/>
<circle cx="712.5" cy="441.8" r="2.8"/>
<circle cx="698.3" cy="445.8" r="2.8"/>
<circle cx="663.3" cy="451.2" r="2.8"/>
<circle cx="682.5" cy="452.5" r="2.8"/>
<circle cx="684.7" cy="454.7" r="2.8"/>
<circle cx="690.8" cy="450.8" r="2.8"/>
<circle cx="690.5" cy="454.7" r="2.8"/>
<circle cx="704.2" cy="451.5" r="2.8"/>
<circle cx="720.0" cy="452.2" r="2.8"/>
<circle cx="711.5" cy="460.3" r="2.8"/>
<circle cx="698.0" cy="463.0" r="2.8"/>
<circle cx="704.2" cy="465.8" r="2.8"/>
<circle cx="707.5" cy="466.3" r="2.8"/>
<circle cx="705.5" cy="469.2" r="2.8"/>
<circle cx="707.3" cy="474.2" r="2.8"/>
<circle cx="260.3" cy="491.7" r="2.8"/>
<circle cx="238.7" cy="507.9" r="2.8"/>
<circle cx="191.3" cy="506.0" r="2.8"/>
<circle cx="194.0" cy="506.7" r="2.8"/>
<circle cx="181.3" cy="508.7" r="2.8"/>
<circle cx="182.3" cy="511.3" r="2.8"/>
<circle cx="182.7" cy="514.0" r="2.8"/>
<circle cx="207.7" cy="510.3" r="2.8"/>
<circle cx="210.0" cy="509.6" r="2.8"/>
<circle cx="212.4" cy="509.1" r="2.8"/>
<circle cx="212.9" cy="512.0" r="2.8"/>
<circle cx="206.4" cy="515.3" r="2.8"/>
<circle cx="219.7" cy="516.7" r="2.8"/>
<circle cx="179.7" cy="519.6" r="2.8"/>
<circle cx="174.0" cy="522.7" r="2.8"/>
<circle cx="176.0" cy="523.1" r="2.8"/>
<circle cx="202.0" cy="522.7" r="2.8"/>
<circle cx="205.3" cy="521.7" r="2.8"/>
<circle cx="208.7" cy="521.7" r="2.8"/>
<circle cx="211.3" cy="522.7" r="2.8"/>
<circle cx="213.6" cy="525.3" r="2.8"/>
<circle cx="169.3" cy="529.6" r="2.8"/>
<circle cx="162.4" cy="531.6" r="2.8"/>
<circle cx="163.3" cy="534.7" r="2.8"/>
<circle cx="170.0" cy="534.0" r="2.8"/>
<circle cx="166.0" cy="537.3" r="2.8"/>
<circle cx="170.0" cy="538.7" r="2.8"/>
<circle cx="188.7" cy="531.3" r="2.8"/>
<circle cx="188.3" cy="534.3" r="2.8"/>
<circle cx="197.6" cy="528.9" r="2.8"/>
<circle cx="194.7" cy="532.4" r="2.8"/>
<circle cx="200.3" cy="535.3" r="2.8"/>
<circle cx="208.0" cy="532.1" r="2.8"/>
<circle cx="230.0" cy="539.6" r="2.8"/>
<circle cx="156.7" cy="542.0" r="2.8"/>
<circle cx="165.3" cy="546.3" r="2.8"/>
<circle cx="176.7" cy="545.3" r="2.8"/>
<circle cx="177.3" cy="547.3" r="2.8"/>
<circle cx="202.7" cy="543.3" r="2.8"/>
<circle cx="192.3" cy="549.3" r="2.8"/>
<circle cx="224.7" cy="546.7" r="2.8"/>
<circle cx="230.0" cy="550.0" r="2.8"/>
<circle cx="218.7" cy="550.7" r="2.8"/>
<circle cx="160.9" cy="551.6" r="2.8"/>
<circle cx="153.2" cy="553.6" r="2.8"/>
<circle cx="193.1" cy="556.7" r="2.8"/>
<circle cx="196.7" cy="563.1" r="2.8"/>
<circle cx="205.3" cy="567.3" r="2.8"/>
<circle cx="240.9" cy="572.0" r="2.8"/>
<circle cx="476.7" cy="470.0" r="2.8"/>
<circle cx="422.0" cy="549.1" r="2.8"/>
<circle cx="420.7" cy="555.3" r="2.8"/>
<circle cx="422.0" cy="558.7" r="2.8"/>
<circle cx="426.7" cy="568.7" r="2.8"/>
<circle cx="430.7" cy="568.0" r="2.8"/>
<circle cx="424.9" cy="576.4" r="2.8"/>
<circle cx="430.7" cy="578.7" r="2.8"/>
<circle cx="436.7" cy="566.0" r="2.8"/>
<circle cx="438.0" cy="586.0" r="2.8"/>
<circle cx="442.7" cy="583.3" r="2.8"/>
<circle cx="440.0" cy="594.7" r="2.8"/>
<circle cx="446.7" cy="588.7" r="2.8"/>
<circle cx="454.0" cy="594.0" r="2.8"/>
<circle cx="446.7" cy="596.7" r="2.8"/>
<circle cx="448.3" cy="570.9" r="2.8"/>
<circle cx="453.1" cy="580.4" r="2.8"/>
<circle cx="454.0" cy="565.7" r="2.8"/>
<circle cx="458.3" cy="564.0" r="2.8"/>
<circle cx="462.7" cy="572.7" r="2.8"/>
<circle cx="469.3" cy="574.7" r="2.8"/>
<circle cx="467.6" cy="579.1" r="2.8"/>
<circle cx="456.0" cy="585.3" r="2.8"/>
<circle cx="472.0" cy="590.0" r="2.8"/>
<circle cx="471.1" cy="593.3" r="2.8"/>
<circle cx="478.0" cy="595.3" r="2.8"/>
<circle cx="471.1" cy="559.1" r="2.8"/>
<circle cx="481.3" cy="567.3" r="2.8"/>
<circle cx="490.0" cy="562.3" r="2.8"/>
<circle cx="486.9" cy="572.9" r="2.8"/>
<circle cx="483.7" cy="577.7" r="2.8"/>
<circle cx="477.3" cy="582.0" r="2.8"/>
<circle cx="480.0" cy="580.7" r="2.8"/>
<circle cx="478.7" cy="584.7" r="2.8"/>
<circle cx="483.3" cy="587.3" r="2.8"/>
<circle cx="485.3" cy="591.3" r="2.8"/>
<circle cx="488.7" cy="584.7" r="2.8"/>
<circle cx="491.7" cy="583.1" r="2.8"/>
<circle cx="486.7" cy="589.3" r="2.8"/>
<circle cx="497.7" cy="574.4" r="2.8"/>
<circle cx="504.7" cy="573.6" r="2.8"/>
<circle cx="507.7" cy="572.0" r="2.8"/>
<circle cx="506.7" cy="565.3" r="2.8"/>
<circle cx="514.3" cy="566.3" r="2.8"/>
<circle cx="494.3" cy="554.4" r="2.8"/>
<circle cx="502.7" cy="550.4" r="2.8"/>
<circle cx="506.0" cy="550.4" r="2.8"/>
<circle cx="500.4" cy="544.0" r="2.8"/>
<circle cx="514.7" cy="539.7" r="2.8"/>
<circle cx="519.1" cy="544.3" r="2.8"/>
<circle cx="525.3" cy="552.7" r="2.8"/>
<circle cx="509.7" cy="530.7" r="2.8"/>
<circle cx="502.7" cy="512.7" r="2.8"/>
<circle cx="498.9" cy="520.3" r="2.8"/>
<circle cx="490.4" cy="487.3" r="2.8"/>
<circle cx="744.7" cy="539.3" r="2.8"/>
<circle cx="749.3" cy="546.0" r="2.8"/>
<circle cx="752.0" cy="546.4" r="2.8"/>
<circle cx="750.7" cy="551.1" r="2.8"/>
<circle cx="753.1" cy="552.9" r="2.8"/>
<circle cx="751.3" cy="560.0" r="2.8"/>
<circle cx="745.1" cy="562.4" r="2.8"/>
<circle cx="997.5" cy="647.7" r="2.8"/>
<circle cx="1054.2" cy="663.3" r="2.8"/>
<circle cx="1013.3" cy="673.3" r="2.8"/>
<circle cx="962.5" cy="677.8" r="2.8"/>
<circle cx="969.7" cy="683.0" r="2.8"/>
<circle cx="978.7" cy="684.7" r="2.8"/>
<circle cx="1064.5" cy="684.5" r="2.8"/>
<circle cx="1015.0" cy="686.7" r="2.8"/>
<circle cx="1021.3" cy="685.8" r="2.8"/>
<circle cx="1050.0" cy="690.0" r="2.8"/>
<circle cx="967.8" cy="697.0" r="2.8"/>
<circle cx="937.2" cy="696.3" r="2.8"/>
<circle cx="975.8" cy="700.5" r="2.8"/>
<circle cx="1039.2" cy="696.2" r="2.8"/>
<circle cx="1026.7" cy="698.0" r="2.8"/>
<circle cx="1011.7" cy="701.2" r="2.8"/>
<circle cx="957.8" cy="702.0" r="2.8"/>
<circle cx="961.2" cy="704.5" r="2.8"/>
<circle cx="998.7" cy="703.8" r="2.8"/>
<circle cx="908.3" cy="709.3" r="2.8"/>
<circle cx="999.3" cy="711.3" r="2.8"/>
<circle cx="979.7" cy="716.7" r="2.8"/>
<circle cx="992.5" cy="718.3" r="2.8"/>
<circle cx="904.7" cy="718.3" r="2.8"/>
<circle cx="903.3" cy="725.0" r="2.8"/>
<circle cx="931.8" cy="724.5" r="2.8"/>
<circle cx="965.3" cy="724.2" r="2.8"/>
<circle cx="990.8" cy="727.8" r="2.8"/>
<circle cx="1049.0" cy="728.2" r="2.8"/>
<circle cx="965.7" cy="733.8" r="2.8"/>
<circle cx="981.3" cy="736.2" r="2.8"/>
<circle cx="952.5" cy="736.7" r="2.8"/>
<circle cx="956.7" cy="735.8" r="2.8"/>
<circle cx="1025.0" cy="737.8" r="2.8"/>
<circle cx="913.8" cy="741.8" r="2.8"/>
<circle cx="935.8" cy="740.8" r="2.8"/>
<circle cx="937.5" cy="742.8" r="2.8"/>
<circle cx="1015.8" cy="755.8" r="2.8"/>
<circle cx="1013.3" cy="765.5" r="2.8"/>
<circle cx="955.8" cy="770.8" r="2.8"/>
<circle cx="990.8" cy="770.8" r="2.8"/>
<circle cx="988.3" cy="773.7" r="2.8"/>
<circle cx="938.3" cy="771.7" r="2.8"/>
<circle cx="931.7" cy="774.5" r="2.8"/>
<circle cx="935.8" cy="775.8" r="2.8"/>
<circle cx="354.4" cy="755.9" r="2.8"/>
<circle cx="354.9" cy="773.2" r="2.8"/>
<circle cx="342.0" cy="756.3" r="2.8"/>
<circle cx="356.4" cy="774.9" r="2.8"/>
<circle cx="327.7" cy="754.1" r="2.8"/>
<circle cx="377.2" cy="776.6" r="2.8"/>
<circle cx="322.4" cy="751.0" r="2.8"/>
<circle cx="380.9" cy="783.2" r="2.8"/>
<circle cx="357.3" cy="771.1" r="2.8"/>
<circle cx="323.7" cy="753.7" r="2.8"/>
<circle cx="347.1" cy="772.5" r="2.8"/>
<circle cx="334.6" cy="737.7" r="2.8"/>
<circle cx="335.8" cy="772.7" r="2.8"/>
<circle cx="333.5" cy="752.9" r="2.8"/>
<circle cx="376.2" cy="773.4" r="2.8"/>
<circle cx="371.7" cy="772.0" r="2.8"/>
<circle cx="369.2" cy="784.1" r="2.8"/>
<circle cx="331.1" cy="773.5" r="2.8"/>
<circle cx="349.0" cy="766.1" r="2.8"/>
<circle cx="328.8" cy="731.7" r="2.8"/>
<circle cx="374.1" cy="776.2" r="2.8"/>
<circle cx="360.5" cy="775.0" r="2.8"/>
<circle cx="348.4" cy="761.2" r="2.8"/>
<circle cx="344.4" cy="720.1" r="2.8"/>
<circle cx="337.4" cy="731.7" r="2.8"/>
<circle cx="342.3" cy="759.2" r="2.8"/>
<circle cx="331.5" cy="725.9" r="2.8"/>
<circle cx="367.7" cy="776.1" r="2.8"/>
<circle cx="363.7" cy="773.7" r="2.8"/>
<circle cx="334.0" cy="740.5" r="2.8"/>
<circle cx="329.5" cy="770.8" r="2.8"/>
<circle cx="363.8" cy="778.9" r="2.8"/>
<circle cx="344.4" cy="723.7" r="2.8"/>
<circle cx="360.3" cy="762.7" r="2.8"/>
<circle cx="369.6" cy="765.5" r="2.8"/>
<circle cx="349.4" cy="774.6" r="2.8"/>
<circle cx="344.7" cy="771.4" r="2.8"/>
<circle cx="332.8" cy="721.2" r="2.8"/>
<circle cx="330.6" cy="762.1" r="2.8"/>
<circle cx="330.5" cy="746.2" r="2.8"/>
<circle cx="322.8" cy="734.4" r="2.8"/>
<circle cx="327.1" cy="738.3" r="2.8"/>
<circle cx="380.5" cy="778.7" r="2.8"/>
<circle cx="324.3" cy="768.7" r="2.8"/>
<circle cx="335.9" cy="757.2" r="2.8"/>
<circle cx="326.2" cy="764.3" r="2.8"/>
<circle cx="365.5" cy="765.8" r="2.8"/>
<circle cx="324.2" cy="735.9" r="2.8"/>
<circle cx="347.0" cy="764.6" r="2.8"/>
<circle cx="344.5" cy="729.0" r="2.8"/>
<circle cx="363.7" cy="753.0" r="2.8"/>
<circle cx="355.8" cy="727.6" r="2.8"/>
<circle cx="336.7" cy="762.4" r="2.8"/>
<circle cx="351.6" cy="731.8" r="2.8"/>
<circle cx="385.7" cy="782.7" r="2.8"/>
<circle cx="371.6" cy="763.3" r="2.8"/>
<circle cx="353.3" cy="776.4" r="2.8"/>
<circle cx="360.1" cy="842.2" r="2.8"/>
<circle cx="310.0" cy="793.3" r="2.8"/>
<circle cx="348.1" cy="794.3" r="2.8"/>
<circle cx="399.3" cy="804.2" r="2.8"/>
<circle cx="319.2" cy="800.8" r="2.8"/>
<circle cx="355.0" cy="828.2" r="2.8"/>
<circle cx="366.6" cy="821.7" r="2.8"/>
<circle cx="383.8" cy="852.1" r="2.8"/>
<circle cx="401.0" cy="833.8" r="2.8"/>
<circle cx="292.3" cy="835.6" r="2.8"/>
<circle cx="343.6" cy="851.6" r="2.8"/>
<circle cx="346.0" cy="801.8" r="2.8"/>
<circle cx="356.7" cy="852.4" r="2.8"/>
<circle cx="334.3" cy="862.8" r="2.8"/>
<circle cx="387.6" cy="800.2" r="2.8"/>
<circle cx="309.6" cy="843.3" r="2.8"/>
<circle cx="388.7" cy="805.3" r="2.8"/>
<circle cx="338.7" cy="852.8" r="2.8"/>
<circle cx="377.3" cy="807.3" r="2.8"/>
<circle cx="337.2" cy="838.0" r="2.8"/>
<circle cx="366.6" cy="832.6" r="2.8"/>
<circle cx="356.2" cy="819.2" r="2.8"/>
<circle cx="382.5" cy="820.6" r="2.8"/>
<circle cx="350.9" cy="797.3" r="2.8"/>
<circle cx="355.5" cy="807.7" r="2.8"/>
<circle cx="374.8" cy="833.8" r="2.8"/>
<circle cx="361.6" cy="804.0" r="2.8"/>
<circle cx="309.7" cy="861.8" r="2.8"/>
<circle cx="306.1" cy="805.6" r="2.8"/>
<circle cx="353.9" cy="857.1" r="2.8"/>
<circle cx="328.5" cy="828.4" r="2.8"/>
<circle cx="334.7" cy="858.5" r="2.8"/>
<circle cx="366.6" cy="791.5" r="2.8"/>
<circle cx="381.7" cy="807.4" r="2.8"/>
<circle cx="304.0" cy="855.9" r="2.8"/>
<circle cx="310.7" cy="808.1" r="2.8"/>
<circle cx="393.8" cy="814.1" r="2.8"/>
<circle cx="403.3" cy="834.4" r="2.8"/>
<circle cx="299.8" cy="817.7" r="2.8"/>
<circle cx="367.8" cy="839.0" r="2.8"/>
<circle cx="367.9" cy="827.5" r="2.8"/>
<circle cx="370.3" cy="811.1" r="2.8"/>
<circle cx="376.2" cy="827.1" r="2.8"/>
<circle cx="299.2" cy="829.8" r="2.8"/>
<circle cx="385.0" cy="846.4" r="2.8"/>
<circle cx="302.5" cy="796.7" r="2.8"/>
<circle cx="371.2" cy="841.6" r="2.8"/>
<circle cx="339.3" cy="780.6" r="2.8"/>
<circle cx="368.7" cy="804.8" r="2.8"/>
<circle cx="308.2" cy="844.9" r="2.8"/>
<circle cx="336.6" cy="850.4" r="2.8"/>
<circle cx="387.1" cy="808.5" r="2.8"/>
<circle cx="327.1" cy="782.0" r="2.8"/>
<circle cx="315.5" cy="851.7" r="2.8"/>
<circle cx="339.2" cy="857.4" r="2.8"/>
<circle cx="327.1" cy="837.1" r="2.8"/>
<circle cx="319.4" cy="822.8" r="2.8"/>
<circle cx="389.4" cy="797.7" r="2.8"/>
<circle cx="392.6" cy="802.8" r="2.8"/>
<circle cx="366.9" cy="843.7" r="2.8"/>
<circle cx="332.7" cy="807.1" r="2.8"/>
<circle cx="376.7" cy="803.0" r="2.8"/>
<circle cx="336.7" cy="833.4" r="2.8"/>
<circle cx="369.5" cy="785.0" r="2.8"/>
<circle cx="313.6" cy="839.7" r="2.8"/>
<circle cx="295.0" cy="844.8" r="2.8"/>
<circle cx="396.1" cy="833.9" r="2.8"/>
<circle cx="360.5" cy="836.2" r="2.8"/>
<circle cx="309.1" cy="818.6" r="2.8"/>
<circle cx="379.9" cy="820.6" r="2.8"/>
<circle cx="365.1" cy="831.3" r="2.8"/>
<circle cx="359.0" cy="790.2" r="2.8"/>
<circle cx="331.4" cy="862.5" r="2.8"/>
<circle cx="341.1" cy="832.5" r="2.8"/>
<circle cx="325.9" cy="856.3" r="2.8"/>
<circle cx="369.1" cy="808.3" r="2.8"/>
<circle cx="341.5" cy="858.6" r="2.8"/>
<circle cx="291.2" cy="823.3" r="2.8"/>
<circle cx="302.3" cy="820.0" r="2.8"/>
<circle cx="353.0" cy="824.3" r="2.8"/>
<circle cx="319.7" cy="798.8" r="2.8"/>
<circle cx="384.7" cy="812.4" r="2.8"/>
<circle cx="324.4" cy="795.8" r="2.8"/>
<circle cx="379.9" cy="801.7" r="2.8"/>
<circle cx="336.3" cy="802.2" r="2.8"/>
<circle cx="350.2" cy="784.0" r="2.8"/>
<circle cx="330.3" cy="840.6" r="2.8"/>
<circle cx="358.8" cy="825.5" r="2.8"/>
<circle cx="349.0" cy="825.4" r="2.8"/>
<circle cx="294.1" cy="834.7" r="2.8"/>
<circle cx="352.9" cy="841.1" r="2.8"/>
<circle cx="313.4" cy="819.7" r="2.8"/>
<circle cx="303.8" cy="821.7" r="2.8"/>
<circle cx="344.1" cy="779.1" r="2.8"/>
<circle cx="307.0" cy="830.9" r="2.8"/>
<circle cx="299.8" cy="809.6" r="2.8"/>
<circle cx="321.9" cy="794.3" r="2.8"/>
<circle cx="374.8" cy="825.3" r="2.8"/>
<circle cx="305.7" cy="816.0" r="2.8"/>
<circle cx="355.4" cy="787.2" r="2.8"/>
<circle cx="392.1" cy="826.7" r="2.8"/>
<circle cx="325.7" cy="866.3" r="2.8"/>
<circle cx="329.0" cy="777.8" r="2.8"/>
<circle cx="370.8" cy="821.2" r="2.8"/>
<circle cx="319.6" cy="774.0" r="2.8"/>
<circle cx="378.6" cy="839.8" r="2.8"/>
<circle cx="339.6" cy="835.9" r="2.8"/>
<circle cx="330.1" cy="781.5" r="2.8"/>
<circle cx="337.2" cy="792.5" r="2.8"/>
<circle cx="379.8" cy="836.4" r="2.8"/>
<circle cx="312.8" cy="855.0" r="2.8"/>
<circle cx="303.4" cy="834.0" r="2.8"/>
<circle cx="391.9" cy="841.0" r="2.8"/>
<circle cx="365.0" cy="834.9" r="2.8"/>
<circle cx="345.4" cy="837.1" r="2.8"/>
<circle cx="377.8" cy="845.3" r="2.8"/>
<circle cx="379.3" cy="826.9" r="2.8"/>
<circle cx="357.1" cy="780.3" r="2.8"/>
<circle cx="334.0" cy="826.2" r="2.8"/>
<circle cx="413.3" cy="828.3" r="2.8"/>
<circle cx="321.2" cy="867.1" r="2.8"/>
<circle cx="306.6" cy="810.2" r="2.8"/>
<circle cx="340.7" cy="821.9" r="2.8"/>
<circle cx="370.8" cy="816.0" r="2.8"/>
<circle cx="353.3" cy="785.4" r="2.8"/>
<circle cx="399.3" cy="806.2" r="2.8"/>
<circle cx="298.9" cy="858.7" r="2.8"/>
<circle cx="379.7" cy="843.0" r="2.8"/>
<circle cx="406.7" cy="823.9" r="2.8"/>
<circle cx="396.3" cy="802.0" r="2.8"/>
<circle cx="316.3" cy="786.1" r="2.8"/>
<circle cx="391.2" cy="844.5" r="2.8"/>
<circle cx="300.7" cy="812.5" r="2.8"/>
<circle cx="384.0" cy="843.7" r="2.8"/>
<circle cx="318.1" cy="779.1" r="2.8"/>
<circle cx="391.3" cy="795.9" r="2.8"/>
<circle cx="410.4" cy="827.3" r="2.8"/>
<circle cx="305.8" cy="793.9" r="2.8"/>
<circle cx="372.8" cy="824.9" r="2.8"/>
<circle cx="309.9" cy="857.4" r="2.8"/>
<circle cx="386.4" cy="852.1" r="2.8"/>
<circle cx="328.1" cy="851.8" r="2.8"/>
<circle cx="345.0" cy="818.9" r="2.8"/>
<circle cx="330.3" cy="800.2" r="2.8"/>
<circle cx="331.0" cy="777.0" r="2.8"/>
<circle cx="324.3" cy="777.2" r="2.8"/>
<circle cx="322.4" cy="856.0" r="2.8"/>
<circle cx="396.7" cy="804.3" r="2.8"/>
<circle cx="324.6" cy="828.7" r="2.8"/>
<circle cx="341.7" cy="796.2" r="2.8"/>
<circle cx="361.7" cy="855.9" r="2.8"/>
<circle cx="337.2" cy="806.4" r="2.8"/>
<circle cx="326.3" cy="798.2" r="2.8"/>
<circle cx="323.0" cy="824.8" r="2.8"/>
<circle cx="316.1" cy="781.6" r="2.8"/>
<circle cx="317.5" cy="837.3" r="2.8"/>
<circle cx="310.8" cy="854.4" r="2.8"/>
<circle cx="337.5" cy="860.2" r="2.8"/>
<circle cx="317.0" cy="821.5" r="2.8"/>
<circle cx="319.9" cy="863.3" r="2.8"/>
<circle cx="312.6" cy="824.8" r="2.8"/>
<circle cx="321.5" cy="828.6" r="2.8"/>
<circle cx="300.4" cy="846.4" r="2.8"/>
<circle cx="340.0" cy="790.1" r="2.8"/>
<circle cx="350.2" cy="845.2" r="2.8"/>
<circle cx="365.1" cy="788.9" r="2.8"/>
<circle cx="291.9" cy="817.6" r="2.8"/>
<circle cx="356.1" cy="824.7" r="2.8"/>
<circle cx="308.9" cy="809.2" r="2.8"/>
<circle cx="321.5" cy="853.8" r="2.8"/>
<circle cx="398.4" cy="813.0" r="2.8"/>
<circle cx="307.2" cy="796.6" r="2.8"/>
<circle cx="347.9" cy="788.7" r="2.8"/>
<circle cx="352.1" cy="808.7" r="2.8"/>
<circle cx="313.6" cy="794.1" r="2.8"/>
<circle cx="347.1" cy="796.1" r="2.8"/>
<circle cx="294.5" cy="822.5" r="2.8"/>
<circle cx="392.7" cy="820.8" r="2.8"/>
<circle cx="363.6" cy="818.2" r="2.8"/>
<circle cx="312.6" cy="835.7" r="2.8"/>
<circle cx="300.4" cy="814.7" r="2.8"/>
<circle cx="379.1" cy="857.6" r="2.8"/>
<circle cx="405.6" cy="830.5" r="2.8"/>
<circle cx="304.5" cy="809.0" r="2.8"/>
<circle cx="382.1" cy="814.6" r="2.8"/>
<circle cx="359.1" cy="802.8" r="2.8"/>
<circle cx="409.8" cy="829.8" r="2.8"/>
<circle cx="312.7" cy="859.8" r="2.8"/>
<circle cx="303.9" cy="801.7" r="2.8"/>
<circle cx="313.5" cy="822.4" r="2.8"/>
<circle cx="394.8" cy="826.9" r="2.8"/>
<circle cx="383.8" cy="857.4" r="2.8"/>
<circle cx="380.3" cy="798.8" r="2.8"/>
<circle cx="341.4" cy="781.4" r="2.8"/>
<circle cx="400.6" cy="823.2" r="2.8"/>
<circle cx="332.1" cy="784.6" r="2.8"/>
<circle cx="314.1" cy="843.2" r="2.8"/>
<circle cx="331.7" cy="797.0" r="2.8"/>
<circle cx="306.2" cy="819.1" r="2.8"/>
<circle cx="292.7" cy="832.2" r="2.8"/>
<circle cx="346.3" cy="793.3" r="2.8"/>
<circle cx="351.2" cy="832.6" r="2.8"/>
<circle cx="411.8" cy="832.4" r="2.8"/>
<circle cx="359.0" cy="847.7" r="2.8"/>
<circle cx="331.9" cy="836.1" r="2.8"/>
<circle cx="358.8" cy="820.1" r="2.8"/>
<circle cx="337.3" cy="845.8" r="2.8"/>
<circle cx="296.1" cy="818.5" r="2.8"/>
<circle cx="343.6" cy="844.4" r="2.8"/>
<circle cx="311.8" cy="804.0" r="2.8"/>
<circle cx="332.6" cy="805.0" r="2.8"/>
<circle cx="337.5" cy="863.8" r="2.8"/>
<circle cx="313.2" cy="846.2" r="2.8"/>
<circle cx="355.2" cy="859.0" r="2.8"/>
<circle cx="318.1" cy="834.9" r="2.8"/>
<circle cx="335.7" cy="820.7" r="2.8"/>
<circle cx="316.5" cy="800.2" r="2.8"/>
<circle cx="330.5" cy="859.2" r="2.8"/>
<circle cx="322.4" cy="807.9" r="2.8"/>
<circle cx="356.6" cy="800.4" r="2.8"/>
<circle cx="322.1" cy="791.1" r="2.8"/>
<circle cx="356.1" cy="790.9" r="2.8"/>
<circle cx="408.4" cy="808.6" r="2.8"/>
<circle cx="422.7" cy="823.8" r="2.8"/>
<circle cx="409.2" cy="838.5" r="2.8"/>
<circle cx="406.2" cy="840.4" r="2.8"/>
<circle cx="404.0" cy="815.2" r="2.8"/>
<circle cx="409.0" cy="829.2" r="2.8"/>
<circle cx="410.2" cy="820.5" r="2.8"/>
<circle cx="409.4" cy="815.6" r="2.8"/>
<circle cx="417.1" cy="827.3" r="2.8"/>
<circle cx="419.1" cy="817.7" r="2.8"/>
<circle cx="408.0" cy="826.3" r="2.8"/>
<circle cx="406.6" cy="814.3" r="2.8"/>
<circle cx="430.5" cy="830.1" r="2.8"/>
<circle cx="404.6" cy="835.4" r="2.8"/>
<circle cx="411.0" cy="832.0" r="2.8"/>
<circle cx="415.3" cy="823.3" r="2.8"/>
<circle cx="417.9" cy="832.3" r="2.8"/>
<circle cx="375.3" cy="726.7" r="2.8"/>
<circle cx="374.2" cy="730.8" r="2.8"/>
<circle cx="374.2" cy="735.3" r="2.8"/>
<circle cx="387.5" cy="752.5" r="2.8"/>
<circle cx="381.2" cy="748.8" r="2.8"/>
<circle cx="393.7" cy="766.2" r="2.8"/>
<circle cx="394.7" cy="770.0" r="2.8"/>
<circle cx="392.5" cy="866.7" r="2.8"/>
<circle cx="435.0" cy="847.5" r="2.8"/>
<circle cx="418.8" cy="839.2" r="2.8"/>
<circle cx="306.7" cy="785.0" r="2.8"/>
<circle cx="306.3" cy="795.5" r="2.8"/>
<circle cx="300.0" cy="806.7" r="2.8"/>
<circle cx="295.8" cy="812.0" r="2.8"/>
<circle cx="290.3" cy="829.2" r="2.8"/>
<circle cx="318.3" cy="751.2" r="2.8"/>
<circle cx="427.7" cy="820.3" r="2.8"/>
<circle cx="430.0" cy="833.6" r="2.8"/>
<circle cx="434.7" cy="833.6" r="2.8"/>
<circle cx="438.7" cy="832.3" r="2.8"/>
<circle cx="443.6" cy="837.3" r="2.8"/>
<circle cx="440.3" cy="841.6" r="2.8"/>
<circle cx="435.3" cy="847.6" r="2.8"/>
<circle cx="451.3" cy="838.3" r="2.8"/>
<circle cx="455.3" cy="841.6" r="2.8"/>
<circle cx="457.7" cy="844.9" r="2.8"/>
<circle cx="448.8" cy="850.0" r="2.8"/>
<circle cx="463.3" cy="850.3" r="2.8"/>
<circle cx="468.3" cy="849.6" r="2.8"/>
<circle cx="467.3" cy="854.4" r="2.8"/>
<circle cx="476.0" cy="852.0" r="2.8"/>
<circle cx="458.9" cy="857.9" r="2.8"/>
<circle cx="472.0" cy="862.0" r="2.8"/>
<circle cx="465.3" cy="866.0" r="2.8"/>
<circle cx="470.0" cy="868.3" r="2.8"/>
<circle cx="495.7" cy="870.4" r="2.8"/>
<circle cx="503.7" cy="871.6" r="2.8"/>
<circle cx="508.7" cy="874.9" r="2.8"/>
<circle cx="482.0" cy="874.4" r="2.8"/>
<circle cx="485.3" cy="873.3" r="2.8"/>
<circle cx="487.3" cy="874.9" r="2.8"/>
<circle cx="492.0" cy="881.3" r="2.8"/>
<circle cx="496.0" cy="883.3" r="2.8"/>
<circle cx="500.0" cy="882.7" r="2.8"/>
<circle cx="499.6" cy="886.4" r="2.8"/>
<circle cx="484.8" cy="885.1" r="2.8"/>
<circle cx="552.0" cy="792.0" r="2.8"/>
<circle cx="508.9" cy="918.0" r="2.8"/>
<circle cx="520.0" cy="978.0" r="2.8"/>
<circle cx="519.3" cy="984.0" r="2.8"/>
<circle cx="522.3" cy="989.6" r="2.8"/>
<circle cx="522.4" cy="996.5" r="2.8"/>
<circle cx="532.0" cy="993.3" r="2.8"/>
<circle cx="530.7" cy="996.0" r="2.8"/>
<circle cx="532.7" cy="998.7" r="2.8"/>
<circle cx="529.3" cy="999.3" r="2.8"/>
<circle cx="532.0" cy="1002.0" r="2.8"/>
<circle cx="530.0" cy="1004.0" r="2.8"/>
<circle cx="531.3" cy="1009.3" r="2.8"/>
<circle cx="530.0" cy="1011.3" r="2.8"/>
<circle cx="520.0" cy="1010.0" r="2.8"/>
<circle cx="522.7" cy="1008.7" r="2.8"/>
<circle cx="525.3" cy="1010.7" r="2.8"/>
<circle cx="519.3" cy="1013.3" r="2.8"/>
<circle cx="522.0" cy="1014.0" r="2.8"/>
<circle cx="524.7" cy="1014.7" r="2.8"/>
<circle cx="526.7" cy="1016.0" r="2.8"/>
<circle cx="522.7" cy="1016.7" r="2.8"/>
<circle cx="520.0" cy="1017.3" r="2.8"/>
<circle cx="613.5" cy="656.0" r="2.8"/>
<circle cx="627.3" cy="652.7" r="2.8"/>
<circle cx="598.8" cy="663.3" r="2.8"/>
<circle cx="609.7" cy="666.3" r="2.8"/>
<circle cx="619.3" cy="665.6" r="2.8"/>
<circle cx="636.7" cy="664.4" r="2.8"/>
<circle cx="649.7" cy="668.5" r="2.8"/>
<circle cx="600.7" cy="670.0" r="2.8"/>
<circle cx="642.5" cy="674.0" r="2.8"/>
<circle cx="619.3" cy="679.7" r="2.8"/>
<circle cx="612.0" cy="681.7" r="2.8"/>
<circle cx="653.2" cy="682.0" r="2.8"/>
<circle cx="611.3" cy="691.3" r="2.8"/>
<circle cx="609.3" cy="693.1" r="2.8"/>
<circle cx="626.1" cy="690.8" r="2.8"/>
<circle cx="615.3" cy="700.1" r="2.8"/>
<circle cx="635.3" cy="706.9" r="2.8"/>
<circle cx="671.3" cy="705.1" r="2.8"/>
<circle cx="676.1" cy="718.8" r="2.8"/>
<circle cx="676.4" cy="733.1" r="2.8"/>
<circle cx="677.5" cy="735.3" r="2.8"/>
<circle cx="586.3" cy="738.9" r="2.8"/>
<circle cx="581.6" cy="746.0" r="2.8"/>
<circle cx="544.7" cy="764.7" r="2.8"/>
<circle cx="549.6" cy="763.3" r="2.8"/>
<circle cx="546.0" cy="766.4" r="2.8"/>
<circle cx="574.0" cy="773.3" r="2.8"/>
<circle cx="575.7" cy="775.3" r="2.8"/>
<circle cx="571.3" cy="776.7" r="2.8"/>
<circle cx="560.0" cy="774.0" r="2.8"/>
<circle cx="550.0" cy="774.9" r="2.8"/>
<circle cx="555.3" cy="779.3" r="2.8"/>
<circle cx="563.3" cy="782.4" r="2.8"/>
<circle cx="552.1" cy="791.7" r="2.8"/>
<circle cx="634.0" cy="919.3" r="2.8"/>
<circle cx="632.0" cy="920.7" r="2.8"/>
<circle cx="630.0" cy="922.4" r="2.8"/>
<circle cx="628.0" cy="924.3" r="2.8"/>
<circle cx="627.1" cy="926.0" r="2.8"/>
<circle cx="630.0" cy="924.0" r="2.8"/>
<circle cx="622.0" cy="877.6" r="2.8"/>
<circle cx="636.4" cy="905.3" r="2.8"/>
<circle cx="638.7" cy="912.3" r="2.8"/>
<circle cx="645.7" cy="916.9" r="2.8"/>
<circle cx="682.4" cy="926.3" r="2.8"/>
<circle cx="721.3" cy="839.7" r="2.8"/>
<circle cx="726.0" cy="840.0" r="2.8"/>
<circle cx="729.3" cy="842.0" r="2.8"/>
<circle cx="732.7" cy="844.0" r="2.8"/>
<circle cx="736.7" cy="844.4" r="2.8"/>
<circle cx="741.3" cy="844.0" r="2.8"/>
<circle cx="745.1" cy="842.9" r="2.8"/>
<circle cx="703.3" cy="844.0" r="2.8"/>
<circle cx="707.3" cy="844.7" r="2.8"/>
<circle cx="712.7" cy="847.3" r="2.8"/>
<circle cx="695.3" cy="848.7" r="2.8"/>
<circle cx="698.7" cy="848.7" r="2.8"/>
<circle cx="696.7" cy="852.0" r="2.8"/>
<circle cx="700.7" cy="853.3" r="2.8"/>
<circle cx="704.0" cy="848.7" r="2.8"/>
<circle cx="706.7" cy="850.0" r="2.8"/>
<circle cx="708.7" cy="852.7" r="2.8"/>
<circle cx="703.3" cy="855.3" r="2.8"/>
<circle cx="707.3" cy="856.7" r="2.8"/>
<circle cx="711.3" cy="854.0" r="2.8"/>
<circle cx="713.3" cy="856.7" r="2.8"/>
<circle cx="710.7" cy="859.3" r="2.8"/>
<circle cx="707.1" cy="861.3" r="2.8"/>
<circle cx="706.7" cy="862.7" r="2.8"/>
<circle cx="715.3" cy="858.7" r="2.8"/>
<circle cx="719.3" cy="859.3" r="2.8"/>
<circle cx="717.3" cy="850.7" r="2.8"/>
<circle cx="721.3" cy="852.0" r="2.8"/>
<circle cx="724.0" cy="853.3" r="2.8"/>
<circle cx="727.3" cy="855.3" r="2.8"/>
<circle cx="731.3" cy="857.3" r="2.8"/>
<circle cx="735.3" cy="854.0" r="2.8"/>
<circle cx="738.0" cy="852.0" r="2.8"/>
<circle cx="739.3" cy="851.3" r="2.8"/>
<circle cx="739.3" cy="854.9" r="2.8"/>
<circle cx="703.6" cy="934.7" r="2.8"/>
<circle cx="708.0" cy="935.7" r="2.8"/>
<circle cx="723.1" cy="938.4" r="2.8"/>
<circle cx="722.7" cy="941.6" r="2.8"/>
<circle cx="713.3" cy="941.6" r="2.8"/>
<circle cx="715.3" cy="944.0" r="2.8"/>
<circle cx="718.0" cy="946.0" r="2.8"/>
<circle cx="658.0" cy="980.0" r="2.8"/>
<circle cx="731.6" cy="719.6" r="2.8"/>
<circle cx="731.7" cy="722.3" r="2.8"/>
<circle cx="750.9" cy="792.7" r="2.8"/>
<circle cx="802.0" cy="782.0" r="2.8"/>
<circle cx="805.3" cy="780.7" r="2.8"/>
<circle cx="803.3" cy="784.0" r="2.8"/>
<circle cx="806.0" cy="783.3" r="2.8"/>
<circle cx="807.7" cy="797.1" r="2.8"/>
<circle cx="811.3" cy="796.4" r="2.8"/>
</g>
<g fill="#7c51f4">
<circle cx="737.8" cy="150.3" r="2.8"/>
<circle cx="693.2" cy="189.5" r="2.8"/>
<circle cx="756.2" cy="224.2" r="2.8"/>
<circle cx="824.7" cy="217.0" r="2.8"/>
<circle cx="680.0" cy="250.3" r="2.8"/>
<circle cx="790.3" cy="299.5" r="2.8"/>
<circle cx="786.7" cy="307.3" r="2.8"/>
<circle cx="785.3" cy="309.3" r="2.8"/>
<circle cx="546.3" cy="221.3" r="2.8"/>
<circle cx="560.3" cy="222.5" r="2.8"/>
<circle cx="553.3" cy="225.3" r="2.8"/>
<circle cx="572.0" cy="230.3" r="2.8"/>
<circle cx="572.7" cy="234.5" r="2.8"/>
<circle cx="541.7" cy="251.3" r="2.8"/>
<circle cx="543.7" cy="254.7" r="2.8"/>
<circle cx="551.5" cy="251.5" r="2.8"/>
<circle cx="549.7" cy="314.2" r="2.8"/>
<circle cx="543.0" cy="318.7" r="2.8"/>
<circle cx="470.8" cy="461.7" r="2.8"/>
<circle cx="424.7" cy="562.7" r="2.8"/>
<circle cx="424.0" cy="565.3" r="2.8"/>
<circle cx="427.3" cy="572.0" r="2.8"/>
<circle cx="436.9" cy="568.3" r="2.8"/>
<circle cx="436.7" cy="590.0" r="2.8"/>
<circle cx="444.0" cy="594.7" r="2.8"/>
<circle cx="448.7" cy="590.7" r="2.8"/>
<circle cx="453.1" cy="576.0" r="2.8"/>
<circle cx="456.0" cy="578.0" r="2.8"/>
<circle cx="464.9" cy="570.0" r="2.8"/>
<circle cx="459.3" cy="590.0" r="2.8"/>
<circle cx="477.7" cy="592.7" r="2.8"/>
<circle cx="480.0" cy="561.3" r="2.8"/>
<circle cx="483.3" cy="560.7" r="2.8"/>
<circle cx="500.7" cy="578.7" r="2.8"/>
<circle cx="499.7" cy="554.0" r="2.8"/>
<circle cx="740.7" cy="534.0" r="2.8"/>
<circle cx="741.3" cy="535.7" r="2.8"/>
<circle cx="750.7" cy="594.9" r="2.8"/>
<circle cx="742.4" cy="595.3" r="2.8"/>
<circle cx="724.7" cy="596.7" r="2.8"/>
<circle cx="765.3" cy="592.3" r="2.8"/>
<circle cx="761.6" cy="600.3" r="2.8"/>
<circle cx="778.0" cy="588.7" r="2.8"/>
<circle cx="780.0" cy="587.7" r="2.8"/>
<circle cx="1031.3" cy="649.2" r="2.8"/>
<circle cx="972.0" cy="661.7" r="2.8"/>
<circle cx="980.8" cy="658.3" r="2.8"/>
<circle cx="982.5" cy="663.7" r="2.8"/>
<circle cx="1057.3" cy="659.2" r="2.8"/>
<circle cx="1043.8" cy="664.5" r="2.8"/>
<circle cx="1028.3" cy="675.8" r="2.8"/>
<circle cx="1042.5" cy="674.2" r="2.8"/>
<circle cx="1051.2" cy="675.3" r="2.8"/>
<circle cx="1007.5" cy="680.5" r="2.8"/>
<circle cx="996.3" cy="683.0" r="2.8"/>
<circle cx="962.0" cy="692.0" r="2.8"/>
<circle cx="975.8" cy="695.5" r="2.8"/>
<circle cx="989.2" cy="696.7" r="2.8"/>
<circle cx="993.3" cy="697.0" r="2.8"/>
<circle cx="1048.7" cy="695.5" r="2.8"/>
<circle cx="1049.5" cy="702.5" r="2.8"/>
<circle cx="947.3" cy="706.0" r="2.8"/>
<circle cx="988.5" cy="706.0" r="2.8"/>
<circle cx="1022.2" cy="704.7" r="2.8"/>
<circle cx="965.0" cy="710.8" r="2.8"/>
<circle cx="934.5" cy="717.2" r="2.8"/>
<circle cx="996.7" cy="717.7" r="2.8"/>
<circle cx="1032.5" cy="714.7" r="2.8"/>
<circle cx="945.2" cy="729.2" r="2.8"/>
<circle cx="973.2" cy="728.3" r="2.8"/>
<circle cx="987.3" cy="727.0" r="2.8"/>
<circle cx="1006.5" cy="727.5" r="2.8"/>
<circle cx="970.5" cy="735.5" r="2.8"/>
<circle cx="975.3" cy="736.2" r="2.8"/>
<circle cx="992.5" cy="741.3" r="2.8"/>
<circle cx="1014.2" cy="751.2" r="2.8"/>
<circle cx="1020.8" cy="752.5" r="2.8"/>
<circle cx="988.2" cy="757.2" r="2.8"/>
<circle cx="997.8" cy="757.5" r="2.8"/>
<circle cx="980.5" cy="759.7" r="2.8"/>
<circle cx="1004.3" cy="761.3" r="2.8"/>
<circle cx="973.2" cy="761.8" r="2.8"/>
<circle cx="950.0" cy="764.2" r="2.8"/>
<circle cx="954.5" cy="764.2" r="2.8"/>
<circle cx="963.8" cy="765.8" r="2.8"/>
<circle cx="991.3" cy="765.3" r="2.8"/>
<circle cx="995.3" cy="764.5" r="2.8"/>
<circle cx="1009.2" cy="768.3" r="2.8"/>
<circle cx="1006.7" cy="770.3" r="2.8"/>
<circle cx="913.3" cy="772.5" r="2.8"/>
<circle cx="917.0" cy="770.8" r="2.8"/>
<circle cx="920.8" cy="779.2" r="2.8"/>
<circle cx="929.5" cy="781.3" r="2.8"/>
<circle cx="924.8" cy="786.5" r="2.8"/>
<circle cx="351.7" cy="726.2" r="2.8"/>
<circle cx="358.7" cy="733.0" r="2.8"/>
<circle cx="344.2" cy="739.7" r="2.8"/>
<circle cx="352.2" cy="786.7" r="2.8"/>
<circle cx="376.8" cy="790.2" r="2.8"/>
<circle cx="334.7" cy="806.0" r="2.8"/>
<circle cx="356.2" cy="811.2" r="2.8"/>
<circle cx="354.7" cy="820.0" r="2.8"/>
<circle cx="305.8" cy="823.3" r="2.8"/>
<circle cx="318.8" cy="829.7" r="2.8"/>
<circle cx="339.2" cy="840.8" r="2.8"/>
<circle cx="344.2" cy="846.2" r="2.8"/>
<circle cx="305.8" cy="845.0" r="2.8"/>
<circle cx="332.0" cy="851.7" r="2.8"/>
<circle cx="365.0" cy="840.0" r="2.8"/>
<circle cx="365.5" cy="843.3" r="2.8"/>
<circle cx="378.7" cy="841.3" r="2.8"/>
<circle cx="395.3" cy="824.2" r="2.8"/>
<circle cx="406.3" cy="835.5" r="2.8"/>
<circle cx="431.3" cy="826.7" r="2.8"/>
<circle cx="431.7" cy="826.4" r="2.8"/>
<circle cx="490.7" cy="868.9" r="2.8"/>
<circle cx="508.4" cy="879.3" r="2.8"/>
<circle cx="527.1" cy="983.7" r="2.8"/>
<circle cx="527.7" cy="999.6" r="2.8"/>
<circle cx="527.5" cy="1006.9" r="2.8"/>
<circle cx="517.1" cy="1018.7" r="2.8"/>
<circle cx="438.0" cy="1044.4" r="2.8"/>
<circle cx="435.7" cy="1046.3" r="2.8"/>
<circle cx="613.5" cy="651.6" r="2.8"/>
<circle cx="630.0" cy="654.9" r="2.8"/>
<circle cx="641.3" cy="662.7" r="2.8"/>
<circle cx="597.3" cy="683.7" r="2.8"/>
<circle cx="642.1" cy="682.4" r="2.8"/>
<circle cx="566.4" cy="765.7" r="2.8"/>
<circle cx="552.4" cy="777.6" r="2.8"/>
<circle cx="566.9" cy="778.4" r="2.8"/>
<circle cx="609.6" cy="844.0" r="2.8"/>
<circle cx="638.9" cy="915.7" r="2.8"/>
<circle cx="707.6" cy="834.3" r="2.8"/>
<circle cx="725.1" cy="858.7" r="2.8"/>
<circle cx="718.0" cy="938.4" r="2.8"/>
<circle cx="657.7" cy="982.5" r="2.8"/>
</g>
<g fill="#6b42f7">
<circle cx="690.8" cy="131.2" r="2.8"/>
<circle cx="717.3" cy="179.5" r="2.8"/>
<circle cx="475.5" cy="460.0" r="2.8"/>
<circle cx="606.7" cy="386.2" r="2.8"/>
<circle cx="610.0" cy="446.5" r="2.8"/>
<circle cx="590.8" cy="452.0" r="2.8"/>
<circle cx="680.8" cy="421.3" r="2.8"/>
<circle cx="685.8" cy="422.8" r="2.8"/>
<circle cx="686.0" cy="433.8" r="2.8"/>
<circle cx="722.5" cy="457.2" r="2.8"/>
<circle cx="720.0" cy="461.7" r="2.8"/>
<circle cx="669.0" cy="457.7" r="2.8"/>
<circle cx="724.7" cy="471.7" r="2.8"/>
<circle cx="201.7" cy="503.2" r="2.8"/>
<circle cx="215.9" cy="503.6" r="2.8"/>
<circle cx="222.9" cy="522.4" r="2.8"/>
<circle cx="432.0" cy="585.3" r="2.8"/>
<circle cx="449.1" cy="594.0" r="2.8"/>
<circle cx="448.0" cy="579.1" r="2.8"/>
<circle cx="466.3" cy="594.0" r="2.8"/>
<circle cx="754.9" cy="591.3" r="2.8"/>
<circle cx="1046.2" cy="682.5" r="2.8"/>
<circle cx="341.3" cy="836.3" r="2.8"/>
<circle cx="474.7" cy="863.7" r="2.8"/>
<circle cx="660.4" cy="985.0" r="2.8"/>
</g>
<g fill="#0000ff">
<circle cx="460.4" cy="587.3" r="2.8"/>
<circle cx="770.4" cy="578.1" r="2.8"/>
<circle cx="1026.0" cy="647.2" r="2.8"/>
<circle cx="1025.3" cy="743.3" r="2.8"/>
</g>
<g stroke="#000" stroke-width="3" fill="none">
<path d="M96 51V1119.4H1117.7" stroke-width="3.3" stroke-linejoin="miter"/>
<path d="M91 277H95M91 571H95M91 864H95" />
<path d="M141.5 1120V1124.5M307.3 1120V1124.5M473.2 1120V1124.5M638.6 1120V1124.5M804.4 1120V1124.5M970.4 1120V1124.5"/>
</g>
<g font-size="30.2" text-anchor="end">
<text x="88" y="287.8">10</text><text x="88" y="581.8">0</text><text x="88" y="874.8">-10</text>
</g>
<g font-size="30.2" text-anchor="middle">
<text x="141.5" y="1147.6">-15</text><text x="307.3" y="1147.6">-10</text><text x="473.2" y="1147.6">-5</text><text x="638.6" y="1147.6">0</text><text x="804.4" y="1147.6">5</text><text x="970.4" y="1147.6">10</text>
<text x="604" y="1181" font-size="30.2">umapNC_1</text>
<text transform="translate(33,586) rotate(-90)" font-size="30.2">umapNC_2</text>
</g>
<rect x="1130.2" y="547.6" width="15.5" height="76.4" fill="url(#lg)"/>
<g stroke="#fff" stroke-width="0.9"><path d="M1130.2 567.3h3.1M1142.6 567.3h3.1M1130.2 586.2h3.1M1142.6 586.2h3.1M1130.2 605.1h3.1M1142.6 605.1h3.1M1130.2 548.4h3.1M1142.6 548.4h3.1M1130.2 623.6h3.1M1142.6 623.6h3.1"/></g>
<g font-size="24.6">
<text x="1154" y="557.4">1.6</text><text x="1154" y="576.3">1.2</text><text x="1154" y="595.2">0.8</text><text x="1154" y="614.1">0.4</text><text x="1154" y="633">0.0</text>
</g>
</svg>
</body></html>
